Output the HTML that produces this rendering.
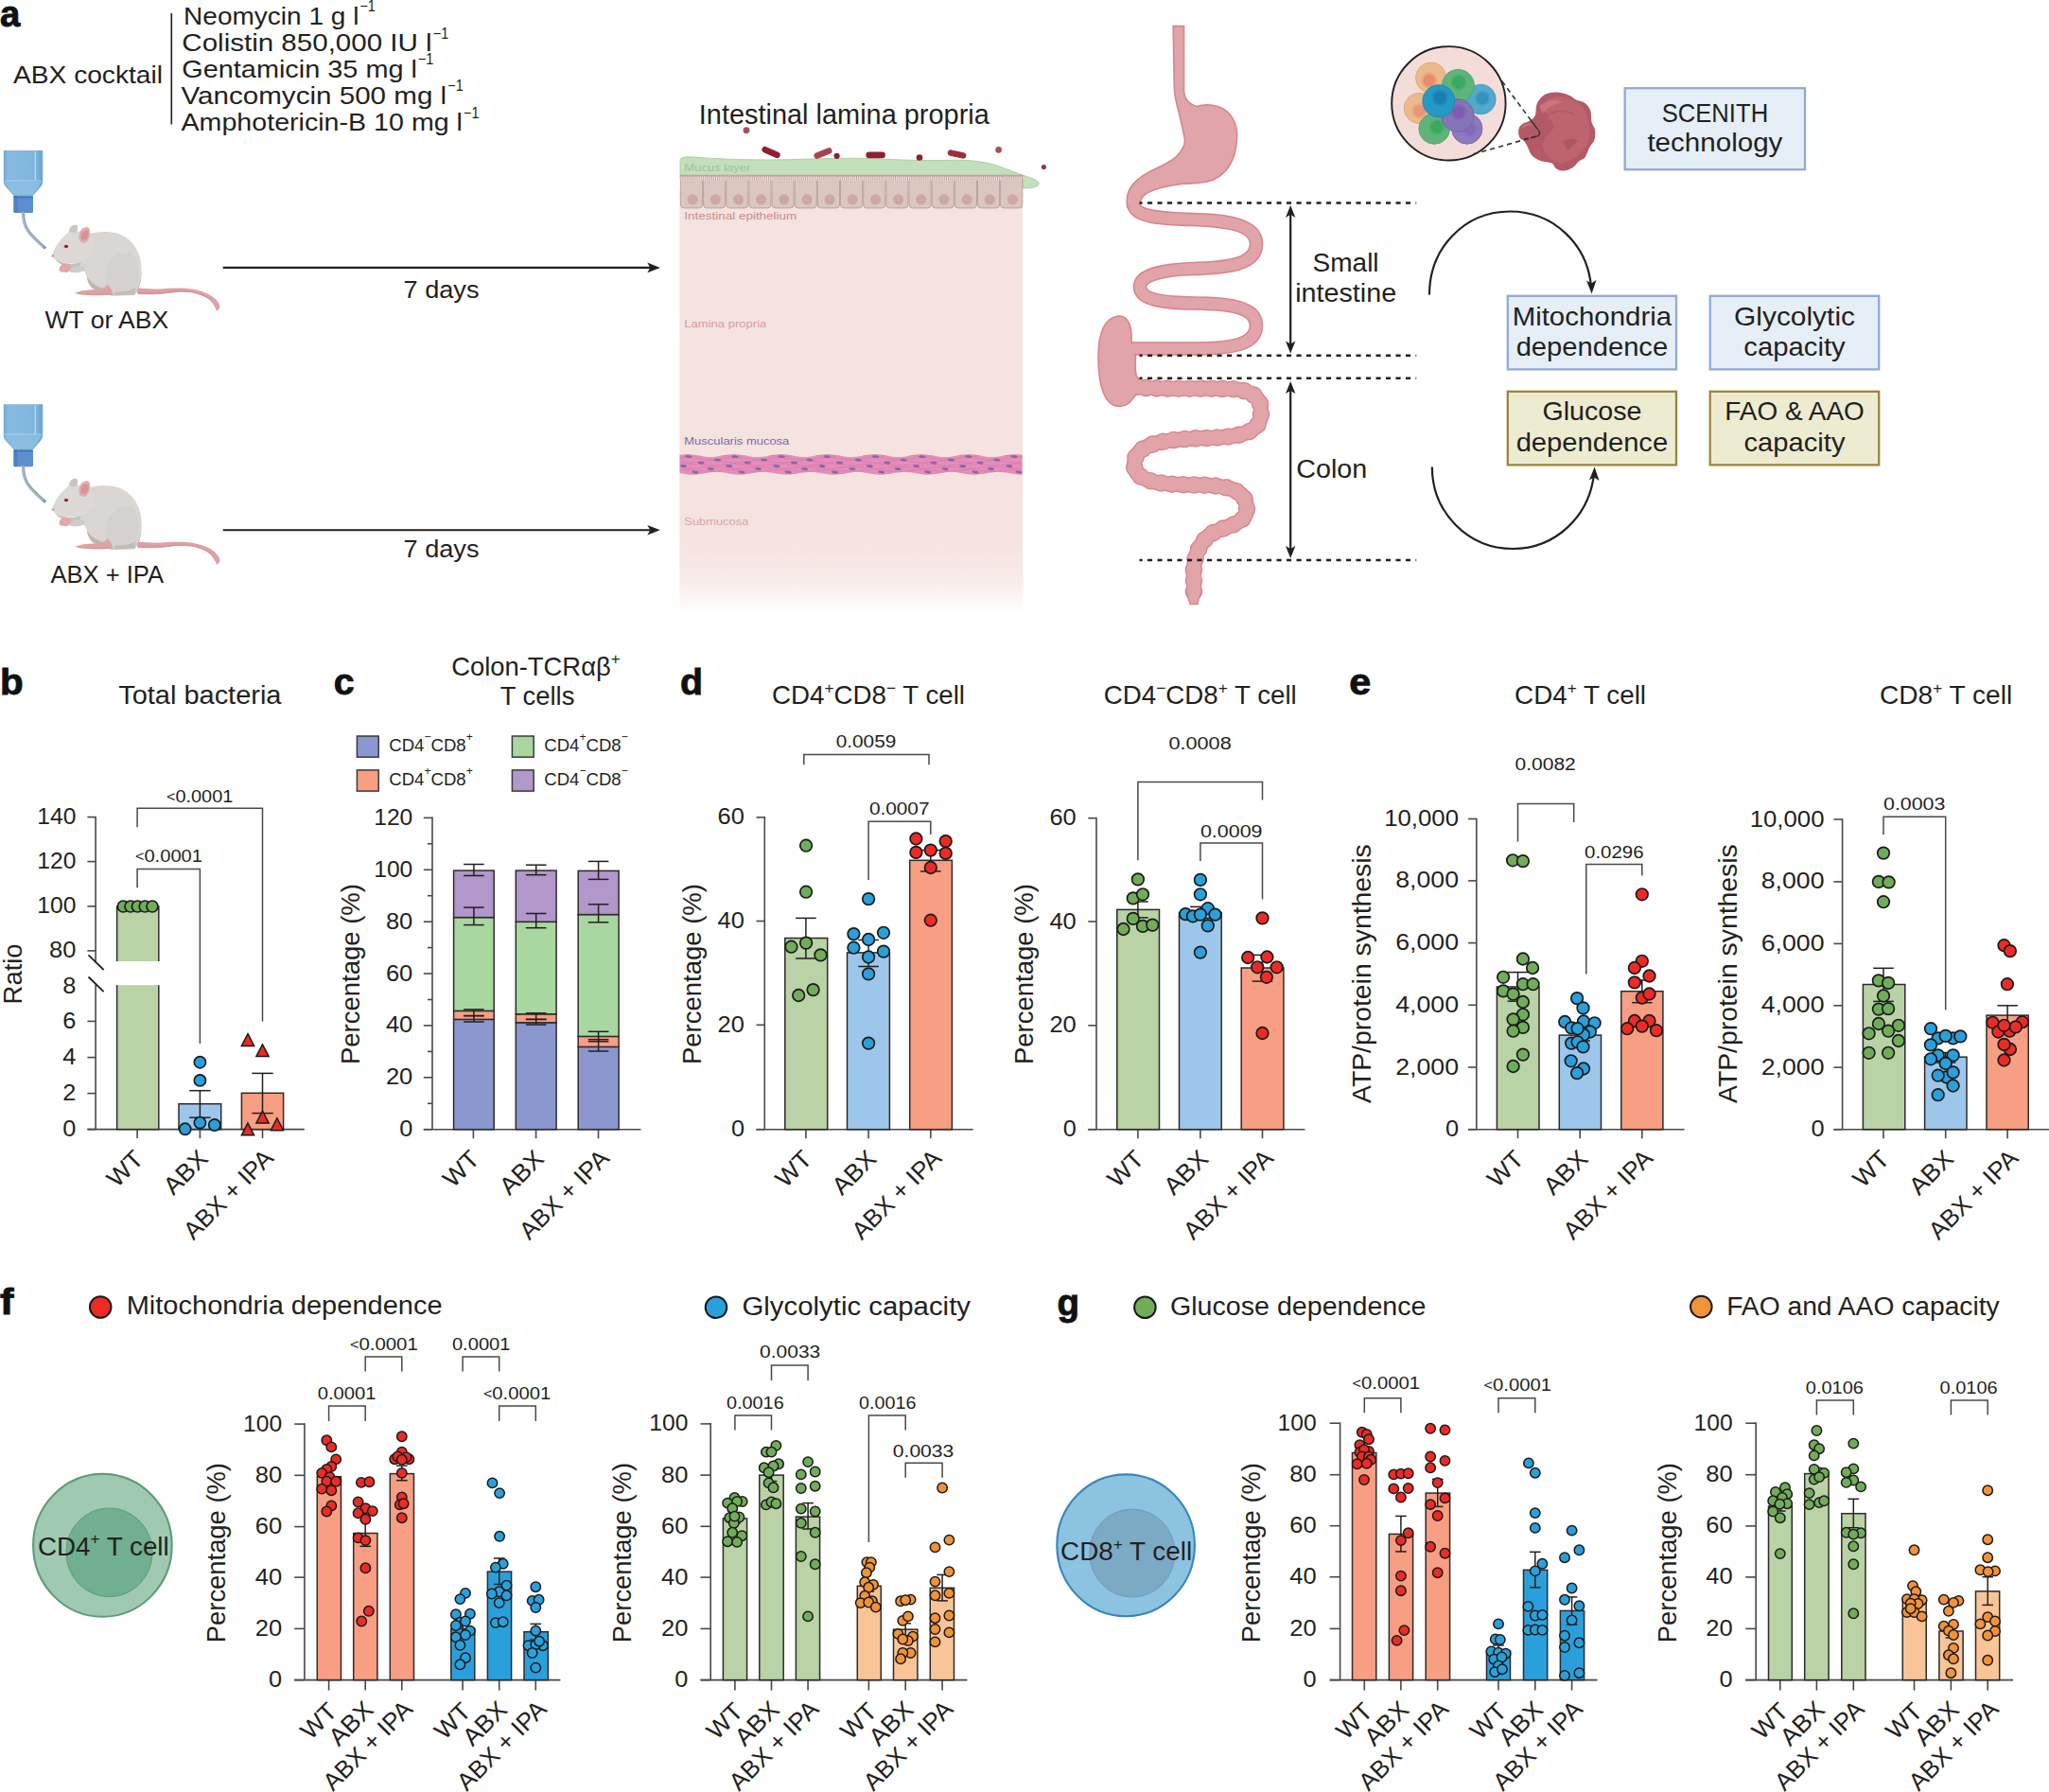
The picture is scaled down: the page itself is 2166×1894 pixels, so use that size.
<!DOCTYPE html>
<html><head><meta charset="utf-8"><title>Figure</title>
<style>html,body{margin:0;padding:0;background:#fff}svg{display:block}text{font-family:"Liberation Sans", sans-serif}</style>
</head><body>
<svg width="2166" height="1894" viewBox="0 0 2166 1894">
<rect width="2166" height="1894" fill="#fff"/>
<g fill="#231f20">
<defs><linearGradient id="bottleG" x1="0" x2="1" y1="0" y2="0"><stop offset="0" stop-color="#6fa9d6"/><stop offset="0.12" stop-color="#86badf"/><stop offset="0.7" stop-color="#82b7dd"/><stop offset="0.86" stop-color="#78b0d9"/><stop offset="1" stop-color="#6aa4d2"/></linearGradient></defs>
<text x="0.0" y="27.5" font-size="39" textLength="21.3" lengthAdjust="spacingAndGlyphs" font-weight="bold" fill="#111" stroke="#111" stroke-width="0.9">a</text>
<text x="14.0" y="87.7" font-size="26" textLength="158.0" lengthAdjust="spacingAndGlyphs">ABX cocktail</text>
<line x1="181.3" y1="14.0" x2="181.3" y2="131.5" stroke="#231f20" stroke-width="1.6" />
<text x="194.1" y="25.8" font-size="26" textLength="185.3" lengthAdjust="spacingAndGlyphs">Neomycin 1 g l</text>
<text x="380.4" y="12.3" font-size="16.5" textLength="16.5" lengthAdjust="spacingAndGlyphs">−1</text>
<text x="192.3" y="54.1" font-size="26" textLength="264.4" lengthAdjust="spacingAndGlyphs">Colistin 850,000 IU l</text>
<text x="457.7" y="40.6" font-size="16.5" textLength="16.5" lengthAdjust="spacingAndGlyphs">−1</text>
<text x="192.3" y="81.8" font-size="26" textLength="248.6" lengthAdjust="spacingAndGlyphs">Gentamicin 35 mg l</text>
<text x="441.9" y="68.3" font-size="16.5" textLength="16.5" lengthAdjust="spacingAndGlyphs">−1</text>
<text x="191.5" y="109.8" font-size="26" textLength="280.7" lengthAdjust="spacingAndGlyphs">Vancomycin 500 mg l</text>
<text x="473.2" y="96.3" font-size="16.5" textLength="16.5" lengthAdjust="spacingAndGlyphs">−1</text>
<text x="191.5" y="138.1" font-size="26" textLength="297.5" lengthAdjust="spacingAndGlyphs">Amphotericin-B 10 mg l</text>
<text x="490.0" y="124.6" font-size="16.5" textLength="16.5" lengthAdjust="spacingAndGlyphs">−1</text>
<g transform="translate(0 0)">

<path d="M3.8 159 L45.2 159 L45.2 192 Q45.2 195 43 197.5 L34.5 207.5 L15 207.5 L6 197.5 Q3.8 195 3.8 192 Z" fill="url(#bottleG)" stroke="none" stroke-width="1.5" />
<path d="M5 192.5 L44 192.5 L34 206 L15.5 206 Z" fill="#8cc0e2" stroke="none" stroke-width="1.5" opacity="0.8"/>
<path d="M5 191 L44 191" fill="none" stroke="#a8d2ee" stroke-width="1.2" />
<rect x="36.5" y="160.0" width="1.6" height="30.0" fill="#b4d8f0" stroke="none" stroke-width="1.5" />
<rect x="14.5" y="206.8" width="20.5" height="18.2" fill="#5b8fd0" stroke="none" stroke-width="1.5" rx="1.5"/>
<rect x="14.5" y="206.8" width="4.0" height="18.2" fill="#4f80c4" stroke="none" stroke-width="1.5" rx="1"/>
<path d="M14.5 208.5 L35 208.5" fill="none" stroke="#3f6fb5" stroke-width="1.2" />
<path d="M24.5 225 C24.5 240 30 247 47 261.5" fill="none" stroke="#8fa3b8" stroke-width="3.2" stroke-linecap="round"/>
<path d="M24 225 C24 240 29.5 247 46.5 261.8" fill="none" stroke="#b8c8d8" stroke-width="1" stroke-linecap="round"/>
<circle cx="47.0" cy="261.5" r="1.6" fill="#7f96ad" stroke="none" stroke-width="1.5" />
<path d="M144.9 304.1 C152 305.2 160 305.6 166.9 305.5 C174 305.2 180 304.6 186.4 304.6 C193 304.6 200 305 205.9 306 C211 307 216.5 308.8 220.6 310.9 C224 312.8 227.2 315.2 229.4 317.7 C231 319.6 232 321.6 232.3 323.6 C232.5 325.5 231.4 327.4 229.4 328.5 L228.4 327.5 C228 325 227.2 322.6 225.9 320.7 C224 318.2 221.5 316.3 218.6 314.8 C215 313 210.5 311.2 205.9 309.9 C200 308.7 193 308.6 186.4 308.9 C180 309.4 174 310.6 166.9 310.9 C160 311.2 152 311.2 145.4 310.9 Z" fill="#dca2a5" stroke="none" stroke-width="1.5" />
<path d="M146 309.6 C160 310.2 175 309.5 186.4 307.9 C196 307.4 206 308.6 215 312.2 C221 315 225.5 319 227.6 324.5" fill="none" stroke="#cc8a8e" stroke-width="1.1" stroke-linecap="round" opacity="0.7"/>
<path d="M92 292 C92 304 104 312.5 122 312.5 L142 312 C149 304 151 292 148 280 Z" fill="#bdb6b2" stroke="none" stroke-width="1.5" />
<path d="M73.5 262 C82 248 100 243.5 118 245.5 C138 248 149 265 149.5 283 C150 297 146 307 141 311.5 L120 312 C118 304 114 302 110 305 C100 302 92 296 90 288 C84 284 80 280 78 276 Z" fill="#d9d6d3" stroke="none" stroke-width="1.5" />
<path d="M112 303 C108 285 118 262 140 268 C149 280 149 298 141 311 L120 312 Z" fill="#d4d1ce" stroke="none" stroke-width="1.5" />
<path d="M121 312 L141.5 311.2 L143.5 304 C136 308 128 309 121 308.5 Z" fill="#c2bcb8" stroke="none" stroke-width="1.5" />
<path d="M78.6 309.9 C85 307 95 306 104 306.4 C108 306 111.5 303.5 113.5 300.5 C116 303 118 306 119.5 311 C108 312.8 92 313 78.6 309.9 Z" fill="#dda3a6" stroke="none" stroke-width="1.5" />
<path d="M82 310.4 C92 311.3 104 311.5 117 310.8" fill="none" stroke="#c98a8e" stroke-width="0.9" opacity="0.7"/>
<path d="M55.5 269.5 C57 262 64 252 73 245 C76 240 80 237 82 238.5 C82.5 241 82 243 81.5 244.5 C90 245 98 250 100 258 C100 268 92 276 82 277.5 C72 279.5 62 277 57.5 273.5 Z" fill="#dcd9d6" stroke="none" stroke-width="1.5" />
<path d="M73 245 C73 240 77 236.5 81 238 C82.5 240 82 243.5 80.5 246 Z" fill="#c9c4c2" stroke="none" stroke-width="1.5" />
<path d="M84 254 C82 246 86 240 92.5 240 C96.5 241.5 96 250 92 255 C89.5 257.5 85.5 257.5 84 254 Z" fill="#e2a9ac" stroke="none" stroke-width="1.5" />
<path d="M86 253 C85 247.5 88 243 92 243 C94 245 93.5 250 91 253.5 Z" fill="#d69497" stroke="none" stroke-width="1.5" />
<path d="M58 274 C66 279 78 280 86 277 C84 283 80 285 76 284 C70 283 62 279 58 274 Z" fill="#c6c1be" stroke="none" stroke-width="1.5" />
<path d="M74 284 C80 280 88 280 90 284 C88 288 80 289 74 287.5 Z" fill="#cfcbc8" stroke="none" stroke-width="1.5" />
<path d="M62.5 284.5 C63 280.5 66.5 278 70 278.5 C73.5 279 75.5 282 74.5 285 C73 288 69.5 288.5 67.5 287.5 C65 288 62.5 287 62.5 284.5 Z" fill="#e3a7ab" stroke="none" stroke-width="1.5" />
<ellipse cx="70" cy="260.4" rx="2.3" ry="1.7" fill="#b3262b"/>
<circle cx="70.0" cy="260.4" r="0.9" fill="#7c1015" stroke="none" stroke-width="1.5" />
<circle cx="56.0" cy="270.5" r="1.4" fill="#d89a9d" stroke="none" stroke-width="1.5" />
</g>
<text x="47.6" y="347.0" font-size="26" textLength="130.5" lengthAdjust="spacingAndGlyphs">WT or ABX</text>
<g transform="translate(0 268.2)">

<path d="M3.8 159 L45.2 159 L45.2 192 Q45.2 195 43 197.5 L34.5 207.5 L15 207.5 L6 197.5 Q3.8 195 3.8 192 Z" fill="url(#bottleG)" stroke="none" stroke-width="1.5" />
<path d="M5 192.5 L44 192.5 L34 206 L15.5 206 Z" fill="#8cc0e2" stroke="none" stroke-width="1.5" opacity="0.8"/>
<path d="M5 191 L44 191" fill="none" stroke="#a8d2ee" stroke-width="1.2" />
<rect x="36.5" y="160.0" width="1.6" height="30.0" fill="#b4d8f0" stroke="none" stroke-width="1.5" />
<rect x="14.5" y="206.8" width="20.5" height="18.2" fill="#5b8fd0" stroke="none" stroke-width="1.5" rx="1.5"/>
<rect x="14.5" y="206.8" width="4.0" height="18.2" fill="#4f80c4" stroke="none" stroke-width="1.5" rx="1"/>
<path d="M14.5 208.5 L35 208.5" fill="none" stroke="#3f6fb5" stroke-width="1.2" />
<path d="M24.5 225 C24.5 240 30 247 47 261.5" fill="none" stroke="#8fa3b8" stroke-width="3.2" stroke-linecap="round"/>
<path d="M24 225 C24 240 29.5 247 46.5 261.8" fill="none" stroke="#b8c8d8" stroke-width="1" stroke-linecap="round"/>
<circle cx="47.0" cy="261.5" r="1.6" fill="#7f96ad" stroke="none" stroke-width="1.5" />
<path d="M144.9 304.1 C152 305.2 160 305.6 166.9 305.5 C174 305.2 180 304.6 186.4 304.6 C193 304.6 200 305 205.9 306 C211 307 216.5 308.8 220.6 310.9 C224 312.8 227.2 315.2 229.4 317.7 C231 319.6 232 321.6 232.3 323.6 C232.5 325.5 231.4 327.4 229.4 328.5 L228.4 327.5 C228 325 227.2 322.6 225.9 320.7 C224 318.2 221.5 316.3 218.6 314.8 C215 313 210.5 311.2 205.9 309.9 C200 308.7 193 308.6 186.4 308.9 C180 309.4 174 310.6 166.9 310.9 C160 311.2 152 311.2 145.4 310.9 Z" fill="#dca2a5" stroke="none" stroke-width="1.5" />
<path d="M146 309.6 C160 310.2 175 309.5 186.4 307.9 C196 307.4 206 308.6 215 312.2 C221 315 225.5 319 227.6 324.5" fill="none" stroke="#cc8a8e" stroke-width="1.1" stroke-linecap="round" opacity="0.7"/>
<path d="M92 292 C92 304 104 312.5 122 312.5 L142 312 C149 304 151 292 148 280 Z" fill="#bdb6b2" stroke="none" stroke-width="1.5" />
<path d="M73.5 262 C82 248 100 243.5 118 245.5 C138 248 149 265 149.5 283 C150 297 146 307 141 311.5 L120 312 C118 304 114 302 110 305 C100 302 92 296 90 288 C84 284 80 280 78 276 Z" fill="#d9d6d3" stroke="none" stroke-width="1.5" />
<path d="M112 303 C108 285 118 262 140 268 C149 280 149 298 141 311 L120 312 Z" fill="#d4d1ce" stroke="none" stroke-width="1.5" />
<path d="M121 312 L141.5 311.2 L143.5 304 C136 308 128 309 121 308.5 Z" fill="#c2bcb8" stroke="none" stroke-width="1.5" />
<path d="M78.6 309.9 C85 307 95 306 104 306.4 C108 306 111.5 303.5 113.5 300.5 C116 303 118 306 119.5 311 C108 312.8 92 313 78.6 309.9 Z" fill="#dda3a6" stroke="none" stroke-width="1.5" />
<path d="M82 310.4 C92 311.3 104 311.5 117 310.8" fill="none" stroke="#c98a8e" stroke-width="0.9" opacity="0.7"/>
<path d="M55.5 269.5 C57 262 64 252 73 245 C76 240 80 237 82 238.5 C82.5 241 82 243 81.5 244.5 C90 245 98 250 100 258 C100 268 92 276 82 277.5 C72 279.5 62 277 57.5 273.5 Z" fill="#dcd9d6" stroke="none" stroke-width="1.5" />
<path d="M73 245 C73 240 77 236.5 81 238 C82.5 240 82 243.5 80.5 246 Z" fill="#c9c4c2" stroke="none" stroke-width="1.5" />
<path d="M84 254 C82 246 86 240 92.5 240 C96.5 241.5 96 250 92 255 C89.5 257.5 85.5 257.5 84 254 Z" fill="#e2a9ac" stroke="none" stroke-width="1.5" />
<path d="M86 253 C85 247.5 88 243 92 243 C94 245 93.5 250 91 253.5 Z" fill="#d69497" stroke="none" stroke-width="1.5" />
<path d="M58 274 C66 279 78 280 86 277 C84 283 80 285 76 284 C70 283 62 279 58 274 Z" fill="#c6c1be" stroke="none" stroke-width="1.5" />
<path d="M74 284 C80 280 88 280 90 284 C88 288 80 289 74 287.5 Z" fill="#cfcbc8" stroke="none" stroke-width="1.5" />
<path d="M62.5 284.5 C63 280.5 66.5 278 70 278.5 C73.5 279 75.5 282 74.5 285 C73 288 69.5 288.5 67.5 287.5 C65 288 62.5 287 62.5 284.5 Z" fill="#e3a7ab" stroke="none" stroke-width="1.5" />
<ellipse cx="70" cy="260.4" rx="2.3" ry="1.7" fill="#b3262b"/>
<circle cx="70.0" cy="260.4" r="0.9" fill="#7c1015" stroke="none" stroke-width="1.5" />
<circle cx="56.0" cy="270.5" r="1.4" fill="#d89a9d" stroke="none" stroke-width="1.5" />
</g>
<text x="53.4" y="615.8" font-size="26" textLength="119.7" lengthAdjust="spacingAndGlyphs">ABX + IPA</text>
<line x1="235.7" y1="282.9" x2="690.0" y2="282.9" stroke="#231f20" stroke-width="2.1" />
<path d="M697.8 282.9 L684.3 277.59999999999997 L687.3 282.9 L684.3 288.2 Z" fill="#231f20" stroke="none" stroke-width="1.5" />
<text x="426.5" y="314.9" font-size="26" textLength="80.0" lengthAdjust="spacingAndGlyphs">7 days</text>
<line x1="235.7" y1="560.2" x2="690.0" y2="560.2" stroke="#231f20" stroke-width="2.1" />
<path d="M697.8 560.2 L684.3 554.9000000000001 L687.3 560.2 L684.3 565.5 Z" fill="#231f20" stroke="none" stroke-width="1.5" />
<text x="426.5" y="589.3" font-size="26" textLength="80.0" lengthAdjust="spacingAndGlyphs">7 days</text>
<text x="738.8" y="130.8" font-size="29" textLength="307.0" lengthAdjust="spacingAndGlyphs">Intestinal lamina propria</text>
<defs><linearGradient id="tfade" x1="0" x2="0" y1="0" y2="1"><stop offset="0" stop-color="#f5e3e0"/><stop offset="0.82" stop-color="#f5e3e0"/><stop offset="0.92" stop-color="#f9ecea"/><stop offset="0.97" stop-color="#fdf8f7"/><stop offset="1" stop-color="#ffffff"/></linearGradient></defs>
<rect x="718.4" y="200.0" width="362.6" height="450.0" fill="url(#tfade)" stroke="none" stroke-width="1.5" />
<path d="M719 169.5 C719.5 166 724 165.3 735 166.2 C760 168.2 800 169.8 840 168.6 C875 167.4 905 166.6 935 168.2 C960 169.6 985 170 1010 169.2 C1030 169.2 1045 171.5 1058 176.5 C1072 182 1084 186 1092 189 C1098 191.5 1099.5 194 1097 196.2 C1093 198.6 1087 198.8 1081.5 199 L1081.5 188.5 L719 188.5 Z" fill="#c3dfbb" stroke="#acd1a5" stroke-width="1" />
<text x="723.3" y="181.3" font-size="11.5" textLength="70.0" lengthAdjust="spacingAndGlyphs" fill="#9dc399">Mucus layer</text>
<path d="M719.4 187.5 L742.6 187.5 L742.6 216 Q742.6 219.9 739.1 219.9 L722.9 219.9 Q719.4 219.9 719.4 216 Z" fill="#dbc6c0" stroke="#bca39d" stroke-width="1" />
<circle cx="732.2" cy="210.8" r="5.5" fill="#cba8a4" stroke="none" stroke-width="1.5" />
<path d="M743.6 187.5 L766.7 187.5 L766.7 216 Q766.7 219.9 763.2 219.9 L747.1 219.9 Q743.6 219.9 743.6 216 Z" fill="#dbc6c0" stroke="#bca39d" stroke-width="1" />
<circle cx="756.3" cy="210.8" r="5.5" fill="#cba8a4" stroke="none" stroke-width="1.5" />
<path d="M767.7 187.5 L790.9 187.5 L790.9 216 Q790.9 219.9 787.4 219.9 L771.2 219.9 Q767.7 219.9 767.7 216 Z" fill="#dbc6c0" stroke="#bca39d" stroke-width="1" />
<circle cx="780.5" cy="210.8" r="5.5" fill="#cba8a4" stroke="none" stroke-width="1.5" />
<path d="M791.9 187.5 L815.0 187.5 L815.0 216 Q815.0 219.9 811.5 219.9 L795.4 219.9 Q791.9 219.9 791.9 216 Z" fill="#dbc6c0" stroke="#bca39d" stroke-width="1" />
<circle cx="804.7" cy="210.8" r="5.5" fill="#cba8a4" stroke="none" stroke-width="1.5" />
<path d="M816.0 187.5 L839.2 187.5 L839.2 216 Q839.2 219.9 835.7 219.9 L819.5 219.9 Q816.0 219.9 816.0 216 Z" fill="#dbc6c0" stroke="#bca39d" stroke-width="1" />
<circle cx="828.8" cy="210.8" r="5.5" fill="#cba8a4" stroke="none" stroke-width="1.5" />
<path d="M840.2 187.5 L863.4 187.5 L863.4 216 Q863.4 219.9 859.9 219.9 L843.7 219.9 Q840.2 219.9 840.2 216 Z" fill="#dbc6c0" stroke="#bca39d" stroke-width="1" />
<circle cx="853.0" cy="210.8" r="5.5" fill="#cba8a4" stroke="none" stroke-width="1.5" />
<path d="M864.4 187.5 L887.5 187.5 L887.5 216 Q887.5 219.9 884.0 219.9 L867.9 219.9 Q864.4 219.9 864.4 216 Z" fill="#dbc6c0" stroke="#bca39d" stroke-width="1" />
<circle cx="877.1" cy="210.8" r="5.5" fill="#cba8a4" stroke="none" stroke-width="1.5" />
<path d="M888.5 187.5 L911.7 187.5 L911.7 216 Q911.7 219.9 908.2 219.9 L892.0 219.9 Q888.5 219.9 888.5 216 Z" fill="#dbc6c0" stroke="#bca39d" stroke-width="1" />
<circle cx="901.3" cy="210.8" r="5.5" fill="#cba8a4" stroke="none" stroke-width="1.5" />
<path d="M912.7 187.5 L935.8 187.5 L935.8 216 Q935.8 219.9 932.3 219.9 L916.2 219.9 Q912.7 219.9 912.7 216 Z" fill="#dbc6c0" stroke="#bca39d" stroke-width="1" />
<circle cx="925.5" cy="210.8" r="5.5" fill="#cba8a4" stroke="none" stroke-width="1.5" />
<path d="M936.8 187.5 L960.0 187.5 L960.0 216 Q960.0 219.9 956.5 219.9 L940.3 219.9 Q936.8 219.9 936.8 216 Z" fill="#dbc6c0" stroke="#bca39d" stroke-width="1" />
<circle cx="949.6" cy="210.8" r="5.5" fill="#cba8a4" stroke="none" stroke-width="1.5" />
<path d="M961.0 187.5 L984.2 187.5 L984.2 216 Q984.2 219.9 980.7 219.9 L964.5 219.9 Q961.0 219.9 961.0 216 Z" fill="#dbc6c0" stroke="#bca39d" stroke-width="1" />
<circle cx="973.8" cy="210.8" r="5.5" fill="#cba8a4" stroke="none" stroke-width="1.5" />
<path d="M985.2 187.5 L1008.3 187.5 L1008.3 216 Q1008.3 219.9 1004.8 219.9 L988.7 219.9 Q985.2 219.9 985.2 216 Z" fill="#dbc6c0" stroke="#bca39d" stroke-width="1" />
<circle cx="997.9" cy="210.8" r="5.5" fill="#cba8a4" stroke="none" stroke-width="1.5" />
<path d="M1009.3 187.5 L1032.5 187.5 L1032.5 216 Q1032.5 219.9 1029.0 219.9 L1012.8 219.9 Q1009.3 219.9 1009.3 216 Z" fill="#dbc6c0" stroke="#bca39d" stroke-width="1" />
<circle cx="1022.1" cy="210.8" r="5.5" fill="#cba8a4" stroke="none" stroke-width="1.5" />
<path d="M1033.5 187.5 L1056.6 187.5 L1056.6 216 Q1056.6 219.9 1053.1 219.9 L1037.0 219.9 Q1033.5 219.9 1033.5 216 Z" fill="#dbc6c0" stroke="#bca39d" stroke-width="1" />
<circle cx="1046.3" cy="210.8" r="5.5" fill="#cba8a4" stroke="none" stroke-width="1.5" />
<path d="M1057.6 187.5 L1080.8 187.5 L1080.8 216 Q1080.8 219.9 1077.3 219.9 L1061.1 219.9 Q1057.6 219.9 1057.6 216 Z" fill="#dbc6c0" stroke="#bca39d" stroke-width="1" />
<circle cx="1070.4" cy="210.8" r="5.5" fill="#cba8a4" stroke="none" stroke-width="1.5" />
<rect x="719.0" y="186.2" width="362.3" height="4.6" fill="#efe6e1" stroke="none" stroke-width="1.5" />
<rect x="719.0" y="184.7" width="362.3" height="1.9" fill="#c3a49e" stroke="none" stroke-width="1.5" />
<path d="M719.70 185 L719.70 190.9 M721.86 185 L721.86 190.9 M724.02 185 L724.02 190.9 M726.18 185 L726.18 190.9 M728.34 185 L728.34 190.9 M730.50 185 L730.50 190.9 M732.66 185 L732.66 190.9 M734.82 185 L734.82 190.9 M736.98 185 L736.98 190.9 M739.14 185 L739.14 190.9 M741.30 185 L741.30 190.9 M743.46 185 L743.46 190.9 M745.62 185 L745.62 190.9 M747.78 185 L747.78 190.9 M749.94 185 L749.94 190.9 M752.10 185 L752.10 190.9 M754.26 185 L754.26 190.9 M756.42 185 L756.42 190.9 M758.58 185 L758.58 190.9 M760.74 185 L760.74 190.9 M762.90 185 L762.90 190.9 M765.06 185 L765.06 190.9 M767.22 185 L767.22 190.9 M769.38 185 L769.38 190.9 M771.54 185 L771.54 190.9 M773.70 185 L773.70 190.9 M775.86 185 L775.86 190.9 M778.02 185 L778.02 190.9 M780.18 185 L780.18 190.9 M782.34 185 L782.34 190.9 M784.50 185 L784.50 190.9 M786.66 185 L786.66 190.9 M788.82 185 L788.82 190.9 M790.98 185 L790.98 190.9 M793.14 185 L793.14 190.9 M795.30 185 L795.30 190.9 M797.46 185 L797.46 190.9 M799.62 185 L799.62 190.9 M801.78 185 L801.78 190.9 M803.94 185 L803.94 190.9 M806.10 185 L806.10 190.9 M808.26 185 L808.26 190.9 M810.42 185 L810.42 190.9 M812.58 185 L812.58 190.9 M814.74 185 L814.74 190.9 M816.90 185 L816.90 190.9 M819.06 185 L819.06 190.9 M821.22 185 L821.22 190.9 M823.38 185 L823.38 190.9 M825.54 185 L825.54 190.9 M827.70 185 L827.70 190.9 M829.86 185 L829.86 190.9 M832.02 185 L832.02 190.9 M834.18 185 L834.18 190.9 M836.34 185 L836.34 190.9 M838.50 185 L838.50 190.9 M840.66 185 L840.66 190.9 M842.82 185 L842.82 190.9 M844.98 185 L844.98 190.9 M847.14 185 L847.14 190.9 M849.30 185 L849.30 190.9 M851.46 185 L851.46 190.9 M853.62 185 L853.62 190.9 M855.78 185 L855.78 190.9 M857.94 185 L857.94 190.9 M860.10 185 L860.10 190.9 M862.26 185 L862.26 190.9 M864.42 185 L864.42 190.9 M866.58 185 L866.58 190.9 M868.74 185 L868.74 190.9 M870.90 185 L870.90 190.9 M873.06 185 L873.06 190.9 M875.22 185 L875.22 190.9 M877.38 185 L877.38 190.9 M879.54 185 L879.54 190.9 M881.70 185 L881.70 190.9 M883.86 185 L883.86 190.9 M886.02 185 L886.02 190.9 M888.18 185 L888.18 190.9 M890.34 185 L890.34 190.9 M892.50 185 L892.50 190.9 M894.66 185 L894.66 190.9 M896.82 185 L896.82 190.9 M898.98 185 L898.98 190.9 M901.14 185 L901.14 190.9 M903.30 185 L903.30 190.9 M905.46 185 L905.46 190.9 M907.62 185 L907.62 190.9 M909.78 185 L909.78 190.9 M911.94 185 L911.94 190.9 M914.10 185 L914.10 190.9 M916.26 185 L916.26 190.9 M918.42 185 L918.42 190.9 M920.58 185 L920.58 190.9 M922.74 185 L922.74 190.9 M924.90 185 L924.90 190.9 M927.06 185 L927.06 190.9 M929.22 185 L929.22 190.9 M931.38 185 L931.38 190.9 M933.54 185 L933.54 190.9 M935.70 185 L935.70 190.9 M937.86 185 L937.86 190.9 M940.02 185 L940.02 190.9 M942.18 185 L942.18 190.9 M944.34 185 L944.34 190.9 M946.50 185 L946.50 190.9 M948.66 185 L948.66 190.9 M950.82 185 L950.82 190.9 M952.98 185 L952.98 190.9 M955.14 185 L955.14 190.9 M957.30 185 L957.30 190.9 M959.46 185 L959.46 190.9 M961.62 185 L961.62 190.9 M963.78 185 L963.78 190.9 M965.94 185 L965.94 190.9 M968.10 185 L968.10 190.9 M970.26 185 L970.26 190.9 M972.42 185 L972.42 190.9 M974.58 185 L974.58 190.9 M976.74 185 L976.74 190.9 M978.90 185 L978.90 190.9 M981.06 185 L981.06 190.9 M983.22 185 L983.22 190.9 M985.38 185 L985.38 190.9 M987.54 185 L987.54 190.9 M989.70 185 L989.70 190.9 M991.86 185 L991.86 190.9 M994.02 185 L994.02 190.9 M996.18 185 L996.18 190.9 M998.34 185 L998.34 190.9 M1000.50 185 L1000.50 190.9 M1002.66 185 L1002.66 190.9 M1004.82 185 L1004.82 190.9 M1006.98 185 L1006.98 190.9 M1009.14 185 L1009.14 190.9 M1011.30 185 L1011.30 190.9 M1013.46 185 L1013.46 190.9 M1015.62 185 L1015.62 190.9 M1017.78 185 L1017.78 190.9 M1019.94 185 L1019.94 190.9 M1022.10 185 L1022.10 190.9 M1024.26 185 L1024.26 190.9 M1026.42 185 L1026.42 190.9 M1028.58 185 L1028.58 190.9 M1030.74 185 L1030.74 190.9 M1032.90 185 L1032.90 190.9 M1035.06 185 L1035.06 190.9 M1037.22 185 L1037.22 190.9 M1039.38 185 L1039.38 190.9 M1041.54 185 L1041.54 190.9 M1043.70 185 L1043.70 190.9 M1045.86 185 L1045.86 190.9 M1048.02 185 L1048.02 190.9 M1050.18 185 L1050.18 190.9 M1052.34 185 L1052.34 190.9 M1054.50 185 L1054.50 190.9 M1056.66 185 L1056.66 190.9 M1058.82 185 L1058.82 190.9 M1060.98 185 L1060.98 190.9 M1063.14 185 L1063.14 190.9 M1065.30 185 L1065.30 190.9 M1067.46 185 L1067.46 190.9 M1069.62 185 L1069.62 190.9 M1071.78 185 L1071.78 190.9 M1073.94 185 L1073.94 190.9 M1076.10 185 L1076.10 190.9 M1078.26 185 L1078.26 190.9 M1080.42 185 L1080.42 190.9 " fill="none" stroke="#c3a49e" stroke-width="1.0" />
<text x="723.3" y="232.2" font-size="11.5" textLength="119.0" lengthAdjust="spacingAndGlyphs" fill="#c78b8c">Intestinal epithelium</text>
<text x="723.3" y="345.5" font-size="11.5" textLength="87.0" lengthAdjust="spacingAndGlyphs" fill="#d69ba5">Lamina propria</text>
<text x="723.3" y="470.2" font-size="11.5" textLength="111.0" lengthAdjust="spacingAndGlyphs" fill="#7d68a6">Muscularis mucosa</text>
<text x="723.3" y="555.3" font-size="11.5" textLength="68.0" lengthAdjust="spacingAndGlyphs" fill="#dba3a8">Submucosa</text>
<path d="M718.6 480.7 L721.6 480.4 L724.6 480.1 L727.6 480.1 L730.6 480.3 L733.6 480.7 L736.6 481.2 L739.6 481.8 L742.6 482.3 L745.6 482.8 L748.6 483.0 L751.6 483.1 L754.6 482.9 L757.6 482.6 L760.6 482.1 L763.6 481.6 L766.6 481.0 L769.6 480.5 L772.6 480.2 L775.6 480.1 L778.6 480.2 L781.6 480.5 L784.6 480.9 L787.6 481.5 L790.6 482.0 L793.6 482.5 L796.6 482.9 L799.6 483.1 L802.6 483.1 L805.6 482.8 L808.6 482.4 L811.6 481.9 L814.6 481.3 L817.6 480.8 L820.6 480.4 L823.6 480.1 L826.6 480.1 L829.6 480.3 L832.6 480.7 L835.6 481.2 L838.6 481.7 L841.6 482.3 L844.6 482.7 L847.6 483.0 L850.6 483.1 L853.6 483.0 L856.6 482.6 L859.6 482.2 L862.6 481.6 L865.6 481.0 L868.6 480.6 L871.6 480.2 L874.6 480.1 L877.6 480.2 L880.6 480.5 L883.6 480.9 L886.6 481.4 L889.6 482.0 L892.6 482.5 L895.6 482.9 L898.6 483.1 L901.6 483.1 L904.6 482.8 L907.6 482.4 L910.6 481.9 L913.6 481.3 L916.6 480.8 L919.6 480.4 L922.6 480.1 L925.6 480.1 L928.6 480.3 L931.6 480.6 L934.6 481.1 L937.6 481.7 L940.6 482.3 L943.6 482.7 L946.6 483.0 L949.6 483.1 L952.6 483.0 L955.6 482.7 L958.6 482.2 L961.6 481.6 L964.6 481.1 L967.6 480.6 L970.6 480.3 L973.6 480.1 L976.6 480.2 L979.6 480.4 L982.6 480.9 L985.6 481.4 L988.6 482.0 L991.6 482.5 L994.6 482.9 L997.6 483.1 L1000.6 483.1 L1003.6 482.9 L1006.6 482.5 L1009.6 481.9 L1012.6 481.4 L1015.6 480.8 L1018.6 480.4 L1021.6 480.2 L1024.6 480.1 L1027.6 480.3 L1030.6 480.6 L1033.6 481.1 L1036.6 481.7 L1039.6 482.2 L1042.6 482.7 L1045.6 483.0 L1048.6 483.1 L1051.6 483.0 L1054.6 482.7 L1057.6 482.2 L1060.6 481.7 L1063.6 481.1 L1066.6 480.6 L1069.6 480.3 L1072.6 480.1 L1075.6 480.2 L1078.6 480.4 L1080.6 480.7 L1080.6 501.6 L1078.6 501.6 L1075.6 501.4 L1072.6 501.1 L1069.6 500.6 L1066.6 500.1 L1063.6 499.6 L1060.6 499.2 L1057.6 498.9 L1054.6 498.8 L1051.6 498.9 L1048.6 499.2 L1045.6 499.6 L1042.6 500.2 L1039.6 500.7 L1036.6 501.1 L1033.6 501.5 L1030.6 501.6 L1027.6 501.5 L1024.6 501.3 L1021.6 500.9 L1018.6 500.4 L1015.6 499.9 L1012.6 499.4 L1009.6 499.0 L1006.6 498.8 L1003.6 498.8 L1000.6 499.0 L997.6 499.4 L994.6 499.9 L991.6 500.4 L988.6 500.9 L985.6 501.3 L982.6 501.5 L979.6 501.6 L976.6 501.4 L973.6 501.1 L970.6 500.7 L967.6 500.1 L964.6 499.6 L961.6 499.2 L958.6 498.9 L955.6 498.8 L952.6 498.9 L949.6 499.2 L946.6 499.6 L943.6 500.1 L940.6 500.7 L937.6 501.1 L934.6 501.4 L931.6 501.6 L928.6 501.5 L925.6 501.3 L922.6 500.9 L919.6 500.4 L916.6 499.9 L913.6 499.4 L910.6 499.0 L907.6 498.8 L904.6 498.8 L901.6 499.0 L898.6 499.4 L895.6 499.8 L892.6 500.4 L889.6 500.9 L886.6 501.3 L883.6 501.5 L880.6 501.6 L877.6 501.5 L874.6 501.1 L871.6 500.7 L868.6 500.2 L865.6 499.7 L862.6 499.2 L859.6 498.9 L856.6 498.8 L853.6 498.9 L850.6 499.2 L847.6 499.6 L844.6 500.1 L841.6 500.6 L838.6 501.1 L835.6 501.4 L832.6 501.6 L829.6 501.6 L826.6 501.3 L823.6 500.9 L820.6 500.4 L817.6 499.9 L814.6 499.4 L811.6 499.1 L808.6 498.8 L805.6 498.8 L802.6 499.0 L799.6 499.3 L796.6 499.8 L793.6 500.3 L790.6 500.8 L787.6 501.3 L784.6 501.5 L781.6 501.6 L778.6 501.5 L775.6 501.2 L772.6 500.7 L769.6 500.2 L766.6 499.7 L763.6 499.2 L760.6 498.9 L757.6 498.8 L754.6 498.9 L751.6 499.1 L748.6 499.5 L745.6 500.1 L742.6 500.6 L739.6 501.1 L736.6 501.4 L733.6 501.6 L730.6 501.6 L727.6 501.4 L724.6 501.0 L721.6 500.5 L718.6 500.0 Z" fill="#e78dba" stroke="none" stroke-width="1.5" />
<clipPath id="mclip"><path d="M718.6 480.7 L721.6 480.4 L724.6 480.1 L727.6 480.1 L730.6 480.3 L733.6 480.7 L736.6 481.2 L739.6 481.8 L742.6 482.3 L745.6 482.8 L748.6 483.0 L751.6 483.1 L754.6 482.9 L757.6 482.6 L760.6 482.1 L763.6 481.6 L766.6 481.0 L769.6 480.5 L772.6 480.2 L775.6 480.1 L778.6 480.2 L781.6 480.5 L784.6 480.9 L787.6 481.5 L790.6 482.0 L793.6 482.5 L796.6 482.9 L799.6 483.1 L802.6 483.1 L805.6 482.8 L808.6 482.4 L811.6 481.9 L814.6 481.3 L817.6 480.8 L820.6 480.4 L823.6 480.1 L826.6 480.1 L829.6 480.3 L832.6 480.7 L835.6 481.2 L838.6 481.7 L841.6 482.3 L844.6 482.7 L847.6 483.0 L850.6 483.1 L853.6 483.0 L856.6 482.6 L859.6 482.2 L862.6 481.6 L865.6 481.0 L868.6 480.6 L871.6 480.2 L874.6 480.1 L877.6 480.2 L880.6 480.5 L883.6 480.9 L886.6 481.4 L889.6 482.0 L892.6 482.5 L895.6 482.9 L898.6 483.1 L901.6 483.1 L904.6 482.8 L907.6 482.4 L910.6 481.9 L913.6 481.3 L916.6 480.8 L919.6 480.4 L922.6 480.1 L925.6 480.1 L928.6 480.3 L931.6 480.6 L934.6 481.1 L937.6 481.7 L940.6 482.3 L943.6 482.7 L946.6 483.0 L949.6 483.1 L952.6 483.0 L955.6 482.7 L958.6 482.2 L961.6 481.6 L964.6 481.1 L967.6 480.6 L970.6 480.3 L973.6 480.1 L976.6 480.2 L979.6 480.4 L982.6 480.9 L985.6 481.4 L988.6 482.0 L991.6 482.5 L994.6 482.9 L997.6 483.1 L1000.6 483.1 L1003.6 482.9 L1006.6 482.5 L1009.6 481.9 L1012.6 481.4 L1015.6 480.8 L1018.6 480.4 L1021.6 480.2 L1024.6 480.1 L1027.6 480.3 L1030.6 480.6 L1033.6 481.1 L1036.6 481.7 L1039.6 482.2 L1042.6 482.7 L1045.6 483.0 L1048.6 483.1 L1051.6 483.0 L1054.6 482.7 L1057.6 482.2 L1060.6 481.7 L1063.6 481.1 L1066.6 480.6 L1069.6 480.3 L1072.6 480.1 L1075.6 480.2 L1078.6 480.4 L1080.6 480.7 L1080.6 501.6 L1078.6 501.6 L1075.6 501.4 L1072.6 501.1 L1069.6 500.6 L1066.6 500.1 L1063.6 499.6 L1060.6 499.2 L1057.6 498.9 L1054.6 498.8 L1051.6 498.9 L1048.6 499.2 L1045.6 499.6 L1042.6 500.2 L1039.6 500.7 L1036.6 501.1 L1033.6 501.5 L1030.6 501.6 L1027.6 501.5 L1024.6 501.3 L1021.6 500.9 L1018.6 500.4 L1015.6 499.9 L1012.6 499.4 L1009.6 499.0 L1006.6 498.8 L1003.6 498.8 L1000.6 499.0 L997.6 499.4 L994.6 499.9 L991.6 500.4 L988.6 500.9 L985.6 501.3 L982.6 501.5 L979.6 501.6 L976.6 501.4 L973.6 501.1 L970.6 500.7 L967.6 500.1 L964.6 499.6 L961.6 499.2 L958.6 498.9 L955.6 498.8 L952.6 498.9 L949.6 499.2 L946.6 499.6 L943.6 500.1 L940.6 500.7 L937.6 501.1 L934.6 501.4 L931.6 501.6 L928.6 501.5 L925.6 501.3 L922.6 500.9 L919.6 500.4 L916.6 499.9 L913.6 499.4 L910.6 499.0 L907.6 498.8 L904.6 498.8 L901.6 499.0 L898.6 499.4 L895.6 499.8 L892.6 500.4 L889.6 500.9 L886.6 501.3 L883.6 501.5 L880.6 501.6 L877.6 501.5 L874.6 501.1 L871.6 500.7 L868.6 500.2 L865.6 499.7 L862.6 499.2 L859.6 498.9 L856.6 498.8 L853.6 498.9 L850.6 499.2 L847.6 499.6 L844.6 500.1 L841.6 500.6 L838.6 501.1 L835.6 501.4 L832.6 501.6 L829.6 501.6 L826.6 501.3 L823.6 500.9 L820.6 500.4 L817.6 499.9 L814.6 499.4 L811.6 499.1 L808.6 498.8 L805.6 498.8 L802.6 499.0 L799.6 499.3 L796.6 499.8 L793.6 500.3 L790.6 500.8 L787.6 501.3 L784.6 501.5 L781.6 501.6 L778.6 501.5 L775.6 501.2 L772.6 500.7 L769.6 500.2 L766.6 499.7 L763.6 499.2 L760.6 498.9 L757.6 498.8 L754.6 498.9 L751.6 499.1 L748.6 499.5 L745.6 500.1 L742.6 500.6 L739.6 501.1 L736.6 501.4 L733.6 501.6 L730.6 501.6 L727.6 501.4 L724.6 501.0 L721.6 500.5 L718.6 500.0 Z"/></clipPath><g clip-path="url(#mclip)">
<path d="M715 481.5 Q702.6 479.1 715.0 481.5 T739.8 481.5 Q752.2 479.1 764.6 481.5 T789.4 481.5 Q801.8 479.1 814.2 481.5 T839.0 481.5 Q851.4 479.1 863.8 481.5 T888.6 481.5 Q901.0 479.1 913.4 481.5 T938.2 481.5 Q950.6 479.1 963.0 481.5 T987.8 481.5 Q1000.2 479.1 1012.6 481.5 T1037.4 481.5 Q1049.8 479.1 1062.2 481.5 T1087.0 481.5" fill="none" stroke="#d978ab" stroke-width="0.8" opacity="0.85"/>
<path d="M715 484.7 Q727.4 482.3 739.8 484.7 T764.6 484.7 Q777.0 482.3 789.4 484.7 T814.2 484.7 Q826.6 482.3 839.0 484.7 T863.8 484.7 Q876.2 482.3 888.6 484.7 T913.4 484.7 Q925.8 482.3 938.2 484.7 T963.0 484.7 Q975.4 482.3 987.8 484.7 T1012.6 484.7 Q1025.0 482.3 1037.4 484.7 T1062.2 484.7 Q1074.6 482.3 1087.0 484.7 T1111.8 484.7" fill="none" stroke="#d978ab" stroke-width="0.8" opacity="0.85"/>
<path d="M715 487.9 Q702.6 485.5 715.0 487.9 T739.8 487.9 Q752.2 485.5 764.6 487.9 T789.4 487.9 Q801.8 485.5 814.2 487.9 T839.0 487.9 Q851.4 485.5 863.8 487.9 T888.6 487.9 Q901.0 485.5 913.4 487.9 T938.2 487.9 Q950.6 485.5 963.0 487.9 T987.8 487.9 Q1000.2 485.5 1012.6 487.9 T1037.4 487.9 Q1049.8 485.5 1062.2 487.9 T1087.0 487.9" fill="none" stroke="#d978ab" stroke-width="0.8" opacity="0.85"/>
<path d="M715 491.1 Q727.4 488.7 739.8 491.1 T764.6 491.1 Q777.0 488.7 789.4 491.1 T814.2 491.1 Q826.6 488.7 839.0 491.1 T863.8 491.1 Q876.2 488.7 888.6 491.1 T913.4 491.1 Q925.8 488.7 938.2 491.1 T963.0 491.1 Q975.4 488.7 987.8 491.1 T1012.6 491.1 Q1025.0 488.7 1037.4 491.1 T1062.2 491.1 Q1074.6 488.7 1087.0 491.1 T1111.8 491.1" fill="none" stroke="#d978ab" stroke-width="0.8" opacity="0.85"/>
<path d="M715 494.3 Q702.6 491.9 715.0 494.3 T739.8 494.3 Q752.2 491.9 764.6 494.3 T789.4 494.3 Q801.8 491.9 814.2 494.3 T839.0 494.3 Q851.4 491.9 863.8 494.3 T888.6 494.3 Q901.0 491.9 913.4 494.3 T938.2 494.3 Q950.6 491.9 963.0 494.3 T987.8 494.3 Q1000.2 491.9 1012.6 494.3 T1037.4 494.3 Q1049.8 491.9 1062.2 494.3 T1087.0 494.3" fill="none" stroke="#d978ab" stroke-width="0.8" opacity="0.85"/>
<path d="M715 497.5 Q727.4 495.1 739.8 497.5 T764.6 497.5 Q777.0 495.1 789.4 497.5 T814.2 497.5 Q826.6 495.1 839.0 497.5 T863.8 497.5 Q876.2 495.1 888.6 497.5 T913.4 497.5 Q925.8 495.1 938.2 497.5 T963.0 497.5 Q975.4 495.1 987.8 497.5 T1012.6 497.5 Q1025.0 495.1 1037.4 497.5 T1062.2 497.5 Q1074.6 495.1 1087.0 497.5 T1111.8 497.5" fill="none" stroke="#d978ab" stroke-width="0.8" opacity="0.85"/>
<path d="M715 500.7 Q702.6 498.3 715.0 500.7 T739.8 500.7 Q752.2 498.3 764.6 500.7 T789.4 500.7 Q801.8 498.3 814.2 500.7 T839.0 500.7 Q851.4 498.3 863.8 500.7 T888.6 500.7 Q901.0 498.3 913.4 500.7 T938.2 500.7 Q950.6 498.3 963.0 500.7 T987.8 500.7 Q1000.2 498.3 1012.6 500.7 T1037.4 500.7 Q1049.8 498.3 1062.2 500.7 T1087.0 500.7" fill="none" stroke="#d978ab" stroke-width="0.8" opacity="0.85"/>
<ellipse cx="727.7" cy="482.6" rx="3.6" ry="1.35" fill="#7b6cab" transform="rotate(6 727.7 482.6)"/>
<ellipse cx="776.9" cy="482.6" rx="3.6" ry="1.35" fill="#7b6cab" transform="rotate(6 776.9 482.6)"/>
<ellipse cx="826.1" cy="482.6" rx="3.6" ry="1.35" fill="#7b6cab" transform="rotate(6 826.1 482.6)"/>
<ellipse cx="874.2" cy="482.6" rx="3.6" ry="1.35" fill="#7b6cab" transform="rotate(6 874.2 482.6)"/>
<ellipse cx="925.5" cy="482.6" rx="3.6" ry="1.35" fill="#7b6cab" transform="rotate(6 925.5 482.6)"/>
<ellipse cx="974.6" cy="482.6" rx="3.6" ry="1.35" fill="#7b6cab" transform="rotate(6 974.6 482.6)"/>
<ellipse cx="1023.8" cy="482.6" rx="3.6" ry="1.35" fill="#7b6cab" transform="rotate(6 1023.8 482.6)"/>
<ellipse cx="1072.0" cy="482.6" rx="3.6" ry="1.35" fill="#7b6cab" transform="rotate(6 1072.0 482.6)"/>
<ellipse cx="758.4" cy="486.1" rx="3.6" ry="1.35" fill="#7b6cab" transform="rotate(6 758.4 486.1)"/>
<ellipse cx="807.6" cy="486.1" rx="3.6" ry="1.35" fill="#7b6cab" transform="rotate(6 807.6 486.1)"/>
<ellipse cx="855.8" cy="486.1" rx="3.6" ry="1.35" fill="#7b6cab" transform="rotate(6 855.8 486.1)"/>
<ellipse cx="907.0" cy="486.1" rx="3.6" ry="1.35" fill="#7b6cab" transform="rotate(6 907.0 486.1)"/>
<ellipse cx="955.2" cy="486.1" rx="3.6" ry="1.35" fill="#7b6cab" transform="rotate(6 955.2 486.1)"/>
<ellipse cx="1005.4" cy="486.1" rx="3.6" ry="1.35" fill="#7b6cab" transform="rotate(6 1005.4 486.1)"/>
<ellipse cx="1053.6" cy="486.1" rx="3.6" ry="1.35" fill="#7b6cab" transform="rotate(6 1053.6 486.1)"/>
<ellipse cx="741.0" cy="489.2" rx="3.6" ry="1.35" fill="#7b6cab" transform="rotate(6 741.0 489.2)"/>
<ellipse cx="790.2" cy="489.2" rx="3.6" ry="1.35" fill="#7b6cab" transform="rotate(6 790.2 489.2)"/>
<ellipse cx="839.4" cy="489.2" rx="3.6" ry="1.35" fill="#7b6cab" transform="rotate(6 839.4 489.2)"/>
<ellipse cx="887.5" cy="489.2" rx="3.6" ry="1.35" fill="#7b6cab" transform="rotate(6 887.5 489.2)"/>
<ellipse cx="937.8" cy="489.2" rx="3.6" ry="1.35" fill="#7b6cab" transform="rotate(6 937.8 489.2)"/>
<ellipse cx="986.9" cy="489.2" rx="3.6" ry="1.35" fill="#7b6cab" transform="rotate(6 986.9 489.2)"/>
<ellipse cx="1036.1" cy="489.2" rx="3.6" ry="1.35" fill="#7b6cab" transform="rotate(6 1036.1 489.2)"/>
<ellipse cx="722.5" cy="492.7" rx="3.6" ry="1.35" fill="#7b6cab" transform="rotate(6 722.5 492.7)"/>
<ellipse cx="770.7" cy="492.7" rx="3.6" ry="1.35" fill="#7b6cab" transform="rotate(6 770.7 492.7)"/>
<ellipse cx="820.9" cy="492.7" rx="3.6" ry="1.35" fill="#7b6cab" transform="rotate(6 820.9 492.7)"/>
<ellipse cx="869.1" cy="492.7" rx="3.6" ry="1.35" fill="#7b6cab" transform="rotate(6 869.1 492.7)"/>
<ellipse cx="919.3" cy="492.7" rx="3.6" ry="1.35" fill="#7b6cab" transform="rotate(6 919.3 492.7)"/>
<ellipse cx="968.5" cy="492.7" rx="3.6" ry="1.35" fill="#7b6cab" transform="rotate(6 968.5 492.7)"/>
<ellipse cx="1017.7" cy="492.7" rx="3.6" ry="1.35" fill="#7b6cab" transform="rotate(6 1017.7 492.7)"/>
<ellipse cx="1066.9" cy="492.7" rx="3.6" ry="1.35" fill="#7b6cab" transform="rotate(6 1066.9 492.7)"/>
<ellipse cx="751.2" cy="495.7" rx="3.6" ry="1.35" fill="#7b6cab" transform="rotate(6 751.2 495.7)"/>
<ellipse cx="801.5" cy="495.7" rx="3.6" ry="1.35" fill="#7b6cab" transform="rotate(6 801.5 495.7)"/>
<ellipse cx="850.6" cy="495.7" rx="3.6" ry="1.35" fill="#7b6cab" transform="rotate(6 850.6 495.7)"/>
<ellipse cx="900.9" cy="495.7" rx="3.6" ry="1.35" fill="#7b6cab" transform="rotate(6 900.9 495.7)"/>
<ellipse cx="949.0" cy="495.7" rx="3.6" ry="1.35" fill="#7b6cab" transform="rotate(6 949.0 495.7)"/>
<ellipse cx="999.2" cy="495.7" rx="3.6" ry="1.35" fill="#7b6cab" transform="rotate(6 999.2 495.7)"/>
<ellipse cx="1047.4" cy="495.7" rx="3.6" ry="1.35" fill="#7b6cab" transform="rotate(6 1047.4 495.7)"/>
<ellipse cx="734.8" cy="499.0" rx="3.6" ry="1.35" fill="#7b6cab" transform="rotate(6 734.8 499.0)"/>
<ellipse cx="784.0" cy="499.0" rx="3.6" ry="1.35" fill="#7b6cab" transform="rotate(6 784.0 499.0)"/>
<ellipse cx="833.2" cy="499.0" rx="3.6" ry="1.35" fill="#7b6cab" transform="rotate(6 833.2 499.0)"/>
<ellipse cx="882.4" cy="499.0" rx="3.6" ry="1.35" fill="#7b6cab" transform="rotate(6 882.4 499.0)"/>
<ellipse cx="931.6" cy="499.0" rx="3.6" ry="1.35" fill="#7b6cab" transform="rotate(6 931.6 499.0)"/>
<ellipse cx="980.8" cy="499.0" rx="3.6" ry="1.35" fill="#7b6cab" transform="rotate(6 980.8 499.0)"/>
<ellipse cx="1031.0" cy="499.0" rx="3.6" ry="1.35" fill="#7b6cab" transform="rotate(6 1031.0 499.0)"/>
<ellipse cx="1077.1" cy="499.0" rx="3.6" ry="1.35" fill="#7b6cab" transform="rotate(6 1077.1 499.0)"/>
</g>
<rect x="804.8" y="157.7" width="20.5" height="6.6" rx="3.3" fill="#8e1f2d" transform="rotate(24 815.0 161.0)"/>
<rect x="860.0" y="158.7" width="20" height="6.6" rx="3.3" fill="#a8424f" transform="rotate(-22 870.0 162.0)"/>
<rect x="915.4" y="160.6" width="20.5" height="6.6" rx="3.3" fill="#8e1f2d" transform="rotate(0 925.6 163.9)"/>
<rect x="1001.6" y="159.7" width="20" height="6.6" rx="3.3" fill="#9a2f3c" transform="rotate(12 1011.6 163.0)"/>
<circle cx="789.0" cy="137.7" r="3.4" fill="#a8505a" stroke="none" stroke-width="1.5" />
<circle cx="884.6" cy="164.8" r="3.1" fill="#8e1f2d" stroke="none" stroke-width="1.5" />
<circle cx="972.0" cy="166.5" r="3.3" fill="#8e1f2d" stroke="none" stroke-width="1.5" />
<circle cx="1055.6" cy="158.4" r="3.3" fill="#a8505a" stroke="none" stroke-width="1.5" />
<circle cx="1103.4" cy="176.6" r="2.6" fill="#9a3541" stroke="none" stroke-width="1.5" />
<path d="M1240.2 27.6 L1251.6 27.6 L1251.6 95 C1251.6 103 1256 110 1265.3 112.5 C1272 110.5 1280 110.5 1287.4 112.4 C1301 117 1308.5 130 1307.6 146 C1307 160 1303 170 1299 176 C1293 185 1285 190 1276 192 C1266 194.5 1258 193.5 1250.5 194.2 C1236 196 1222 199 1213.7 203.4 C1207 207 1204.5 212 1204.5 219 L1191.6 219 C1190.5 208 1192 203 1196 197 C1201 190 1207 186 1213.7 182.4 C1224 177 1236 172 1243.2 165.8 C1250 159 1253 153 1252.4 147.4 C1251 137 1248 128 1246.9 121.6 C1243 108 1241.5 100 1241.3 92.1 Z" fill="#e0a4a9" stroke="#d8848c" stroke-width="1.6" />
<path d="M1198.2 216 C1200 229 1225 231 1260 232 C1300 233 1328 238 1328 258 C1328 279 1300 283 1262 284 C1230 285 1205 290 1205 303 C1205 317 1230 320 1262 320.5 C1300 321 1328 324 1328 344 C1328 365 1300 368.5 1262 368.5 L1196 368.5" fill="none" stroke="#d8848c" stroke-width="14.6" stroke-linecap="butt" stroke-linejoin="round"/>
<path d="M1198.2 216 C1200 229 1225 231 1260 232 C1300 233 1328 238 1328 258 C1328 279 1300 283 1262 284 C1230 285 1205 290 1205 303 C1205 317 1230 320 1262 320.5 C1300 321 1328 324 1328 344 C1328 365 1300 368.5 1262 368.5 L1196 368.5" fill="none" stroke="#e0a4a9" stroke-width="11.6" stroke-linecap="butt" stroke-linejoin="round"/>
<path d="M1200 409 C1230 412 1270 410 1300 411 C1330 412 1334 425 1333 438 C1332 458 1310 462 1275 463 C1240 464 1200 466 1199 490 C1198 512 1235 512 1265 512.5 C1295 513 1318 516 1318 538 C1318 556 1290 556 1278 566 C1264 578 1261 596 1262 612 L1262 628" fill="none" stroke="#d8848c" stroke-width="16.2" stroke-linejoin="round"/>
<path d="M1200 409 C1230 412 1270 410 1300 411 C1330 412 1334 425 1333 438 C1332 458 1310 462 1275 463 C1240 464 1200 466 1199 490 C1198 512 1235 512 1265 512.5 C1295 513 1318 516 1318 538 C1318 556 1290 556 1278 566 C1264 578 1261 596 1262 612 L1262 628" fill="none" stroke="#d8848c" stroke-width="18.6" stroke-linecap="round" stroke-linejoin="round" stroke-dasharray="0 11.5"/>
<path d="M1200 409 C1230 412 1270 410 1300 411 C1330 412 1334 425 1333 438 C1332 458 1310 462 1275 463 C1240 464 1200 466 1199 490 C1198 512 1235 512 1265 512.5 C1295 513 1318 516 1318 538 C1318 556 1290 556 1278 566 C1264 578 1261 596 1262 612 L1262 628" fill="none" stroke="#e0a4a9" stroke-width="13.4" stroke-linejoin="round"/>
<path d="M1200 409 C1230 412 1270 410 1300 411 C1330 412 1334 425 1333 438 C1332 458 1310 462 1275 463 C1240 464 1200 466 1199 490 C1198 512 1235 512 1265 512.5 C1295 513 1318 516 1318 538 C1318 556 1290 556 1278 566 C1264 578 1261 596 1262 612 L1262 628" fill="none" stroke="#e0a4a9" stroke-width="15.8" stroke-linecap="round" stroke-linejoin="round" stroke-dasharray="0 11.5"/>
<path d="M1254 626 C1255.5 632 1257.5 635 1258 638.5 L1266 638.5 C1266 634 1268.5 631 1270 626 Z" fill="#e0a4a9" stroke="#d8848c" stroke-width="1.4" />
<rect x="1255.2" y="622.0" width="13.6" height="6.0" fill="#e0a4a9" stroke="none" stroke-width="1.5" />
<path d="M1196 361 C1197 344 1192 333 1182 334 C1168 336 1161 352 1161 378 C1161 408 1168 430 1184 429.5 C1195 429 1197 420 1200.5 417.5 L1204 400.5 C1200 398 1200 392 1200.5 376 Z" fill="#e0a4a9" stroke="#d8848c" stroke-width="1.6" />
<rect x="1194.0" y="363.2" width="12.0" height="10.6" fill="#e0a4a9" stroke="none" stroke-width="1.5" />
<rect x="1196.0" y="402.0" width="10.0" height="14.0" fill="#e0a4a9" stroke="none" stroke-width="1.5" />
<line x1="1204.5" y1="214.4" x2="1497.2" y2="214.4" stroke="#231f20" stroke-width="2.5" stroke-dasharray="5.1 5.4" stroke-dashoffset="2"/>
<line x1="1204.5" y1="375.8" x2="1497.2" y2="375.8" stroke="#231f20" stroke-width="2.5" stroke-dasharray="5.1 5.4" stroke-dashoffset="2"/>
<line x1="1204.5" y1="399.8" x2="1497.2" y2="399.8" stroke="#231f20" stroke-width="2.5" stroke-dasharray="5.1 5.4" stroke-dashoffset="2"/>
<line x1="1204.5" y1="592.1" x2="1497.2" y2="592.1" stroke="#231f20" stroke-width="2.5" stroke-dasharray="5.1 5.4" stroke-dashoffset="2"/>
<line x1="1364.2" y1="225.4" x2="1364.2" y2="365.0" stroke="#231f20" stroke-width="2.2" />
<path d="M1364.2 216.9 L1359.0 230.0 L1364.2 226.8 L1369.4 230.0 Z" fill="#231f20" stroke="none" stroke-width="1.5" />
<path d="M1364.2 373.5 L1359.0 360.4 L1364.2 363.6 L1369.4 360.4 Z" fill="#231f20" stroke="none" stroke-width="1.5" />
<line x1="1364.2" y1="411.5" x2="1364.2" y2="581.5" stroke="#231f20" stroke-width="2.2" />
<path d="M1364.2 403.0 L1359.0 416.1 L1364.2 412.9 L1369.4 416.1 Z" fill="#231f20" stroke="none" stroke-width="1.5" />
<path d="M1364.2 590.0 L1359.0 576.9 L1364.2 580.1 L1369.4 576.9 Z" fill="#231f20" stroke="none" stroke-width="1.5" />
<text x="1387.6" y="286.7" font-size="26.8" textLength="70.0" lengthAdjust="spacingAndGlyphs">Small</text>
<text x="1369.2" y="318.7" font-size="26.8" textLength="107.0" lengthAdjust="spacingAndGlyphs">intestine</text>
<text x="1370.3" y="504.8" font-size="26.8" textLength="75.0" lengthAdjust="spacingAndGlyphs">Colon</text>
<circle cx="1531.4" cy="109.3" r="60.2" fill="#f4ddd9" stroke="#231f20" stroke-width="1.9" />
<circle cx="1512.7" cy="82.2" r="16.2" fill="#ecb98c" stroke="#dca878" stroke-width="0.9" />
<circle cx="1511.0" cy="85.1" r="8.8" fill="#e68f6d" stroke="none" stroke-width="1.5" opacity="0.35"/>
<circle cx="1511.0" cy="85.1" r="6.6" fill="#e68f6d" stroke="none" stroke-width="1.5" />
<circle cx="1500.4" cy="114.4" r="16.2" fill="#ecb98c" stroke="#dca878" stroke-width="0.9" />
<circle cx="1500.6" cy="117.3" r="8.5" fill="#e8957a" stroke="none" stroke-width="1.5" opacity="0.35"/>
<circle cx="1500.6" cy="117.3" r="6.3" fill="#e8957a" stroke="none" stroke-width="1.5" />
<circle cx="1565.4" cy="105.0" r="15.8" fill="#53aacd" stroke="#409cc2" stroke-width="0.9" />
<circle cx="1567.2" cy="103.8" r="8.5" fill="#3492be" stroke="none" stroke-width="1.5" opacity="0.35"/>
<circle cx="1567.2" cy="103.8" r="6.3" fill="#3492be" stroke="none" stroke-width="1.5" />
<circle cx="1541.4" cy="90.4" r="17.0" fill="#60b47b" stroke="#4fa56b" stroke-width="0.9" />
<circle cx="1542.0" cy="86.9" r="9.2" fill="#3ba961" stroke="none" stroke-width="1.5" opacity="0.35"/>
<circle cx="1542.0" cy="86.9" r="7.0" fill="#3ba961" stroke="none" stroke-width="1.5" />
<circle cx="1550.8" cy="136.0" r="16.2" fill="#8c7abc" stroke="#7a67ad" stroke-width="0.9" />
<circle cx="1553.7" cy="136.6" r="8.0" fill="#8467b8" stroke="none" stroke-width="1.5" opacity="0.35"/>
<circle cx="1553.7" cy="136.6" r="5.8" fill="#8467b8" stroke="none" stroke-width="1.5" />
<circle cx="1516.2" cy="136.0" r="16.3" fill="#60b47b" stroke="#4fa56b" stroke-width="0.9" />
<circle cx="1519.1" cy="134.3" r="9.0" fill="#3ba961" stroke="none" stroke-width="1.5" opacity="0.35"/>
<circle cx="1519.1" cy="134.3" r="6.8" fill="#3ba961" stroke="none" stroke-width="1.5" />
<circle cx="1540.8" cy="122.0" r="17.3" fill="#8574b6" stroke="#7462a8" stroke-width="0.9" />
<circle cx="1542.0" cy="118.5" r="8.8" fill="#7c5fb4" stroke="none" stroke-width="1.5" opacity="0.35"/>
<circle cx="1542.0" cy="118.5" r="6.6" fill="#7c5fb4" stroke="none" stroke-width="1.5" />
<circle cx="1520.9" cy="106.8" r="17.0" fill="#2499c6" stroke="#1d86b3" stroke-width="0.9" />
<circle cx="1522.1" cy="103.3" r="9.0" fill="#1b7eb0" stroke="none" stroke-width="1.5" opacity="0.35"/>
<circle cx="1522.1" cy="103.3" r="6.8" fill="#1b7eb0" stroke="none" stroke-width="1.5" />
<path d="M1626.3 106.8 C1627.9 104.6 1630.0 101.3 1633.4 99.7 C1636.7 98.2 1641.9 97.4 1646.2 97.6 C1650.5 97.8 1655.8 99.6 1659.1 100.9 C1662.4 102.2 1663.4 104.2 1666.1 105.6 C1668.9 107.0 1673.0 107.2 1675.5 109.1 C1678.1 111.1 1680.2 114.0 1681.4 117.3 C1682.5 120.6 1681.8 125.7 1682.5 129.0 C1683.3 132.3 1685.6 134.1 1686.1 137.2 C1686.5 140.3 1686.5 144.6 1685.5 147.8 C1684.5 150.9 1681.9 152.8 1680.2 156.0 C1678.5 159.1 1677.3 164.2 1675.5 166.5 C1673.8 168.8 1671.8 168.3 1669.7 170.0 C1667.5 171.8 1665.4 175.3 1662.6 177.0 C1659.9 178.8 1656.2 180.4 1653.3 180.6 C1650.3 180.8 1647.2 179.6 1645.1 178.2 C1642.9 176.8 1643.1 173.7 1640.4 172.4 C1637.6 171.0 1632.2 171.4 1628.7 170.0 C1625.2 168.6 1621.6 166.7 1619.3 164.2 C1617.0 161.6 1616.0 157.3 1614.6 154.8 C1613.2 152.2 1612.5 150.5 1611.1 148.9 C1609.7 147.4 1607.4 147.4 1606.4 145.4 C1605.4 143.5 1604.9 139.6 1605.2 137.2 C1605.6 134.9 1606.8 132.9 1608.8 131.4 C1610.7 129.8 1614.6 129.4 1617.0 127.8 C1619.3 126.3 1621.6 124.5 1622.8 122.0 C1624.0 119.5 1623.4 115.2 1624.0 112.6 C1624.6 110.1 1624.8 108.9 1626.3 106.8 Z" fill="#b45a67" stroke="none" stroke-width="1.5" />
<path d="M1635.7 105.6 C1638.2 103.8 1643.1 102.1 1647.4 102.1 C1651.7 102.1 1657.0 103.4 1661.5 105.6 C1666.0 107.7 1671.4 111.1 1674.3 115.0 C1677.3 118.9 1678.1 123.9 1679.0 129.0 C1680.0 134.1 1681.2 140.3 1680.2 145.4 C1679.2 150.5 1676.3 155.6 1673.2 159.5 C1670.1 163.4 1665.4 166.7 1661.5 168.8 C1657.6 171.0 1653.7 172.7 1649.8 172.4 C1645.8 172.0 1641.2 169.4 1638.0 166.5 C1634.9 163.6 1631.4 158.7 1631.0 154.8 C1630.6 150.9 1633.7 146.6 1635.7 143.1 C1637.6 139.6 1642.7 137.2 1642.7 133.7 C1642.7 130.2 1637.5 125.5 1635.7 122.0 C1633.9 118.5 1632.2 115.4 1632.2 112.6 C1632.2 109.9 1633.2 107.3 1635.7 105.6 Z" fill="#c06875" stroke="none" stroke-width="1.5" opacity="0.7"/>
<path d="M1627 112 C1634 106 1646 104 1652 108 C1645 109 1636 113 1631 120 Z" fill="#c97c86" stroke="none" stroke-width="1.5" opacity="0.8"/>
<path d="M1636 122 C1644 116 1656 116 1664 121" fill="none" stroke="#a94f5c" stroke-width="1.6" opacity="0.55" stroke-linecap="round"/>
<path d="M1652 150 C1658 146 1664 146 1668 149 C1664 152 1660 156 1658 160 Z" fill="#a54c59" stroke="none" stroke-width="1.5" opacity="0.6"/>
<path d="M1610 134 C1616 130 1622 131 1626 136" fill="none" stroke="#c97c86" stroke-width="2" opacity="0.7" stroke-linecap="round"/>
<line x1="1587.7" y1="85.7" x2="1627.5" y2="139.6" stroke="#333" stroke-width="1.6" stroke-dasharray="5.3 4"/>
<line x1="1557.2" y1="163.0" x2="1627.5" y2="143.1" stroke="#333" stroke-width="1.6" stroke-dasharray="5.3 4"/>
<path d="M1618.1 127.3 L1628.1 139.6 L1626.3 143.7 L1611.1 147.2" fill="none" stroke="#333" stroke-width="1.5" stroke-dasharray="5 3"/>
<rect x="1717.7" y="93.2" width="190.3" height="86.0" fill="#e6eef7" stroke="#8fabd9" stroke-width="2.3" />
<text x="1812.9" y="129.3" font-size="27.5" text-anchor="middle" textLength="112.5" lengthAdjust="spacingAndGlyphs">SCENITH</text>
<text x="1812.9" y="160.2" font-size="27.5" text-anchor="middle" textLength="143.0" lengthAdjust="spacingAndGlyphs">technology</text>
<rect x="1593.8" y="312.8" width="178.2" height="77.6" fill="#e6eef7" stroke="#8fabd9" stroke-width="2.3" />
<text x="1682.9" y="343.8" font-size="27.5" text-anchor="middle" textLength="168.5" lengthAdjust="spacingAndGlyphs">Mitochondria</text>
<text x="1682.9" y="375.7" font-size="27.5" text-anchor="middle" textLength="160.5" lengthAdjust="spacingAndGlyphs">dependence</text>
<rect x="1807.7" y="312.8" width="178.5" height="77.6" fill="#e6eef7" stroke="#8fabd9" stroke-width="2.3" />
<text x="1897.0" y="343.8" font-size="27.5" text-anchor="middle" textLength="128.0" lengthAdjust="spacingAndGlyphs">Glycolytic</text>
<text x="1897.0" y="375.7" font-size="27.5" text-anchor="middle" textLength="107.5" lengthAdjust="spacingAndGlyphs">capacity</text>
<rect x="1593.8" y="413.8" width="178.2" height="77.6" fill="#eeecd0" stroke="#9c843f" stroke-width="2.3" />
<text x="1682.9" y="444.3" font-size="27.5" text-anchor="middle" textLength="105.0" lengthAdjust="spacingAndGlyphs">Glucose</text>
<text x="1682.9" y="476.8" font-size="27.5" text-anchor="middle" textLength="160.5" lengthAdjust="spacingAndGlyphs">dependence</text>
<rect x="1807.7" y="413.8" width="178.5" height="77.6" fill="#eeecd0" stroke="#9c843f" stroke-width="2.3" />
<text x="1897.0" y="444.3" font-size="27.5" text-anchor="middle" textLength="147.5" lengthAdjust="spacingAndGlyphs">FAO &amp; AAO</text>
<text x="1897.0" y="476.8" font-size="27.5" text-anchor="middle" textLength="107.0" lengthAdjust="spacingAndGlyphs">capacity</text>
<path d="M1511 311.6 C1511 262 1548 223.5 1596.5 223.5 C1642 223.5 1678 258 1682 303" fill="none" stroke="#231f20" stroke-width="2.2" />
<path d="M1682.6 310.5 L1677 296.5 L1682 299.5 L1687.5 296 Z" fill="#231f20" stroke="none" stroke-width="1.5" />
<path d="M1513.8 493.5 C1514 542 1552 580 1599.5 580 C1644 580 1680 546 1685 501" fill="none" stroke="#231f20" stroke-width="2.2" />
<path d="M1685.6 493.5 L1680 507.5 L1685 504.5 L1690.5 508 Z" fill="#231f20" stroke="none" stroke-width="1.5" />
<text x="0.0" y="733.5" font-size="39" textLength="24.7" lengthAdjust="spacingAndGlyphs" font-weight="bold" fill="#111" stroke="#111" stroke-width="0.9">b</text>
<text x="125.2" y="744.4" font-size="27.5" textLength="172.3" lengthAdjust="spacingAndGlyphs">Total bacteria</text>
<line x1="101.1" y1="863.0" x2="101.1" y2="1017.5" stroke="#4b4947" stroke-width="1.6" />
<line x1="101.1" y1="1040.5" x2="101.1" y2="1193.6" stroke="#4b4947" stroke-width="1.6" />
<line x1="92.4" y1="1193.6" x2="321.8" y2="1193.6" stroke="#4b4947" stroke-width="1.6" />
<line x1="92.4" y1="863.6" x2="101.1" y2="863.6" stroke="#4b4947" stroke-width="1.6" />
<text x="80.4" y="871.1" font-size="24" text-anchor="end" textLength="41.1" lengthAdjust="spacingAndGlyphs">140</text>
<line x1="92.4" y1="910.6" x2="101.1" y2="910.6" stroke="#4b4947" stroke-width="1.6" />
<text x="80.4" y="918.1" font-size="24" text-anchor="end" textLength="41.1" lengthAdjust="spacingAndGlyphs">120</text>
<line x1="92.4" y1="957.9" x2="101.1" y2="957.9" stroke="#4b4947" stroke-width="1.6" />
<text x="80.4" y="965.4" font-size="24" text-anchor="end" textLength="41.1" lengthAdjust="spacingAndGlyphs">100</text>
<line x1="92.4" y1="1004.9" x2="101.1" y2="1004.9" stroke="#4b4947" stroke-width="1.6" />
<text x="80.4" y="1012.4" font-size="24" text-anchor="end" textLength="28.4" lengthAdjust="spacingAndGlyphs">80</text>
<text x="80.4" y="1050.0" font-size="24" text-anchor="end" textLength="14.1" lengthAdjust="spacingAndGlyphs">8</text>
<line x1="92.4" y1="1079.4" x2="101.1" y2="1079.4" stroke="#4b4947" stroke-width="1.6" />
<text x="80.4" y="1086.9" font-size="24" text-anchor="end" textLength="14.1" lengthAdjust="spacingAndGlyphs">6</text>
<line x1="92.4" y1="1117.6" x2="101.1" y2="1117.6" stroke="#4b4947" stroke-width="1.6" />
<text x="80.4" y="1125.1" font-size="24" text-anchor="end" textLength="14.1" lengthAdjust="spacingAndGlyphs">4</text>
<line x1="92.4" y1="1155.6" x2="101.1" y2="1155.6" stroke="#4b4947" stroke-width="1.6" />
<text x="80.4" y="1163.1" font-size="24" text-anchor="end" textLength="14.1" lengthAdjust="spacingAndGlyphs">2</text>
<line x1="92.4" y1="1193.6" x2="101.1" y2="1193.6" stroke="#4b4947" stroke-width="1.6" />
<text x="80.4" y="1201.1" font-size="24" text-anchor="end" textLength="14.1" lengthAdjust="spacingAndGlyphs">0</text>
<line x1="93.5" y1="1009.3" x2="109.6" y2="1025.0" stroke="#231f20" stroke-width="1.8" />
<line x1="93.5" y1="1032.5" x2="109.6" y2="1048.2" stroke="#231f20" stroke-width="1.8" />
<line x1="145.1" y1="1193.6" x2="145.1" y2="1203.1" stroke="#4b4947" stroke-width="1.6" />
<line x1="211.4" y1="1193.6" x2="211.4" y2="1203.1" stroke="#4b4947" stroke-width="1.6" />
<line x1="277.5" y1="1193.6" x2="277.5" y2="1203.1" stroke="#4b4947" stroke-width="1.6" />
<rect x="123.6" y="958.0" width="44.2" height="235.6" fill="#b9d2a6" stroke="#2e2a2b" stroke-width="1.5" />
<rect x="115.0" y="1016.0" width="60.0" height="25.2" fill="#fff" stroke="none" stroke-width="1.5" />
<rect x="189.0" y="1166.7" width="44.7" height="26.9" fill="#9dc7ea" stroke="#2e2a2b" stroke-width="1.5" />
<rect x="255.4" y="1155.3" width="44.2" height="38.3" fill="#f89e82" stroke="#2e2a2b" stroke-width="1.5" />
<line x1="211.4" y1="1152.7" x2="211.4" y2="1181.2" stroke="#231f20" stroke-width="1.5" />
<line x1="200.2" y1="1152.7" x2="222.6" y2="1152.7" stroke="#231f20" stroke-width="1.5" />
<line x1="200.2" y1="1181.2" x2="222.6" y2="1181.2" stroke="#231f20" stroke-width="1.5" />
<line x1="277.5" y1="1134.4" x2="277.5" y2="1176.6" stroke="#231f20" stroke-width="1.5" />
<line x1="266.3" y1="1134.4" x2="288.7" y2="1134.4" stroke="#231f20" stroke-width="1.5" />
<line x1="266.3" y1="1176.6" x2="288.7" y2="1176.6" stroke="#231f20" stroke-width="1.5" />
<circle cx="130.3" cy="958.0" r="6.0" fill="#70ad58" stroke="#1a1a1a" stroke-width="1.7" />
<circle cx="138.0" cy="958.0" r="6.0" fill="#70ad58" stroke="#1a1a1a" stroke-width="1.7" />
<circle cx="145.4" cy="958.0" r="6.0" fill="#70ad58" stroke="#1a1a1a" stroke-width="1.7" />
<circle cx="153.2" cy="958.0" r="6.0" fill="#70ad58" stroke="#1a1a1a" stroke-width="1.7" />
<circle cx="161.0" cy="958.0" r="6.0" fill="#70ad58" stroke="#1a1a1a" stroke-width="1.7" />
<circle cx="211.4" cy="1122.7" r="6.1" fill="#29a0dc" stroke="#1a1a1a" stroke-width="1.7" />
<circle cx="211.4" cy="1141.9" r="6.1" fill="#29a0dc" stroke="#1a1a1a" stroke-width="1.7" />
<circle cx="195.7" cy="1193.3" r="6.1" fill="#29a0dc" stroke="#1a1a1a" stroke-width="1.7" />
<circle cx="211.4" cy="1186.6" r="6.1" fill="#29a0dc" stroke="#1a1a1a" stroke-width="1.7" />
<circle cx="226.8" cy="1189.0" r="6.1" fill="#29a0dc" stroke="#1a1a1a" stroke-width="1.7" />
<path d="M262.0 1092.6 L268.6 1105.4 L255.4 1105.4 Z" fill="#ee2a25" stroke="#1a1a1a" stroke-width="1.5" stroke-linejoin="miter"/>
<path d="M277.5 1103.8 L284.1 1116.6 L270.9 1116.6 Z" fill="#ee2a25" stroke="#1a1a1a" stroke-width="1.5" stroke-linejoin="miter"/>
<path d="M277.5 1174.1 L284.1 1186.9 L270.9 1186.9 Z" fill="#ee2a25" stroke="#1a1a1a" stroke-width="1.5" stroke-linejoin="miter"/>
<path d="M262.0 1187.0 L268.6 1199.8 L255.4 1199.8 Z" fill="#ee2a25" stroke="#1a1a1a" stroke-width="1.5" stroke-linejoin="miter"/>
<path d="M292.9 1181.9 L299.5 1194.7 L286.3 1194.7 Z" fill="#ee2a25" stroke="#1a1a1a" stroke-width="1.5" stroke-linejoin="miter"/>
<path d="M145.1 874.3 L145.1 854.2 L277.5 854.2 L277.5 1079.4" fill="none" stroke="#4b4947" stroke-width="1.5" />
<path d="M145.1 938.3 L145.1 918.5 L211.4 918.5 L211.4 1103.1" fill="none" stroke="#4b4947" stroke-width="1.5" />
<text x="176.1" y="847.9" font-size="18" textLength="70.3" lengthAdjust="spacingAndGlyphs"><tspan font-size="14.4" dy="-1">&lt;</tspan><tspan dy="1">0.0001</tspan></text>
<text x="143.0" y="911.0" font-size="18" textLength="71.0" lengthAdjust="spacingAndGlyphs"><tspan font-size="14.4" dy="-1">&lt;</tspan><tspan dy="1">0.0001</tspan></text>
<text x="153.1" y="1226.6" font-size="26" text-anchor="end" textLength="42.0" lengthAdjust="spacingAndGlyphs" transform="rotate(-45 153.1 1226.6)">WT</text>
<text x="221.4" y="1226.1" font-size="26" text-anchor="end" textLength="54.0" lengthAdjust="spacingAndGlyphs" transform="rotate(-45 221.4 1226.1)">ABX</text>
<text x="290.5" y="1225.6" font-size="26" text-anchor="end" textLength="121.5" lengthAdjust="spacingAndGlyphs" transform="rotate(-45 290.5 1225.6)">ABX + IPA</text>
<text x="22.8" y="1029.4" font-size="27" text-anchor="middle" textLength="64.0" lengthAdjust="spacingAndGlyphs" transform="rotate(-90 22.8 1029.4)">Ratio</text>
<text x="352.7" y="733.5" font-size="39" textLength="21.8" lengthAdjust="spacingAndGlyphs" font-weight="bold" fill="#111" stroke="#111" stroke-width="0.9">c</text>
<text x="477.2" y="713.6" font-size="27.5" textLength="178.5" lengthAdjust="spacingAndGlyphs">Colon-TCRαβ<tspan font-size="17.1" dy="-11.5">+</tspan></text>
<text x="528.7" y="745.2" font-size="27.5" textLength="78.7" lengthAdjust="spacingAndGlyphs">T cells</text>
<rect x="377.4" y="778.0" width="22.8" height="22.2" fill="#8b98cf" stroke="#3a3a3a" stroke-width="1.5" />
<text x="411.3" y="794.1" font-size="19" textLength="88.5" lengthAdjust="spacingAndGlyphs">CD4<tspan font-size="12.5" dy="-11.5">−</tspan><tspan dy="11.5">CD8</tspan><tspan font-size="12.5" dy="-11.5">+</tspan></text>
<rect x="377.4" y="813.9" width="22.8" height="22.2" fill="#f89e82" stroke="#3a3a3a" stroke-width="1.5" />
<text x="411.3" y="830.0" font-size="19" textLength="88.5" lengthAdjust="spacingAndGlyphs">CD4<tspan font-size="12.5" dy="-11.5">+</tspan><tspan dy="11.5">CD8</tspan><tspan font-size="12.5" dy="-11.5">+</tspan></text>
<rect x="541.4" y="778.0" width="22.8" height="22.2" fill="#a8d79f" stroke="#3a3a3a" stroke-width="1.5" />
<text x="575.3" y="794.1" font-size="19" textLength="88.5" lengthAdjust="spacingAndGlyphs">CD4<tspan font-size="12.5" dy="-11.5">+</tspan><tspan dy="11.5">CD8</tspan><tspan font-size="12.5" dy="-11.5">−</tspan></text>
<rect x="541.4" y="813.9" width="22.8" height="22.2" fill="#b297cb" stroke="#3a3a3a" stroke-width="1.5" />
<text x="575.3" y="830.0" font-size="19" textLength="88.5" lengthAdjust="spacingAndGlyphs">CD4<tspan font-size="12.5" dy="-11.5">−</tspan><tspan dy="11.5">CD8</tspan><tspan font-size="12.5" dy="-11.5">−</tspan></text>
<line x1="457.0" y1="863.6" x2="457.0" y2="1193.7" stroke="#4b4947" stroke-width="1.6" />
<line x1="447.8" y1="1193.7" x2="677.4" y2="1193.7" stroke="#4b4947" stroke-width="1.6" />
<line x1="447.8" y1="1193.7" x2="457.0" y2="1193.7" stroke="#4b4947" stroke-width="1.6" />
<text x="436.3" y="1201.2" font-size="24" text-anchor="end" textLength="14.1" lengthAdjust="spacingAndGlyphs">0</text>
<line x1="447.8" y1="1138.8" x2="457.0" y2="1138.8" stroke="#4b4947" stroke-width="1.6" />
<text x="436.3" y="1146.3" font-size="24" text-anchor="end" textLength="28.4" lengthAdjust="spacingAndGlyphs">20</text>
<line x1="447.8" y1="1083.9" x2="457.0" y2="1083.9" stroke="#4b4947" stroke-width="1.6" />
<text x="436.3" y="1091.4" font-size="24" text-anchor="end" textLength="28.4" lengthAdjust="spacingAndGlyphs">40</text>
<line x1="447.8" y1="1029.0" x2="457.0" y2="1029.0" stroke="#4b4947" stroke-width="1.6" />
<text x="436.3" y="1036.5" font-size="24" text-anchor="end" textLength="28.4" lengthAdjust="spacingAndGlyphs">60</text>
<line x1="447.8" y1="974.2" x2="457.0" y2="974.2" stroke="#4b4947" stroke-width="1.6" />
<text x="436.3" y="981.7" font-size="24" text-anchor="end" textLength="28.4" lengthAdjust="spacingAndGlyphs">80</text>
<line x1="447.8" y1="919.3" x2="457.0" y2="919.3" stroke="#4b4947" stroke-width="1.6" />
<text x="436.3" y="926.8" font-size="24" text-anchor="end" textLength="41.1" lengthAdjust="spacingAndGlyphs">100</text>
<line x1="447.8" y1="864.4" x2="457.0" y2="864.4" stroke="#4b4947" stroke-width="1.6" />
<text x="436.3" y="871.9" font-size="24" text-anchor="end" textLength="41.1" lengthAdjust="spacingAndGlyphs">120</text>
<line x1="452.0" y1="1166.3" x2="457.0" y2="1166.3" stroke="#4b4947" stroke-width="1.6" />
<line x1="452.0" y1="1111.4" x2="457.0" y2="1111.4" stroke="#4b4947" stroke-width="1.6" />
<line x1="452.0" y1="1056.5" x2="457.0" y2="1056.5" stroke="#4b4947" stroke-width="1.6" />
<line x1="452.0" y1="1001.6" x2="457.0" y2="1001.6" stroke="#4b4947" stroke-width="1.6" />
<line x1="452.0" y1="946.7" x2="457.0" y2="946.7" stroke="#4b4947" stroke-width="1.6" />
<line x1="452.0" y1="891.8" x2="457.0" y2="891.8" stroke="#4b4947" stroke-width="1.6" />
<line x1="500.4" y1="1193.7" x2="500.4" y2="1203.2" stroke="#4b4947" stroke-width="1.6" />
<line x1="566.6" y1="1193.7" x2="566.6" y2="1203.2" stroke="#4b4947" stroke-width="1.6" />
<line x1="632.5" y1="1193.7" x2="632.5" y2="1203.2" stroke="#4b4947" stroke-width="1.6" />
<rect x="479.6" y="1077.4" width="42.6" height="116.3" fill="#8b98cf" stroke="#2e2a2b" stroke-width="1.5" />
<rect x="479.6" y="1068.4" width="42.6" height="9.0" fill="#f89e82" stroke="#2e2a2b" stroke-width="1.5" />
<rect x="479.6" y="969.6" width="42.6" height="98.8" fill="#a8d79f" stroke="#2e2a2b" stroke-width="1.5" />
<rect x="479.6" y="920.1" width="42.6" height="49.5" fill="#b297cb" stroke="#2e2a2b" stroke-width="1.5" />
<rect x="545.3" y="1080.8" width="42.8" height="112.9" fill="#8b98cf" stroke="#2e2a2b" stroke-width="1.5" />
<rect x="545.3" y="1071.8" width="42.8" height="9.0" fill="#f89e82" stroke="#2e2a2b" stroke-width="1.5" />
<rect x="545.3" y="974.3" width="42.8" height="97.5" fill="#a8d79f" stroke="#2e2a2b" stroke-width="1.5" />
<rect x="545.3" y="920.1" width="42.8" height="54.2" fill="#b297cb" stroke="#2e2a2b" stroke-width="1.5" />
<rect x="611.2" y="1106.4" width="42.9" height="87.3" fill="#8b98cf" stroke="#2e2a2b" stroke-width="1.5" />
<rect x="611.2" y="1095.4" width="42.9" height="11.0" fill="#f89e82" stroke="#2e2a2b" stroke-width="1.5" />
<rect x="611.2" y="966.6" width="42.9" height="128.8" fill="#a8d79f" stroke="#2e2a2b" stroke-width="1.5" />
<rect x="611.2" y="920.4" width="42.9" height="46.2" fill="#b297cb" stroke="#2e2a2b" stroke-width="1.5" />
<line x1="500.9" y1="913.5" x2="500.9" y2="925.5" stroke="#231f20" stroke-width="1.5" />
<line x1="490.1" y1="913.5" x2="511.7" y2="913.5" stroke="#231f20" stroke-width="1.5" />
<line x1="490.1" y1="925.5" x2="511.7" y2="925.5" stroke="#231f20" stroke-width="1.5" />
<line x1="500.9" y1="959.1" x2="500.9" y2="977.6" stroke="#231f20" stroke-width="1.5" />
<line x1="490.1" y1="959.1" x2="511.7" y2="959.1" stroke="#231f20" stroke-width="1.5" />
<line x1="490.1" y1="977.6" x2="511.7" y2="977.6" stroke="#231f20" stroke-width="1.5" />
<line x1="500.9" y1="1066.9" x2="500.9" y2="1073.6" stroke="#231f20" stroke-width="1.5" />
<line x1="490.1" y1="1066.9" x2="511.7" y2="1066.9" stroke="#231f20" stroke-width="1.5" />
<line x1="490.1" y1="1073.6" x2="511.7" y2="1073.6" stroke="#231f20" stroke-width="1.5" />
<line x1="500.9" y1="1073.6" x2="500.9" y2="1080.0" stroke="#231f20" stroke-width="1.5" />
<line x1="490.1" y1="1073.6" x2="511.7" y2="1073.6" stroke="#231f20" stroke-width="1.5" />
<line x1="490.1" y1="1080.0" x2="511.7" y2="1080.0" stroke="#231f20" stroke-width="1.5" />
<line x1="566.7" y1="914.2" x2="566.7" y2="924.7" stroke="#231f20" stroke-width="1.5" />
<line x1="555.9" y1="914.2" x2="577.5" y2="914.2" stroke="#231f20" stroke-width="1.5" />
<line x1="555.9" y1="924.7" x2="577.5" y2="924.7" stroke="#231f20" stroke-width="1.5" />
<line x1="566.7" y1="965.5" x2="566.7" y2="980.7" stroke="#231f20" stroke-width="1.5" />
<line x1="555.9" y1="965.5" x2="577.5" y2="965.5" stroke="#231f20" stroke-width="1.5" />
<line x1="555.9" y1="980.7" x2="577.5" y2="980.7" stroke="#231f20" stroke-width="1.5" />
<line x1="566.7" y1="1070.8" x2="566.7" y2="1077.4" stroke="#231f20" stroke-width="1.5" />
<line x1="555.9" y1="1070.8" x2="577.5" y2="1070.8" stroke="#231f20" stroke-width="1.5" />
<line x1="555.9" y1="1077.4" x2="577.5" y2="1077.4" stroke="#231f20" stroke-width="1.5" />
<line x1="566.7" y1="1077.4" x2="566.7" y2="1083.0" stroke="#231f20" stroke-width="1.5" />
<line x1="555.9" y1="1077.4" x2="577.5" y2="1077.4" stroke="#231f20" stroke-width="1.5" />
<line x1="555.9" y1="1083.0" x2="577.5" y2="1083.0" stroke="#231f20" stroke-width="1.5" />
<line x1="632.6" y1="910.4" x2="632.6" y2="929.4" stroke="#231f20" stroke-width="1.5" />
<line x1="621.8" y1="910.4" x2="643.4" y2="910.4" stroke="#231f20" stroke-width="1.5" />
<line x1="621.8" y1="929.4" x2="643.4" y2="929.4" stroke="#231f20" stroke-width="1.5" />
<line x1="632.6" y1="955.8" x2="632.6" y2="974.8" stroke="#231f20" stroke-width="1.5" />
<line x1="621.8" y1="955.8" x2="643.4" y2="955.8" stroke="#231f20" stroke-width="1.5" />
<line x1="621.8" y1="974.8" x2="643.4" y2="974.8" stroke="#231f20" stroke-width="1.5" />
<line x1="632.6" y1="1090.3" x2="632.6" y2="1100.8" stroke="#231f20" stroke-width="1.5" />
<line x1="621.8" y1="1090.3" x2="643.4" y2="1090.3" stroke="#231f20" stroke-width="1.5" />
<line x1="621.8" y1="1100.8" x2="643.4" y2="1100.8" stroke="#231f20" stroke-width="1.5" />
<line x1="632.6" y1="1098.7" x2="632.6" y2="1111.0" stroke="#231f20" stroke-width="1.5" />
<line x1="621.8" y1="1098.7" x2="643.4" y2="1098.7" stroke="#231f20" stroke-width="1.5" />
<line x1="621.8" y1="1111.0" x2="643.4" y2="1111.0" stroke="#231f20" stroke-width="1.5" />
<text x="508.4" y="1226.7" font-size="26" text-anchor="end" textLength="42.0" lengthAdjust="spacingAndGlyphs" transform="rotate(-45 508.4 1226.7)">WT</text>
<text x="576.6" y="1226.2" font-size="26" text-anchor="end" textLength="54.0" lengthAdjust="spacingAndGlyphs" transform="rotate(-45 576.6 1226.2)">ABX</text>
<text x="645.5" y="1225.7" font-size="26" text-anchor="end" textLength="121.5" lengthAdjust="spacingAndGlyphs" transform="rotate(-45 645.5 1225.7)">ABX + IPA</text>
<text x="379.6" y="1029.6" font-size="27" text-anchor="middle" textLength="191.0" lengthAdjust="spacingAndGlyphs" transform="rotate(-90 379.6 1029.6)">Percentage (%)</text>
<text x="718.9" y="733.5" font-size="39" textLength="24.0" lengthAdjust="spacingAndGlyphs" font-weight="bold" fill="#111" stroke="#111" stroke-width="0.9">d</text>
<text x="816.1" y="744.4" font-size="27.5" textLength="203.9" lengthAdjust="spacingAndGlyphs">CD4<tspan font-size="17.1" dy="-11.5">+</tspan><tspan dy="11.5">CD8</tspan><tspan font-size="17.1" dy="-11.5">−</tspan><tspan dy="11.5"> T cell</tspan></text>
<text x="1166.8" y="744.4" font-size="27.5" textLength="204.0" lengthAdjust="spacingAndGlyphs">CD4<tspan font-size="17.1" dy="-11.5">−</tspan><tspan dy="11.5">CD8</tspan><tspan font-size="17.1" dy="-11.5">+</tspan><tspan dy="11.5"> T cell</tspan></text>
<line x1="808.3" y1="863.1" x2="808.3" y2="1193.7" stroke="#4b4947" stroke-width="1.6" />
<line x1="799.5" y1="1193.7" x2="1028.7" y2="1193.7" stroke="#4b4947" stroke-width="1.6" />
<line x1="799.5" y1="863.9" x2="808.3" y2="863.9" stroke="#4b4947" stroke-width="1.6" />
<text x="787.0" y="871.4" font-size="24" text-anchor="end" textLength="28.4" lengthAdjust="spacingAndGlyphs">60</text>
<line x1="799.5" y1="973.5" x2="808.3" y2="973.5" stroke="#4b4947" stroke-width="1.6" />
<text x="787.0" y="981.0" font-size="24" text-anchor="end" textLength="28.4" lengthAdjust="spacingAndGlyphs">40</text>
<line x1="799.5" y1="1083.3" x2="808.3" y2="1083.3" stroke="#4b4947" stroke-width="1.6" />
<text x="787.0" y="1090.8" font-size="24" text-anchor="end" textLength="28.4" lengthAdjust="spacingAndGlyphs">20</text>
<line x1="799.5" y1="1193.7" x2="808.3" y2="1193.7" stroke="#4b4947" stroke-width="1.6" />
<text x="787.0" y="1201.2" font-size="24" text-anchor="end" textLength="14.1" lengthAdjust="spacingAndGlyphs">0</text>
<line x1="851.9" y1="1193.7" x2="851.9" y2="1203.2" stroke="#4b4947" stroke-width="1.6" />
<line x1="918.1" y1="1193.7" x2="918.1" y2="1203.2" stroke="#4b4947" stroke-width="1.6" />
<line x1="983.8" y1="1193.7" x2="983.8" y2="1203.2" stroke="#4b4947" stroke-width="1.6" />
<rect x="829.8" y="991.5" width="44.9" height="202.2" fill="#b9d2a6" stroke="#2e2a2b" stroke-width="1.5" />
<rect x="895.5" y="1006.9" width="44.9" height="186.8" fill="#9dc7ea" stroke="#2e2a2b" stroke-width="1.5" />
<rect x="961.7" y="909.3" width="44.7" height="284.4" fill="#f89e82" stroke="#2e2a2b" stroke-width="1.5" />
<line x1="851.9" y1="970.4" x2="851.9" y2="1013.0" stroke="#231f20" stroke-width="1.5" />
<line x1="841.1" y1="970.4" x2="862.7" y2="970.4" stroke="#231f20" stroke-width="1.5" />
<line x1="841.1" y1="1013.0" x2="862.7" y2="1013.0" stroke="#231f20" stroke-width="1.5" />
<line x1="918.1" y1="993.5" x2="918.1" y2="1021.5" stroke="#231f20" stroke-width="1.5" />
<line x1="907.3" y1="993.5" x2="928.9" y2="993.5" stroke="#231f20" stroke-width="1.5" />
<line x1="907.3" y1="1021.5" x2="928.9" y2="1021.5" stroke="#231f20" stroke-width="1.5" />
<line x1="983.8" y1="898.6" x2="983.8" y2="920.9" stroke="#231f20" stroke-width="1.5" />
<line x1="973.0" y1="898.6" x2="994.6" y2="898.6" stroke="#231f20" stroke-width="1.5" />
<line x1="973.0" y1="920.9" x2="994.6" y2="920.9" stroke="#231f20" stroke-width="1.5" />
<circle cx="852.1" cy="893.7" r="6.3" fill="#70ad58" stroke="#1a1a1a" stroke-width="1.7" />
<circle cx="852.1" cy="942.7" r="6.3" fill="#70ad58" stroke="#1a1a1a" stroke-width="1.7" />
<circle cx="836.5" cy="1000.7" r="6.3" fill="#70ad58" stroke="#1a1a1a" stroke-width="1.7" />
<circle cx="852.1" cy="996.6" r="6.3" fill="#70ad58" stroke="#1a1a1a" stroke-width="1.7" />
<circle cx="867.5" cy="1009.4" r="6.3" fill="#70ad58" stroke="#1a1a1a" stroke-width="1.7" />
<circle cx="859.6" cy="1046.1" r="6.3" fill="#70ad58" stroke="#1a1a1a" stroke-width="1.7" />
<circle cx="844.2" cy="1052.0" r="6.3" fill="#70ad58" stroke="#1a1a1a" stroke-width="1.7" />
<circle cx="918.1" cy="950.1" r="6.3" fill="#29a0dc" stroke="#1a1a1a" stroke-width="1.7" />
<circle cx="902.4" cy="987.1" r="6.3" fill="#29a0dc" stroke="#1a1a1a" stroke-width="1.7" />
<circle cx="934.0" cy="985.8" r="6.3" fill="#29a0dc" stroke="#1a1a1a" stroke-width="1.7" />
<circle cx="918.1" cy="993.0" r="6.3" fill="#29a0dc" stroke="#1a1a1a" stroke-width="1.7" />
<circle cx="902.4" cy="1001.7" r="6.3" fill="#29a0dc" stroke="#1a1a1a" stroke-width="1.7" />
<circle cx="934.0" cy="1005.6" r="6.3" fill="#29a0dc" stroke="#1a1a1a" stroke-width="1.7" />
<circle cx="918.1" cy="1011.5" r="6.3" fill="#29a0dc" stroke="#1a1a1a" stroke-width="1.7" />
<circle cx="918.1" cy="1029.4" r="6.3" fill="#29a0dc" stroke="#1a1a1a" stroke-width="1.7" />
<circle cx="918.1" cy="1102.6" r="6.3" fill="#29a0dc" stroke="#1a1a1a" stroke-width="1.7" />
<circle cx="968.4" cy="886.5" r="6.3" fill="#ee2a25" stroke="#1a1a1a" stroke-width="1.7" />
<circle cx="999.7" cy="889.1" r="6.3" fill="#ee2a25" stroke="#1a1a1a" stroke-width="1.7" />
<circle cx="968.4" cy="900.9" r="6.3" fill="#ee2a25" stroke="#1a1a1a" stroke-width="1.7" />
<circle cx="983.8" cy="898.6" r="6.3" fill="#ee2a25" stroke="#1a1a1a" stroke-width="1.7" />
<circle cx="999.7" cy="901.9" r="6.3" fill="#ee2a25" stroke="#1a1a1a" stroke-width="1.7" />
<circle cx="983.8" cy="917.0" r="6.3" fill="#ee2a25" stroke="#1a1a1a" stroke-width="1.7" />
<circle cx="983.8" cy="972.7" r="6.3" fill="#ee2a25" stroke="#1a1a1a" stroke-width="1.7" />
<path d="M849.8 808.2 L849.8 797.5 L982.0 797.5 L982.0 808.2" fill="none" stroke="#4b4947" stroke-width="1.5" />
<text x="883.7" y="789.5" font-size="18" textLength="63.6" lengthAdjust="spacingAndGlyphs">0.0059</text>
<path d="M918.1 929.9 L918.1 868.3 L983.8 868.3 L983.8 881.9" fill="none" stroke="#4b4947" stroke-width="1.5" />
<text x="918.9" y="860.6" font-size="18" textLength="63.6" lengthAdjust="spacingAndGlyphs">0.0007</text>
<text x="859.9" y="1226.7" font-size="26" text-anchor="end" textLength="42.0" lengthAdjust="spacingAndGlyphs" transform="rotate(-45 859.9 1226.7)">WT</text>
<text x="928.1" y="1226.2" font-size="26" text-anchor="end" textLength="54.0" lengthAdjust="spacingAndGlyphs" transform="rotate(-45 928.1 1226.2)">ABX</text>
<text x="996.8" y="1225.7" font-size="26" text-anchor="end" textLength="121.5" lengthAdjust="spacingAndGlyphs" transform="rotate(-45 996.8 1225.7)">ABX + IPA</text>
<text x="740.7" y="1029.6" font-size="27" text-anchor="middle" textLength="191.0" lengthAdjust="spacingAndGlyphs" transform="rotate(-90 740.7 1029.6)">Percentage (%)</text>
<line x1="1159.0" y1="863.9" x2="1159.0" y2="1193.7" stroke="#4b4947" stroke-width="1.6" />
<line x1="1150.3" y1="1193.7" x2="1379.5" y2="1193.7" stroke="#4b4947" stroke-width="1.6" />
<line x1="1150.3" y1="864.7" x2="1159.0" y2="864.7" stroke="#4b4947" stroke-width="1.6" />
<text x="1137.8" y="872.2" font-size="24" text-anchor="end" textLength="28.4" lengthAdjust="spacingAndGlyphs">60</text>
<line x1="1150.3" y1="974.0" x2="1159.0" y2="974.0" stroke="#4b4947" stroke-width="1.6" />
<text x="1137.8" y="981.5" font-size="24" text-anchor="end" textLength="28.4" lengthAdjust="spacingAndGlyphs">40</text>
<line x1="1150.3" y1="1083.8" x2="1159.0" y2="1083.8" stroke="#4b4947" stroke-width="1.6" />
<text x="1137.8" y="1091.3" font-size="24" text-anchor="end" textLength="28.4" lengthAdjust="spacingAndGlyphs">20</text>
<line x1="1150.3" y1="1193.7" x2="1159.0" y2="1193.7" stroke="#4b4947" stroke-width="1.6" />
<text x="1137.8" y="1201.2" font-size="24" text-anchor="end" textLength="14.1" lengthAdjust="spacingAndGlyphs">0</text>
<line x1="1202.9" y1="1193.7" x2="1202.9" y2="1203.2" stroke="#4b4947" stroke-width="1.6" />
<line x1="1268.9" y1="1193.7" x2="1268.9" y2="1203.2" stroke="#4b4947" stroke-width="1.6" />
<line x1="1334.5" y1="1193.7" x2="1334.5" y2="1203.2" stroke="#4b4947" stroke-width="1.6" />
<rect x="1180.8" y="961.4" width="44.7" height="232.3" fill="#b9d2a6" stroke="#2e2a2b" stroke-width="1.5" />
<rect x="1246.5" y="964.5" width="44.7" height="229.2" fill="#9dc7ea" stroke="#2e2a2b" stroke-width="1.5" />
<rect x="1312.2" y="1023.0" width="44.7" height="170.7" fill="#f89e82" stroke="#2e2a2b" stroke-width="1.5" />
<line x1="1202.9" y1="953.0" x2="1202.9" y2="969.9" stroke="#231f20" stroke-width="1.5" />
<line x1="1192.1" y1="953.0" x2="1213.7" y2="953.0" stroke="#231f20" stroke-width="1.5" />
<line x1="1192.1" y1="969.9" x2="1213.7" y2="969.9" stroke="#231f20" stroke-width="1.5" />
<line x1="1268.9" y1="958.4" x2="1268.9" y2="970.5" stroke="#231f20" stroke-width="1.5" />
<line x1="1258.1" y1="958.4" x2="1279.7" y2="958.4" stroke="#231f20" stroke-width="1.5" />
<line x1="1258.1" y1="970.5" x2="1279.7" y2="970.5" stroke="#231f20" stroke-width="1.5" />
<line x1="1334.5" y1="1009.4" x2="1334.5" y2="1037.1" stroke="#231f20" stroke-width="1.5" />
<line x1="1323.7" y1="1009.4" x2="1345.3" y2="1009.4" stroke="#231f20" stroke-width="1.5" />
<line x1="1323.7" y1="1037.1" x2="1345.3" y2="1037.1" stroke="#231f20" stroke-width="1.5" />
<circle cx="1202.9" cy="929.4" r="6.3" fill="#70ad58" stroke="#1a1a1a" stroke-width="1.7" />
<circle cx="1197.8" cy="949.4" r="6.3" fill="#70ad58" stroke="#1a1a1a" stroke-width="1.7" />
<circle cx="1208.0" cy="945.3" r="6.3" fill="#70ad58" stroke="#1a1a1a" stroke-width="1.7" />
<circle cx="1197.8" cy="970.9" r="6.3" fill="#70ad58" stroke="#1a1a1a" stroke-width="1.7" />
<circle cx="1187.5" cy="982.0" r="6.3" fill="#70ad58" stroke="#1a1a1a" stroke-width="1.7" />
<circle cx="1208.0" cy="978.9" r="6.3" fill="#70ad58" stroke="#1a1a1a" stroke-width="1.7" />
<circle cx="1218.3" cy="977.6" r="6.3" fill="#70ad58" stroke="#1a1a1a" stroke-width="1.7" />
<circle cx="1268.9" cy="929.9" r="6.3" fill="#29a0dc" stroke="#1a1a1a" stroke-width="1.7" />
<circle cx="1268.9" cy="945.3" r="6.3" fill="#29a0dc" stroke="#1a1a1a" stroke-width="1.7" />
<circle cx="1276.8" cy="960.2" r="6.3" fill="#29a0dc" stroke="#1a1a1a" stroke-width="1.7" />
<circle cx="1253.2" cy="966.1" r="6.3" fill="#29a0dc" stroke="#1a1a1a" stroke-width="1.7" />
<circle cx="1284.5" cy="966.6" r="6.3" fill="#29a0dc" stroke="#1a1a1a" stroke-width="1.7" />
<circle cx="1260.9" cy="968.4" r="6.3" fill="#29a0dc" stroke="#1a1a1a" stroke-width="1.7" />
<circle cx="1268.9" cy="966.6" r="6.3" fill="#29a0dc" stroke="#1a1a1a" stroke-width="1.7" />
<circle cx="1276.8" cy="978.4" r="6.3" fill="#29a0dc" stroke="#1a1a1a" stroke-width="1.7" />
<circle cx="1268.9" cy="1006.6" r="6.3" fill="#29a0dc" stroke="#1a1a1a" stroke-width="1.7" />
<circle cx="1334.5" cy="970.4" r="6.3" fill="#ee2a25" stroke="#1a1a1a" stroke-width="1.7" />
<circle cx="1319.2" cy="1012.0" r="6.3" fill="#ee2a25" stroke="#1a1a1a" stroke-width="1.7" />
<circle cx="1339.4" cy="1011.5" r="6.3" fill="#ee2a25" stroke="#1a1a1a" stroke-width="1.7" />
<circle cx="1329.2" cy="1022.3" r="6.3" fill="#ee2a25" stroke="#1a1a1a" stroke-width="1.7" />
<circle cx="1349.7" cy="1022.3" r="6.3" fill="#ee2a25" stroke="#1a1a1a" stroke-width="1.7" />
<circle cx="1338.9" cy="1032.8" r="6.3" fill="#ee2a25" stroke="#1a1a1a" stroke-width="1.7" />
<circle cx="1334.5" cy="1092.0" r="6.3" fill="#ee2a25" stroke="#1a1a1a" stroke-width="1.7" />
<path d="M1202.9 909.3 L1202.9 826.5 L1334.5 826.5 L1334.5 845.5" fill="none" stroke="#4b4947" stroke-width="1.5" />
<text x="1235.5" y="791.8" font-size="18" textLength="66.2" lengthAdjust="spacingAndGlyphs">0.0008</text>
<path d="M1268.9 910.1 L1268.9 890.9 L1334.5 890.9 L1334.5 950.4" fill="none" stroke="#4b4947" stroke-width="1.5" />
<text x="1268.9" y="885.2" font-size="18" textLength="65.6" lengthAdjust="spacingAndGlyphs">0.0009</text>
<text x="1210.9" y="1226.7" font-size="26" text-anchor="end" textLength="42.0" lengthAdjust="spacingAndGlyphs" transform="rotate(-45 1210.9 1226.7)">WT</text>
<text x="1278.9" y="1226.2" font-size="26" text-anchor="end" textLength="54.0" lengthAdjust="spacingAndGlyphs" transform="rotate(-45 1278.9 1226.2)">ABX</text>
<text x="1347.5" y="1225.7" font-size="26" text-anchor="end" textLength="121.5" lengthAdjust="spacingAndGlyphs" transform="rotate(-45 1347.5 1225.7)">ABX + IPA</text>
<text x="1091.8" y="1029.6" font-size="27" text-anchor="middle" textLength="191.0" lengthAdjust="spacingAndGlyphs" transform="rotate(-90 1091.8 1029.6)">Percentage (%)</text>
<text x="1426.3" y="733.5" font-size="39" textLength="23.0" lengthAdjust="spacingAndGlyphs" font-weight="bold" fill="#111" stroke="#111" stroke-width="0.9">e</text>
<text x="1601.1" y="744.4" font-size="27.5" textLength="138.9" lengthAdjust="spacingAndGlyphs">CD4<tspan font-size="17.1" dy="-11.5">+</tspan><tspan dy="11.5"> T cell</tspan></text>
<text x="1986.9" y="744.4" font-size="27.5" textLength="140.3" lengthAdjust="spacingAndGlyphs">CD8<tspan font-size="17.1" dy="-11.5">+</tspan><tspan dy="11.5"> T cell</tspan></text>
<line x1="1560.8" y1="864.7" x2="1560.8" y2="1193.7" stroke="#4b4947" stroke-width="1.6" />
<line x1="1552.1" y1="1193.7" x2="1780.5" y2="1193.7" stroke="#4b4947" stroke-width="1.6" />
<line x1="1552.1" y1="865.5" x2="1560.8" y2="865.5" stroke="#4b4947" stroke-width="1.6" />
<text x="1542.0" y="873.0" font-size="24" text-anchor="end" textLength="78.8" lengthAdjust="spacingAndGlyphs">10,000</text>
<line x1="1552.1" y1="930.9" x2="1560.8" y2="930.9" stroke="#4b4947" stroke-width="1.6" />
<text x="1542.0" y="938.4" font-size="24" text-anchor="end" textLength="66.8" lengthAdjust="spacingAndGlyphs">8,000</text>
<line x1="1552.1" y1="996.6" x2="1560.8" y2="996.6" stroke="#4b4947" stroke-width="1.6" />
<text x="1542.0" y="1004.1" font-size="24" text-anchor="end" textLength="66.8" lengthAdjust="spacingAndGlyphs">6,000</text>
<line x1="1552.1" y1="1062.3" x2="1560.8" y2="1062.3" stroke="#4b4947" stroke-width="1.6" />
<text x="1542.0" y="1069.8" font-size="24" text-anchor="end" textLength="66.8" lengthAdjust="spacingAndGlyphs">4,000</text>
<line x1="1552.1" y1="1128.0" x2="1560.8" y2="1128.0" stroke="#4b4947" stroke-width="1.6" />
<text x="1542.0" y="1135.5" font-size="24" text-anchor="end" textLength="66.8" lengthAdjust="spacingAndGlyphs">2,000</text>
<line x1="1552.1" y1="1193.7" x2="1560.8" y2="1193.7" stroke="#4b4947" stroke-width="1.6" />
<text x="1542.0" y="1201.2" font-size="24" text-anchor="end" textLength="14.1" lengthAdjust="spacingAndGlyphs">0</text>
<line x1="1604.5" y1="1193.7" x2="1604.5" y2="1203.2" stroke="#4b4947" stroke-width="1.6" />
<line x1="1670.2" y1="1193.7" x2="1670.2" y2="1203.2" stroke="#4b4947" stroke-width="1.6" />
<line x1="1735.8" y1="1193.7" x2="1735.8" y2="1203.2" stroke="#4b4947" stroke-width="1.6" />
<rect x="1582.4" y="1043.0" width="44.6" height="150.7" fill="#b9d2a6" stroke="#2e2a2b" stroke-width="1.5" />
<rect x="1648.3" y="1094.1" width="44.2" height="99.6" fill="#9dc7ea" stroke="#2e2a2b" stroke-width="1.5" />
<rect x="1713.8" y="1047.7" width="44.1" height="146.0" fill="#f89e82" stroke="#2e2a2b" stroke-width="1.5" />
<line x1="1604.5" y1="1027.6" x2="1604.5" y2="1058.2" stroke="#231f20" stroke-width="1.5" />
<line x1="1593.7" y1="1027.6" x2="1615.3" y2="1027.6" stroke="#231f20" stroke-width="1.5" />
<line x1="1593.7" y1="1058.2" x2="1615.3" y2="1058.2" stroke="#231f20" stroke-width="1.5" />
<line x1="1670.2" y1="1089.7" x2="1670.2" y2="1100.0" stroke="#231f20" stroke-width="1.5" />
<line x1="1659.4" y1="1089.7" x2="1681.0" y2="1089.7" stroke="#231f20" stroke-width="1.5" />
<line x1="1659.4" y1="1100.0" x2="1681.0" y2="1100.0" stroke="#231f20" stroke-width="1.5" />
<line x1="1735.8" y1="1036.0" x2="1735.8" y2="1059.7" stroke="#231f20" stroke-width="1.5" />
<line x1="1725.0" y1="1036.0" x2="1746.6" y2="1036.0" stroke="#231f20" stroke-width="1.5" />
<line x1="1725.0" y1="1059.7" x2="1746.6" y2="1059.7" stroke="#231f20" stroke-width="1.5" />
<circle cx="1599.1" cy="909.3" r="6.3" fill="#70ad58" stroke="#1a1a1a" stroke-width="1.7" />
<circle cx="1609.9" cy="910.1" r="6.3" fill="#70ad58" stroke="#1a1a1a" stroke-width="1.7" />
<circle cx="1609.9" cy="1013.5" r="6.3" fill="#70ad58" stroke="#1a1a1a" stroke-width="1.7" />
<circle cx="1620.1" cy="1023.0" r="6.3" fill="#70ad58" stroke="#1a1a1a" stroke-width="1.7" />
<circle cx="1589.1" cy="1032.8" r="6.3" fill="#70ad58" stroke="#1a1a1a" stroke-width="1.7" />
<circle cx="1609.9" cy="1040.2" r="6.3" fill="#70ad58" stroke="#1a1a1a" stroke-width="1.7" />
<circle cx="1620.6" cy="1040.2" r="6.3" fill="#70ad58" stroke="#1a1a1a" stroke-width="1.7" />
<circle cx="1589.1" cy="1047.4" r="6.3" fill="#70ad58" stroke="#1a1a1a" stroke-width="1.7" />
<circle cx="1599.6" cy="1050.7" r="6.3" fill="#70ad58" stroke="#1a1a1a" stroke-width="1.7" />
<circle cx="1609.9" cy="1059.0" r="6.3" fill="#70ad58" stroke="#1a1a1a" stroke-width="1.7" />
<circle cx="1609.9" cy="1072.3" r="6.3" fill="#70ad58" stroke="#1a1a1a" stroke-width="1.7" />
<circle cx="1599.6" cy="1077.4" r="6.3" fill="#70ad58" stroke="#1a1a1a" stroke-width="1.7" />
<circle cx="1609.9" cy="1085.9" r="6.3" fill="#70ad58" stroke="#1a1a1a" stroke-width="1.7" />
<circle cx="1599.6" cy="1089.7" r="6.3" fill="#70ad58" stroke="#1a1a1a" stroke-width="1.7" />
<circle cx="1609.9" cy="1114.6" r="6.3" fill="#70ad58" stroke="#1a1a1a" stroke-width="1.7" />
<circle cx="1599.6" cy="1127.0" r="6.3" fill="#70ad58" stroke="#1a1a1a" stroke-width="1.7" />
<circle cx="1667.1" cy="1055.1" r="6.3" fill="#29a0dc" stroke="#1a1a1a" stroke-width="1.7" />
<circle cx="1673.5" cy="1065.4" r="6.3" fill="#29a0dc" stroke="#1a1a1a" stroke-width="1.7" />
<circle cx="1654.2" cy="1080.0" r="6.3" fill="#29a0dc" stroke="#1a1a1a" stroke-width="1.7" />
<circle cx="1674.0" cy="1079.5" r="6.3" fill="#29a0dc" stroke="#1a1a1a" stroke-width="1.7" />
<circle cx="1685.6" cy="1081.3" r="6.3" fill="#29a0dc" stroke="#1a1a1a" stroke-width="1.7" />
<circle cx="1680.9" cy="1090.5" r="6.3" fill="#29a0dc" stroke="#1a1a1a" stroke-width="1.7" />
<circle cx="1674.0" cy="1093.6" r="6.3" fill="#29a0dc" stroke="#1a1a1a" stroke-width="1.7" />
<circle cx="1661.2" cy="1086.4" r="6.3" fill="#29a0dc" stroke="#1a1a1a" stroke-width="1.7" />
<circle cx="1667.6" cy="1087.2" r="6.3" fill="#29a0dc" stroke="#1a1a1a" stroke-width="1.7" />
<circle cx="1661.2" cy="1102.6" r="6.3" fill="#29a0dc" stroke="#1a1a1a" stroke-width="1.7" />
<circle cx="1667.6" cy="1101.3" r="6.3" fill="#29a0dc" stroke="#1a1a1a" stroke-width="1.7" />
<circle cx="1673.5" cy="1106.4" r="6.3" fill="#29a0dc" stroke="#1a1a1a" stroke-width="1.7" />
<circle cx="1660.7" cy="1121.3" r="6.3" fill="#29a0dc" stroke="#1a1a1a" stroke-width="1.7" />
<circle cx="1674.0" cy="1129.5" r="6.3" fill="#29a0dc" stroke="#1a1a1a" stroke-width="1.7" />
<circle cx="1667.1" cy="1134.1" r="6.3" fill="#29a0dc" stroke="#1a1a1a" stroke-width="1.7" />
<circle cx="1735.8" cy="945.3" r="6.3" fill="#ee2a25" stroke="#1a1a1a" stroke-width="1.7" />
<circle cx="1735.8" cy="1015.8" r="6.3" fill="#ee2a25" stroke="#1a1a1a" stroke-width="1.7" />
<circle cx="1727.9" cy="1023.0" r="6.3" fill="#ee2a25" stroke="#1a1a1a" stroke-width="1.7" />
<circle cx="1743.5" cy="1031.5" r="6.3" fill="#ee2a25" stroke="#1a1a1a" stroke-width="1.7" />
<circle cx="1727.9" cy="1038.4" r="6.3" fill="#ee2a25" stroke="#1a1a1a" stroke-width="1.7" />
<circle cx="1735.8" cy="1054.6" r="6.3" fill="#ee2a25" stroke="#1a1a1a" stroke-width="1.7" />
<circle cx="1743.5" cy="1050.5" r="6.3" fill="#ee2a25" stroke="#1a1a1a" stroke-width="1.7" />
<circle cx="1727.9" cy="1079.0" r="6.3" fill="#ee2a25" stroke="#1a1a1a" stroke-width="1.7" />
<circle cx="1743.5" cy="1079.0" r="6.3" fill="#ee2a25" stroke="#1a1a1a" stroke-width="1.7" />
<circle cx="1720.2" cy="1087.2" r="6.3" fill="#ee2a25" stroke="#1a1a1a" stroke-width="1.7" />
<circle cx="1735.8" cy="1084.6" r="6.3" fill="#ee2a25" stroke="#1a1a1a" stroke-width="1.7" />
<circle cx="1751.0" cy="1089.2" r="6.3" fill="#ee2a25" stroke="#1a1a1a" stroke-width="1.7" />
<path d="M1604.5 889.6 L1604.5 849.6 L1663.7 849.6 L1663.7 869.0" fill="none" stroke="#4b4947" stroke-width="1.5" />
<text x="1601.6" y="813.9" font-size="18" textLength="64.2" lengthAdjust="spacingAndGlyphs">0.0082</text>
<path d="M1676.8 1029.4 L1676.8 913.5 L1735.8 913.5 L1735.8 925.5" fill="none" stroke="#4b4947" stroke-width="1.5" />
<text x="1675.0" y="907.0" font-size="18" textLength="62.6" lengthAdjust="spacingAndGlyphs">0.0296</text>
<text x="1612.5" y="1226.7" font-size="26" text-anchor="end" textLength="42.0" lengthAdjust="spacingAndGlyphs" transform="rotate(-45 1612.5 1226.7)">WT</text>
<text x="1680.2" y="1226.2" font-size="26" text-anchor="end" textLength="54.0" lengthAdjust="spacingAndGlyphs" transform="rotate(-45 1680.2 1226.2)">ABX</text>
<text x="1748.8" y="1225.7" font-size="26" text-anchor="end" textLength="121.5" lengthAdjust="spacingAndGlyphs" transform="rotate(-45 1748.8 1225.7)">ABX + IPA</text>
<text x="1448.8" y="1029.1" font-size="27" text-anchor="middle" textLength="273.6" lengthAdjust="spacingAndGlyphs" transform="rotate(-90 1448.8 1029.1)">ATP/protein synthesis</text>
<line x1="1947.6" y1="865.2" x2="1947.6" y2="1193.7" stroke="#4b4947" stroke-width="1.6" />
<line x1="1938.4" y1="1193.7" x2="2166.0" y2="1193.7" stroke="#4b4947" stroke-width="1.6" />
<line x1="1938.4" y1="866.0" x2="1947.6" y2="866.0" stroke="#4b4947" stroke-width="1.6" />
<text x="1928.5" y="873.5" font-size="24" text-anchor="end" textLength="78.8" lengthAdjust="spacingAndGlyphs">10,000</text>
<line x1="1938.4" y1="931.9" x2="1947.6" y2="931.9" stroke="#4b4947" stroke-width="1.6" />
<text x="1928.5" y="939.4" font-size="24" text-anchor="end" textLength="66.8" lengthAdjust="spacingAndGlyphs">8,000</text>
<line x1="1938.4" y1="997.4" x2="1947.6" y2="997.4" stroke="#4b4947" stroke-width="1.6" />
<text x="1928.5" y="1004.9" font-size="24" text-anchor="end" textLength="66.8" lengthAdjust="spacingAndGlyphs">6,000</text>
<line x1="1938.4" y1="1062.8" x2="1947.6" y2="1062.8" stroke="#4b4947" stroke-width="1.6" />
<text x="1928.5" y="1070.3" font-size="24" text-anchor="end" textLength="66.8" lengthAdjust="spacingAndGlyphs">4,000</text>
<line x1="1938.4" y1="1128.2" x2="1947.6" y2="1128.2" stroke="#4b4947" stroke-width="1.6" />
<text x="1928.5" y="1135.7" font-size="24" text-anchor="end" textLength="66.8" lengthAdjust="spacingAndGlyphs">2,000</text>
<line x1="1938.4" y1="1193.7" x2="1947.6" y2="1193.7" stroke="#4b4947" stroke-width="1.6" />
<text x="1928.5" y="1201.2" font-size="24" text-anchor="end" textLength="14.1" lengthAdjust="spacingAndGlyphs">0</text>
<line x1="1991.0" y1="1193.7" x2="1991.0" y2="1203.2" stroke="#4b4947" stroke-width="1.6" />
<line x1="2056.7" y1="1193.7" x2="2056.7" y2="1203.2" stroke="#4b4947" stroke-width="1.6" />
<line x1="2122.1" y1="1193.7" x2="2122.1" y2="1203.2" stroke="#4b4947" stroke-width="1.6" />
<rect x="1969.4" y="1040.5" width="44.4" height="153.2" fill="#b9d2a6" stroke="#2e2a2b" stroke-width="1.5" />
<rect x="2034.6" y="1117.2" width="44.4" height="76.5" fill="#9dc7ea" stroke="#2e2a2b" stroke-width="1.5" />
<rect x="2100.0" y="1073.1" width="44.2" height="120.6" fill="#f89e82" stroke="#2e2a2b" stroke-width="1.5" />
<line x1="1991.0" y1="1023.3" x2="1991.0" y2="1058.4" stroke="#231f20" stroke-width="1.5" />
<line x1="1980.2" y1="1023.3" x2="2001.8" y2="1023.3" stroke="#231f20" stroke-width="1.5" />
<line x1="1980.2" y1="1058.4" x2="2001.8" y2="1058.4" stroke="#231f20" stroke-width="1.5" />
<line x1="2056.7" y1="1112.5" x2="2056.7" y2="1123.0" stroke="#231f20" stroke-width="1.5" />
<line x1="2045.9" y1="1112.5" x2="2067.5" y2="1112.5" stroke="#231f20" stroke-width="1.5" />
<line x1="2045.9" y1="1123.0" x2="2067.5" y2="1123.0" stroke="#231f20" stroke-width="1.5" />
<line x1="2122.1" y1="1062.8" x2="2122.1" y2="1084.0" stroke="#231f20" stroke-width="1.5" />
<line x1="2111.3" y1="1062.8" x2="2132.9" y2="1062.8" stroke="#231f20" stroke-width="1.5" />
<line x1="2111.3" y1="1084.0" x2="2132.9" y2="1084.0" stroke="#231f20" stroke-width="1.5" />
<circle cx="1991.0" cy="901.6" r="6.3" fill="#70ad58" stroke="#1a1a1a" stroke-width="1.7" />
<circle cx="1985.9" cy="931.9" r="6.3" fill="#70ad58" stroke="#1a1a1a" stroke-width="1.7" />
<circle cx="1996.6" cy="932.4" r="6.3" fill="#70ad58" stroke="#1a1a1a" stroke-width="1.7" />
<circle cx="1991.0" cy="953.2" r="6.3" fill="#70ad58" stroke="#1a1a1a" stroke-width="1.7" />
<circle cx="1985.9" cy="1036.4" r="6.3" fill="#70ad58" stroke="#1a1a1a" stroke-width="1.7" />
<circle cx="1996.1" cy="1038.9" r="6.3" fill="#70ad58" stroke="#1a1a1a" stroke-width="1.7" />
<circle cx="1991.0" cy="1052.5" r="6.3" fill="#70ad58" stroke="#1a1a1a" stroke-width="1.7" />
<circle cx="1985.9" cy="1066.6" r="6.3" fill="#70ad58" stroke="#1a1a1a" stroke-width="1.7" />
<circle cx="1996.1" cy="1066.1" r="6.3" fill="#70ad58" stroke="#1a1a1a" stroke-width="1.7" />
<circle cx="1985.9" cy="1082.0" r="6.3" fill="#70ad58" stroke="#1a1a1a" stroke-width="1.7" />
<circle cx="2006.9" cy="1083.8" r="6.3" fill="#70ad58" stroke="#1a1a1a" stroke-width="1.7" />
<circle cx="1975.6" cy="1092.3" r="6.3" fill="#70ad58" stroke="#1a1a1a" stroke-width="1.7" />
<circle cx="1996.1" cy="1089.7" r="6.3" fill="#70ad58" stroke="#1a1a1a" stroke-width="1.7" />
<circle cx="2006.9" cy="1100.0" r="6.3" fill="#70ad58" stroke="#1a1a1a" stroke-width="1.7" />
<circle cx="1975.6" cy="1112.8" r="6.3" fill="#70ad58" stroke="#1a1a1a" stroke-width="1.7" />
<circle cx="1996.1" cy="1112.8" r="6.3" fill="#70ad58" stroke="#1a1a1a" stroke-width="1.7" />
<circle cx="2041.0" cy="1087.2" r="6.3" fill="#29a0dc" stroke="#1a1a1a" stroke-width="1.7" />
<circle cx="2048.7" cy="1097.4" r="6.3" fill="#29a0dc" stroke="#1a1a1a" stroke-width="1.7" />
<circle cx="2064.6" cy="1097.4" r="6.3" fill="#29a0dc" stroke="#1a1a1a" stroke-width="1.7" />
<circle cx="2056.7" cy="1094.9" r="6.3" fill="#29a0dc" stroke="#1a1a1a" stroke-width="1.7" />
<circle cx="2072.3" cy="1095.4" r="6.3" fill="#29a0dc" stroke="#1a1a1a" stroke-width="1.7" />
<circle cx="2041.0" cy="1104.4" r="6.3" fill="#29a0dc" stroke="#1a1a1a" stroke-width="1.7" />
<circle cx="2048.7" cy="1115.4" r="6.3" fill="#29a0dc" stroke="#1a1a1a" stroke-width="1.7" />
<circle cx="2064.6" cy="1115.4" r="6.3" fill="#29a0dc" stroke="#1a1a1a" stroke-width="1.7" />
<circle cx="2041.0" cy="1119.3" r="6.3" fill="#29a0dc" stroke="#1a1a1a" stroke-width="1.7" />
<circle cx="2056.7" cy="1123.9" r="6.3" fill="#29a0dc" stroke="#1a1a1a" stroke-width="1.7" />
<circle cx="2057.7" cy="1138.5" r="6.3" fill="#29a0dc" stroke="#1a1a1a" stroke-width="1.7" />
<circle cx="2064.6" cy="1133.4" r="6.3" fill="#29a0dc" stroke="#1a1a1a" stroke-width="1.7" />
<circle cx="2048.7" cy="1136.7" r="6.3" fill="#29a0dc" stroke="#1a1a1a" stroke-width="1.7" />
<circle cx="2064.6" cy="1147.5" r="6.3" fill="#29a0dc" stroke="#1a1a1a" stroke-width="1.7" />
<circle cx="2048.7" cy="1157.2" r="6.3" fill="#29a0dc" stroke="#1a1a1a" stroke-width="1.7" />
<circle cx="2118.5" cy="999.2" r="6.3" fill="#ee2a25" stroke="#1a1a1a" stroke-width="1.7" />
<circle cx="2124.9" cy="1005.1" r="6.3" fill="#ee2a25" stroke="#1a1a1a" stroke-width="1.7" />
<circle cx="2121.9" cy="1040.2" r="6.3" fill="#ee2a25" stroke="#1a1a1a" stroke-width="1.7" />
<circle cx="2137.8" cy="1080.2" r="6.3" fill="#ee2a25" stroke="#1a1a1a" stroke-width="1.7" />
<circle cx="2106.5" cy="1080.8" r="6.3" fill="#ee2a25" stroke="#1a1a1a" stroke-width="1.7" />
<circle cx="2112.4" cy="1090.5" r="6.3" fill="#ee2a25" stroke="#1a1a1a" stroke-width="1.7" />
<circle cx="2124.4" cy="1089.7" r="6.3" fill="#ee2a25" stroke="#1a1a1a" stroke-width="1.7" />
<circle cx="2130.8" cy="1085.4" r="6.3" fill="#ee2a25" stroke="#1a1a1a" stroke-width="1.7" />
<circle cx="2118.5" cy="1083.8" r="6.3" fill="#ee2a25" stroke="#1a1a1a" stroke-width="1.7" />
<circle cx="2124.9" cy="1109.0" r="6.3" fill="#ee2a25" stroke="#1a1a1a" stroke-width="1.7" />
<circle cx="2118.5" cy="1103.9" r="6.3" fill="#ee2a25" stroke="#1a1a1a" stroke-width="1.7" />
<circle cx="2118.5" cy="1120.5" r="6.3" fill="#ee2a25" stroke="#1a1a1a" stroke-width="1.7" />
<path d="M1991.0 881.9 L1991.0 863.2 L2056.7 863.2 L2056.7 1067.4" fill="none" stroke="#4b4947" stroke-width="1.5" />
<text x="1991.0" y="855.7" font-size="18" textLength="65.4" lengthAdjust="spacingAndGlyphs">0.0003</text>
<text x="1999.0" y="1226.7" font-size="26" text-anchor="end" textLength="42.0" lengthAdjust="spacingAndGlyphs" transform="rotate(-45 1999.0 1226.7)">WT</text>
<text x="2066.7" y="1226.2" font-size="26" text-anchor="end" textLength="54.0" lengthAdjust="spacingAndGlyphs" transform="rotate(-45 2066.7 1226.2)">ABX</text>
<text x="2135.1" y="1225.7" font-size="26" text-anchor="end" textLength="121.5" lengthAdjust="spacingAndGlyphs" transform="rotate(-45 2135.1 1225.7)">ABX + IPA</text>
<text x="1835.8" y="1029.1" font-size="27" text-anchor="middle" textLength="273.6" lengthAdjust="spacingAndGlyphs" transform="rotate(-90 1835.8 1029.1)">ATP/protein synthesis</text>
<text x="0.0" y="1389.3" font-size="39" textLength="14.5" lengthAdjust="spacingAndGlyphs" font-weight="bold" fill="#111" stroke="#111" stroke-width="0.9">f</text>
<circle cx="106.2" cy="1381.5" r="11.3" fill="#ee2a25" stroke="#1a1a1a" stroke-width="2" />
<text x="133.7" y="1389.3" font-size="27" textLength="333.9" lengthAdjust="spacingAndGlyphs">Mitochondria dependence</text>
<circle cx="757.0" cy="1381.7" r="11.3" fill="#29a0dc" stroke="#1a1a1a" stroke-width="2" />
<text x="784.5" y="1389.5" font-size="27" textLength="241.5" lengthAdjust="spacingAndGlyphs">Glycolytic capacity</text>
<ellipse cx="108.4" cy="1633.3" rx="73.3" ry="75.4" fill="#9fcab1" stroke="#5f9c77" stroke-width="2.1"/>
<ellipse cx="115.5" cy="1640.8" rx="45.6" ry="46.9" fill="#70af8f" stroke="#5f9c77" stroke-width="1"/>
<text x="40.0" y="1643.6" font-size="27" textLength="138.7" lengthAdjust="spacingAndGlyphs">CD4<tspan font-size="16.7" dy="-11.5">+</tspan><tspan dy="11.5"> T cell</tspan></text>
<line x1="321.9" y1="1504.3" x2="321.9" y2="1775.6" stroke="#4b4947" stroke-width="1.6" />
<line x1="311.2" y1="1775.6" x2="592.4" y2="1775.6" stroke="#4b4947" stroke-width="1.6" />
<line x1="311.2" y1="1505.1" x2="321.9" y2="1505.1" stroke="#4b4947" stroke-width="1.6" />
<text x="298.1" y="1512.6" font-size="24" text-anchor="end" textLength="41.1" lengthAdjust="spacingAndGlyphs">100</text>
<line x1="311.2" y1="1559.3" x2="321.9" y2="1559.3" stroke="#4b4947" stroke-width="1.6" />
<text x="298.1" y="1566.8" font-size="24" text-anchor="end" textLength="28.4" lengthAdjust="spacingAndGlyphs">80</text>
<line x1="311.2" y1="1613.6" x2="321.9" y2="1613.6" stroke="#4b4947" stroke-width="1.6" />
<text x="298.1" y="1621.1" font-size="24" text-anchor="end" textLength="28.4" lengthAdjust="spacingAndGlyphs">60</text>
<line x1="311.2" y1="1667.1" x2="321.9" y2="1667.1" stroke="#4b4947" stroke-width="1.6" />
<text x="298.1" y="1674.6" font-size="24" text-anchor="end" textLength="28.4" lengthAdjust="spacingAndGlyphs">40</text>
<line x1="311.2" y1="1721.4" x2="321.9" y2="1721.4" stroke="#4b4947" stroke-width="1.6" />
<text x="298.1" y="1728.9" font-size="24" text-anchor="end" textLength="28.4" lengthAdjust="spacingAndGlyphs">20</text>
<line x1="311.2" y1="1775.6" x2="321.9" y2="1775.6" stroke="#4b4947" stroke-width="1.6" />
<text x="298.1" y="1783.1" font-size="24" text-anchor="end" textLength="14.1" lengthAdjust="spacingAndGlyphs">0</text>
<line x1="347.6" y1="1775.6" x2="347.6" y2="1786.6" stroke="#4b4947" stroke-width="1.6" />
<line x1="386.2" y1="1775.6" x2="386.2" y2="1786.6" stroke="#4b4947" stroke-width="1.6" />
<line x1="424.8" y1="1775.6" x2="424.8" y2="1786.6" stroke="#4b4947" stroke-width="1.6" />
<line x1="489.1" y1="1775.6" x2="489.1" y2="1786.6" stroke="#4b4947" stroke-width="1.6" />
<line x1="527.7" y1="1775.6" x2="527.7" y2="1786.6" stroke="#4b4947" stroke-width="1.6" />
<line x1="566.3" y1="1775.6" x2="566.3" y2="1786.6" stroke="#4b4947" stroke-width="1.6" />
<rect x="335.3" y="1560.7" width="25.2" height="214.9" fill="#f89e82" stroke="#2e2a2b" stroke-width="1.5" />
<rect x="373.7" y="1620.5" width="25.2" height="155.1" fill="#f89e82" stroke="#2e2a2b" stroke-width="1.5" />
<rect x="412.3" y="1557.6" width="25.2" height="218.0" fill="#f89e82" stroke="#2e2a2b" stroke-width="1.5" />
<rect x="476.8" y="1721.4" width="25.0" height="54.2" fill="#29a0dc" stroke="#2e2a2b" stroke-width="1.5" />
<rect x="515.4" y="1661.1" width="25.2" height="114.5" fill="#29a0dc" stroke="#2e2a2b" stroke-width="1.5" />
<rect x="554.0" y="1724.7" width="25.4" height="50.9" fill="#29a0dc" stroke="#2e2a2b" stroke-width="1.5" />
<line x1="386.2" y1="1606.6" x2="386.2" y2="1634.3" stroke="#231f20" stroke-width="1.5" />
<line x1="380.4" y1="1606.6" x2="392.0" y2="1606.6" stroke="#231f20" stroke-width="1.5" />
<line x1="380.4" y1="1634.3" x2="392.0" y2="1634.3" stroke="#231f20" stroke-width="1.5" />
<line x1="424.8" y1="1549.1" x2="424.8" y2="1564.7" stroke="#231f20" stroke-width="1.5" />
<line x1="419.0" y1="1549.1" x2="430.6" y2="1549.1" stroke="#231f20" stroke-width="1.5" />
<line x1="419.0" y1="1564.7" x2="430.6" y2="1564.7" stroke="#231f20" stroke-width="1.5" />
<line x1="527.7" y1="1647.0" x2="527.7" y2="1674.5" stroke="#231f20" stroke-width="1.5" />
<line x1="521.9" y1="1647.0" x2="533.5" y2="1647.0" stroke="#231f20" stroke-width="1.5" />
<line x1="521.9" y1="1674.5" x2="533.5" y2="1674.5" stroke="#231f20" stroke-width="1.5" />
<line x1="566.3" y1="1716.4" x2="566.3" y2="1733.0" stroke="#231f20" stroke-width="1.5" />
<line x1="560.5" y1="1716.4" x2="572.1" y2="1716.4" stroke="#231f20" stroke-width="1.5" />
<line x1="560.5" y1="1733.0" x2="572.1" y2="1733.0" stroke="#231f20" stroke-width="1.5" />
<line x1="347.6" y1="1554.0" x2="347.6" y2="1567.0" stroke="#231f20" stroke-width="1.5" />
<line x1="341.8" y1="1554.0" x2="353.4" y2="1554.0" stroke="#231f20" stroke-width="1.5" />
<line x1="341.8" y1="1567.0" x2="353.4" y2="1567.0" stroke="#231f20" stroke-width="1.5" />
<line x1="489.1" y1="1713.0" x2="489.1" y2="1729.0" stroke="#231f20" stroke-width="1.5" />
<line x1="483.3" y1="1713.0" x2="494.9" y2="1713.0" stroke="#231f20" stroke-width="1.5" />
<line x1="483.3" y1="1729.0" x2="494.9" y2="1729.0" stroke="#231f20" stroke-width="1.5" />
<circle cx="345.3" cy="1522.3" r="5.2" fill="#ee2a25" stroke="#1a1a1a" stroke-width="1.5" />
<circle cx="350.3" cy="1529.4" r="5.2" fill="#ee2a25" stroke="#1a1a1a" stroke-width="1.5" />
<circle cx="355.2" cy="1542.4" r="5.2" fill="#ee2a25" stroke="#1a1a1a" stroke-width="1.5" />
<circle cx="350.3" cy="1550.0" r="5.2" fill="#ee2a25" stroke="#1a1a1a" stroke-width="1.5" />
<circle cx="345.3" cy="1552.9" r="5.2" fill="#ee2a25" stroke="#1a1a1a" stroke-width="1.5" />
<circle cx="340.2" cy="1556.9" r="5.2" fill="#ee2a25" stroke="#1a1a1a" stroke-width="1.5" />
<circle cx="348.5" cy="1561.1" r="5.2" fill="#ee2a25" stroke="#1a1a1a" stroke-width="1.5" />
<circle cx="345.3" cy="1565.6" r="5.2" fill="#ee2a25" stroke="#1a1a1a" stroke-width="1.5" />
<circle cx="355.2" cy="1565.8" r="5.2" fill="#ee2a25" stroke="#1a1a1a" stroke-width="1.5" />
<circle cx="340.2" cy="1573.6" r="5.2" fill="#ee2a25" stroke="#1a1a1a" stroke-width="1.5" />
<circle cx="350.3" cy="1575.2" r="5.2" fill="#ee2a25" stroke="#1a1a1a" stroke-width="1.5" />
<circle cx="350.3" cy="1591.5" r="5.2" fill="#ee2a25" stroke="#1a1a1a" stroke-width="1.5" />
<circle cx="345.3" cy="1597.5" r="5.2" fill="#ee2a25" stroke="#1a1a1a" stroke-width="1.5" />
<circle cx="381.9" cy="1566.9" r="5.2" fill="#ee2a25" stroke="#1a1a1a" stroke-width="1.5" />
<circle cx="390.4" cy="1566.3" r="5.2" fill="#ee2a25" stroke="#1a1a1a" stroke-width="1.5" />
<circle cx="378.6" cy="1587.5" r="5.2" fill="#ee2a25" stroke="#1a1a1a" stroke-width="1.5" />
<circle cx="386.4" cy="1594.2" r="5.2" fill="#ee2a25" stroke="#1a1a1a" stroke-width="1.5" />
<circle cx="393.8" cy="1597.1" r="5.2" fill="#ee2a25" stroke="#1a1a1a" stroke-width="1.5" />
<circle cx="378.6" cy="1599.3" r="5.2" fill="#ee2a25" stroke="#1a1a1a" stroke-width="1.5" />
<circle cx="386.4" cy="1605.8" r="5.2" fill="#ee2a25" stroke="#1a1a1a" stroke-width="1.5" />
<circle cx="378.6" cy="1625.4" r="5.2" fill="#ee2a25" stroke="#1a1a1a" stroke-width="1.5" />
<circle cx="386.4" cy="1628.1" r="5.2" fill="#ee2a25" stroke="#1a1a1a" stroke-width="1.5" />
<circle cx="386.4" cy="1657.3" r="5.2" fill="#ee2a25" stroke="#1a1a1a" stroke-width="1.5" />
<circle cx="389.8" cy="1702.8" r="5.2" fill="#ee2a25" stroke="#1a1a1a" stroke-width="1.5" />
<circle cx="382.2" cy="1713.5" r="5.2" fill="#ee2a25" stroke="#1a1a1a" stroke-width="1.5" />
<circle cx="424.8" cy="1518.3" r="5.2" fill="#ee2a25" stroke="#1a1a1a" stroke-width="1.5" />
<circle cx="424.8" cy="1534.6" r="5.2" fill="#ee2a25" stroke="#1a1a1a" stroke-width="1.5" />
<circle cx="417.2" cy="1542.2" r="5.2" fill="#ee2a25" stroke="#1a1a1a" stroke-width="1.5" />
<circle cx="432.4" cy="1542.2" r="5.2" fill="#ee2a25" stroke="#1a1a1a" stroke-width="1.5" />
<circle cx="420.5" cy="1539.5" r="5.2" fill="#ee2a25" stroke="#1a1a1a" stroke-width="1.5" />
<circle cx="429.5" cy="1540.1" r="5.2" fill="#ee2a25" stroke="#1a1a1a" stroke-width="1.5" />
<circle cx="424.8" cy="1542.8" r="5.2" fill="#ee2a25" stroke="#1a1a1a" stroke-width="1.5" />
<circle cx="424.8" cy="1556.9" r="5.2" fill="#ee2a25" stroke="#1a1a1a" stroke-width="1.5" />
<circle cx="424.8" cy="1582.5" r="5.2" fill="#ee2a25" stroke="#1a1a1a" stroke-width="1.5" />
<circle cx="422.8" cy="1590.4" r="5.2" fill="#ee2a25" stroke="#1a1a1a" stroke-width="1.5" />
<circle cx="426.6" cy="1589.2" r="5.2" fill="#ee2a25" stroke="#1a1a1a" stroke-width="1.5" />
<circle cx="424.8" cy="1604.2" r="5.2" fill="#ee2a25" stroke="#1a1a1a" stroke-width="1.5" />
<circle cx="492.0" cy="1683.9" r="5.2" fill="#29a0dc" stroke="#1a1a1a" stroke-width="1.5" />
<circle cx="486.4" cy="1690.1" r="5.2" fill="#29a0dc" stroke="#1a1a1a" stroke-width="1.5" />
<circle cx="481.9" cy="1706.2" r="5.2" fill="#29a0dc" stroke="#1a1a1a" stroke-width="1.5" />
<circle cx="496.9" cy="1705.7" r="5.2" fill="#29a0dc" stroke="#1a1a1a" stroke-width="1.5" />
<circle cx="486.4" cy="1714.7" r="5.2" fill="#29a0dc" stroke="#1a1a1a" stroke-width="1.5" />
<circle cx="492.0" cy="1713.5" r="5.2" fill="#29a0dc" stroke="#1a1a1a" stroke-width="1.5" />
<circle cx="481.9" cy="1718.0" r="5.2" fill="#29a0dc" stroke="#1a1a1a" stroke-width="1.5" />
<circle cx="496.9" cy="1723.6" r="5.2" fill="#29a0dc" stroke="#1a1a1a" stroke-width="1.5" />
<circle cx="492.0" cy="1728.0" r="5.2" fill="#29a0dc" stroke="#1a1a1a" stroke-width="1.5" />
<circle cx="481.9" cy="1730.3" r="5.2" fill="#29a0dc" stroke="#1a1a1a" stroke-width="1.5" />
<circle cx="486.4" cy="1738.8" r="5.2" fill="#29a0dc" stroke="#1a1a1a" stroke-width="1.5" />
<circle cx="492.0" cy="1752.2" r="5.2" fill="#29a0dc" stroke="#1a1a1a" stroke-width="1.5" />
<circle cx="486.4" cy="1759.3" r="5.2" fill="#29a0dc" stroke="#1a1a1a" stroke-width="1.5" />
<circle cx="520.5" cy="1567.4" r="5.2" fill="#29a0dc" stroke="#1a1a1a" stroke-width="1.5" />
<circle cx="528.1" cy="1578.1" r="5.2" fill="#29a0dc" stroke="#1a1a1a" stroke-width="1.5" />
<circle cx="528.1" cy="1623.8" r="5.2" fill="#29a0dc" stroke="#1a1a1a" stroke-width="1.5" />
<circle cx="531.7" cy="1652.8" r="5.2" fill="#29a0dc" stroke="#1a1a1a" stroke-width="1.5" />
<circle cx="523.9" cy="1656.6" r="5.2" fill="#29a0dc" stroke="#1a1a1a" stroke-width="1.5" />
<circle cx="535.5" cy="1675.6" r="5.2" fill="#29a0dc" stroke="#1a1a1a" stroke-width="1.5" />
<circle cx="527.7" cy="1682.3" r="5.2" fill="#29a0dc" stroke="#1a1a1a" stroke-width="1.5" />
<circle cx="519.9" cy="1684.5" r="5.2" fill="#29a0dc" stroke="#1a1a1a" stroke-width="1.5" />
<circle cx="535.5" cy="1686.3" r="5.2" fill="#29a0dc" stroke="#1a1a1a" stroke-width="1.5" />
<circle cx="527.7" cy="1694.1" r="5.2" fill="#29a0dc" stroke="#1a1a1a" stroke-width="1.5" />
<circle cx="523.9" cy="1715.1" r="5.2" fill="#29a0dc" stroke="#1a1a1a" stroke-width="1.5" />
<circle cx="531.7" cy="1714.2" r="5.2" fill="#29a0dc" stroke="#1a1a1a" stroke-width="1.5" />
<circle cx="566.3" cy="1677.2" r="5.2" fill="#29a0dc" stroke="#1a1a1a" stroke-width="1.5" />
<circle cx="562.7" cy="1691.9" r="5.2" fill="#29a0dc" stroke="#1a1a1a" stroke-width="1.5" />
<circle cx="569.6" cy="1690.8" r="5.2" fill="#29a0dc" stroke="#1a1a1a" stroke-width="1.5" />
<circle cx="566.3" cy="1699.0" r="5.2" fill="#29a0dc" stroke="#1a1a1a" stroke-width="1.5" />
<circle cx="566.3" cy="1723.6" r="5.2" fill="#29a0dc" stroke="#1a1a1a" stroke-width="1.5" />
<circle cx="558.5" cy="1739.2" r="5.2" fill="#29a0dc" stroke="#1a1a1a" stroke-width="1.5" />
<circle cx="573.9" cy="1739.2" r="5.2" fill="#29a0dc" stroke="#1a1a1a" stroke-width="1.5" />
<circle cx="566.3" cy="1738.1" r="5.2" fill="#29a0dc" stroke="#1a1a1a" stroke-width="1.5" />
<circle cx="570.1" cy="1734.7" r="5.2" fill="#29a0dc" stroke="#1a1a1a" stroke-width="1.5" />
<circle cx="562.7" cy="1747.0" r="5.2" fill="#29a0dc" stroke="#1a1a1a" stroke-width="1.5" />
<circle cx="566.3" cy="1762.6" r="5.2" fill="#29a0dc" stroke="#1a1a1a" stroke-width="1.5" />
<text x="357.9" y="1810.3" font-size="26" text-anchor="end" textLength="42.0" lengthAdjust="spacingAndGlyphs" transform="rotate(-45 357.9 1810.3)">WT</text>
<text x="396.2" y="1808.6" font-size="26" text-anchor="end" textLength="54.0" lengthAdjust="spacingAndGlyphs" transform="rotate(-45 396.2 1808.6)">ABX</text>
<text x="437.8" y="1808.1" font-size="26" text-anchor="end" textLength="121.5" lengthAdjust="spacingAndGlyphs" transform="rotate(-45 437.8 1808.1)">ABX + IPA</text>
<text x="499.4" y="1810.3" font-size="26" text-anchor="end" textLength="42.0" lengthAdjust="spacingAndGlyphs" transform="rotate(-45 499.4 1810.3)">WT</text>
<text x="537.7" y="1808.6" font-size="26" text-anchor="end" textLength="54.0" lengthAdjust="spacingAndGlyphs" transform="rotate(-45 537.7 1808.6)">ABX</text>
<text x="579.3" y="1808.1" font-size="26" text-anchor="end" textLength="121.5" lengthAdjust="spacingAndGlyphs" transform="rotate(-45 579.3 1808.1)">ABX + IPA</text>
<text x="238.5" y="1641.1" font-size="27" text-anchor="middle" textLength="190.2" lengthAdjust="spacingAndGlyphs" transform="rotate(-90 238.5 1641.1)">Percentage (%)</text>
<path d="M347.6 1502.0 L347.6 1486.1 L386.2 1486.1 L386.2 1502.0" fill="none" stroke="#4b4947" stroke-width="1.5" />
<text x="335.7" y="1479.2" font-size="18" textLength="61.9" lengthAdjust="spacingAndGlyphs">0.0001</text>
<path d="M386.2 1449.5 L386.2 1433.9 L424.8 1433.9 L424.8 1449.5" fill="none" stroke="#4b4947" stroke-width="1.5" />
<text x="369.9" y="1427.2" font-size="18" textLength="71.9" lengthAdjust="spacingAndGlyphs"><tspan font-size="14.4" dy="-1">&lt;</tspan><tspan dy="1">0.0001</tspan></text>
<path d="M489.1 1449.5 L489.1 1433.9 L527.7 1433.9 L527.7 1449.5" fill="none" stroke="#4b4947" stroke-width="1.5" />
<text x="477.9" y="1427.2" font-size="18" textLength="61.6" lengthAdjust="spacingAndGlyphs">0.0001</text>
<path d="M527.7 1502.0 L527.7 1486.1 L566.3 1486.1 L566.3 1502.0" fill="none" stroke="#4b4947" stroke-width="1.5" />
<text x="510.9" y="1479.2" font-size="18" textLength="71.4" lengthAdjust="spacingAndGlyphs"><tspan font-size="14.4" dy="-1">&lt;</tspan><tspan dy="1">0.0001</tspan></text>
<line x1="751.2" y1="1504.1" x2="751.2" y2="1775.6" stroke="#4b4947" stroke-width="1.6" />
<line x1="740.5" y1="1775.6" x2="1022.4" y2="1775.6" stroke="#4b4947" stroke-width="1.6" />
<line x1="740.5" y1="1504.9" x2="751.2" y2="1504.9" stroke="#4b4947" stroke-width="1.6" />
<text x="727.4" y="1512.4" font-size="24" text-anchor="end" textLength="41.1" lengthAdjust="spacingAndGlyphs">100</text>
<line x1="740.5" y1="1559.1" x2="751.2" y2="1559.1" stroke="#4b4947" stroke-width="1.6" />
<text x="727.4" y="1566.6" font-size="24" text-anchor="end" textLength="28.4" lengthAdjust="spacingAndGlyphs">80</text>
<line x1="740.5" y1="1613.3" x2="751.2" y2="1613.3" stroke="#4b4947" stroke-width="1.6" />
<text x="727.4" y="1620.8" font-size="24" text-anchor="end" textLength="28.4" lengthAdjust="spacingAndGlyphs">60</text>
<line x1="740.5" y1="1667.1" x2="751.2" y2="1667.1" stroke="#4b4947" stroke-width="1.6" />
<text x="727.4" y="1674.6" font-size="24" text-anchor="end" textLength="28.4" lengthAdjust="spacingAndGlyphs">40</text>
<line x1="740.5" y1="1721.4" x2="751.2" y2="1721.4" stroke="#4b4947" stroke-width="1.6" />
<text x="727.4" y="1728.9" font-size="24" text-anchor="end" textLength="28.4" lengthAdjust="spacingAndGlyphs">20</text>
<line x1="740.5" y1="1775.6" x2="751.2" y2="1775.6" stroke="#4b4947" stroke-width="1.6" />
<text x="727.4" y="1783.1" font-size="24" text-anchor="end" textLength="14.1" lengthAdjust="spacingAndGlyphs">0</text>
<line x1="776.9" y1="1775.6" x2="776.9" y2="1786.6" stroke="#4b4947" stroke-width="1.6" />
<line x1="815.5" y1="1775.6" x2="815.5" y2="1786.6" stroke="#4b4947" stroke-width="1.6" />
<line x1="854.1" y1="1775.6" x2="854.1" y2="1786.6" stroke="#4b4947" stroke-width="1.6" />
<line x1="918.4" y1="1775.6" x2="918.4" y2="1786.6" stroke="#4b4947" stroke-width="1.6" />
<line x1="957.2" y1="1775.6" x2="957.2" y2="1786.6" stroke="#4b4947" stroke-width="1.6" />
<line x1="996.1" y1="1775.6" x2="996.1" y2="1786.6" stroke="#4b4947" stroke-width="1.6" />
<rect x="764.4" y="1604.9" width="25.2" height="170.7" fill="#b9d2a6" stroke="#2e2a2b" stroke-width="1.5" />
<rect x="802.8" y="1559.1" width="25.4" height="216.5" fill="#b9d2a6" stroke="#2e2a2b" stroke-width="1.5" />
<rect x="841.4" y="1603.1" width="25.2" height="172.5" fill="#b9d2a6" stroke="#2e2a2b" stroke-width="1.5" />
<rect x="906.3" y="1676.3" width="25.0" height="99.3" fill="#fac596" stroke="#2e2a2b" stroke-width="1.5" />
<rect x="944.5" y="1722.2" width="25.4" height="53.4" fill="#fac596" stroke="#2e2a2b" stroke-width="1.5" />
<rect x="983.3" y="1678.3" width="25.2" height="97.3" fill="#fac596" stroke="#2e2a2b" stroke-width="1.5" />
<line x1="815.5" y1="1554.0" x2="815.5" y2="1565.6" stroke="#231f20" stroke-width="1.5" />
<line x1="809.7" y1="1554.0" x2="821.3" y2="1554.0" stroke="#231f20" stroke-width="1.5" />
<line x1="809.7" y1="1565.6" x2="821.3" y2="1565.6" stroke="#231f20" stroke-width="1.5" />
<line x1="854.1" y1="1588.6" x2="854.1" y2="1616.0" stroke="#231f20" stroke-width="1.5" />
<line x1="848.3" y1="1588.6" x2="859.9" y2="1588.6" stroke="#231f20" stroke-width="1.5" />
<line x1="848.3" y1="1616.0" x2="859.9" y2="1616.0" stroke="#231f20" stroke-width="1.5" />
<line x1="957.2" y1="1715.8" x2="957.2" y2="1729.0" stroke="#231f20" stroke-width="1.5" />
<line x1="951.4" y1="1715.8" x2="963.0" y2="1715.8" stroke="#231f20" stroke-width="1.5" />
<line x1="951.4" y1="1729.0" x2="963.0" y2="1729.0" stroke="#231f20" stroke-width="1.5" />
<line x1="996.1" y1="1664.4" x2="996.1" y2="1691.9" stroke="#231f20" stroke-width="1.5" />
<line x1="990.3" y1="1664.4" x2="1001.9" y2="1664.4" stroke="#231f20" stroke-width="1.5" />
<line x1="990.3" y1="1691.9" x2="1001.9" y2="1691.9" stroke="#231f20" stroke-width="1.5" />
<line x1="776.9" y1="1600.0" x2="776.9" y2="1610.0" stroke="#231f20" stroke-width="1.5" />
<line x1="771.1" y1="1600.0" x2="782.7" y2="1600.0" stroke="#231f20" stroke-width="1.5" />
<line x1="771.1" y1="1610.0" x2="782.7" y2="1610.0" stroke="#231f20" stroke-width="1.5" />
<line x1="918.4" y1="1671.0" x2="918.4" y2="1682.0" stroke="#231f20" stroke-width="1.5" />
<line x1="912.6" y1="1671.0" x2="924.2" y2="1671.0" stroke="#231f20" stroke-width="1.5" />
<line x1="912.6" y1="1682.0" x2="924.2" y2="1682.0" stroke="#231f20" stroke-width="1.5" />
<circle cx="776.5" cy="1583.0" r="5.2" fill="#70ad58" stroke="#1a1a1a" stroke-width="1.5" />
<circle cx="769.1" cy="1588.6" r="5.2" fill="#70ad58" stroke="#1a1a1a" stroke-width="1.5" />
<circle cx="784.7" cy="1587.0" r="5.2" fill="#70ad58" stroke="#1a1a1a" stroke-width="1.5" />
<circle cx="779.1" cy="1587.0" r="5.2" fill="#70ad58" stroke="#1a1a1a" stroke-width="1.5" />
<circle cx="774.2" cy="1594.2" r="5.2" fill="#70ad58" stroke="#1a1a1a" stroke-width="1.5" />
<circle cx="771.3" cy="1604.2" r="5.2" fill="#70ad58" stroke="#1a1a1a" stroke-width="1.5" />
<circle cx="781.4" cy="1603.5" r="5.2" fill="#70ad58" stroke="#1a1a1a" stroke-width="1.5" />
<circle cx="775.8" cy="1609.8" r="5.2" fill="#70ad58" stroke="#1a1a1a" stroke-width="1.5" />
<circle cx="776.5" cy="1602.6" r="5.2" fill="#70ad58" stroke="#1a1a1a" stroke-width="1.5" />
<circle cx="774.2" cy="1619.8" r="5.2" fill="#70ad58" stroke="#1a1a1a" stroke-width="1.5" />
<circle cx="784.3" cy="1623.2" r="5.2" fill="#70ad58" stroke="#1a1a1a" stroke-width="1.5" />
<circle cx="769.1" cy="1629.2" r="5.2" fill="#70ad58" stroke="#1a1a1a" stroke-width="1.5" />
<circle cx="779.1" cy="1629.9" r="5.2" fill="#70ad58" stroke="#1a1a1a" stroke-width="1.5" />
<circle cx="820.4" cy="1527.9" r="5.2" fill="#70ad58" stroke="#1a1a1a" stroke-width="1.5" />
<circle cx="809.9" cy="1534.6" r="5.2" fill="#70ad58" stroke="#1a1a1a" stroke-width="1.5" />
<circle cx="815.5" cy="1534.6" r="5.2" fill="#70ad58" stroke="#1a1a1a" stroke-width="1.5" />
<circle cx="823.1" cy="1547.3" r="5.2" fill="#70ad58" stroke="#1a1a1a" stroke-width="1.5" />
<circle cx="807.7" cy="1551.3" r="5.2" fill="#70ad58" stroke="#1a1a1a" stroke-width="1.5" />
<circle cx="817.5" cy="1549.5" r="5.2" fill="#70ad58" stroke="#1a1a1a" stroke-width="1.5" />
<circle cx="812.6" cy="1556.2" r="5.2" fill="#70ad58" stroke="#1a1a1a" stroke-width="1.5" />
<circle cx="812.6" cy="1567.4" r="5.2" fill="#70ad58" stroke="#1a1a1a" stroke-width="1.5" />
<circle cx="817.5" cy="1572.3" r="5.2" fill="#70ad58" stroke="#1a1a1a" stroke-width="1.5" />
<circle cx="809.9" cy="1590.4" r="5.2" fill="#70ad58" stroke="#1a1a1a" stroke-width="1.5" />
<circle cx="815.5" cy="1587.5" r="5.2" fill="#70ad58" stroke="#1a1a1a" stroke-width="1.5" />
<circle cx="820.4" cy="1589.2" r="5.2" fill="#70ad58" stroke="#1a1a1a" stroke-width="1.5" />
<circle cx="854.1" cy="1545.1" r="5.2" fill="#70ad58" stroke="#1a1a1a" stroke-width="1.5" />
<circle cx="846.8" cy="1558.4" r="5.2" fill="#70ad58" stroke="#1a1a1a" stroke-width="1.5" />
<circle cx="861.7" cy="1555.5" r="5.2" fill="#70ad58" stroke="#1a1a1a" stroke-width="1.5" />
<circle cx="846.8" cy="1573.0" r="5.2" fill="#70ad58" stroke="#1a1a1a" stroke-width="1.5" />
<circle cx="861.7" cy="1570.7" r="5.2" fill="#70ad58" stroke="#1a1a1a" stroke-width="1.5" />
<circle cx="846.8" cy="1594.6" r="5.2" fill="#70ad58" stroke="#1a1a1a" stroke-width="1.5" />
<circle cx="861.7" cy="1597.5" r="5.2" fill="#70ad58" stroke="#1a1a1a" stroke-width="1.5" />
<circle cx="846.8" cy="1609.8" r="5.2" fill="#70ad58" stroke="#1a1a1a" stroke-width="1.5" />
<circle cx="861.7" cy="1619.8" r="5.2" fill="#70ad58" stroke="#1a1a1a" stroke-width="1.5" />
<circle cx="846.8" cy="1645.0" r="5.2" fill="#70ad58" stroke="#1a1a1a" stroke-width="1.5" />
<circle cx="861.7" cy="1653.3" r="5.2" fill="#70ad58" stroke="#1a1a1a" stroke-width="1.5" />
<circle cx="854.1" cy="1708.4" r="5.2" fill="#70ad58" stroke="#1a1a1a" stroke-width="1.5" />
<circle cx="916.4" cy="1651.1" r="5.2" fill="#f39237" stroke="#1a1a1a" stroke-width="1.5" />
<circle cx="920.9" cy="1651.1" r="5.2" fill="#f39237" stroke="#1a1a1a" stroke-width="1.5" />
<circle cx="919.3" cy="1656.6" r="5.2" fill="#f39237" stroke="#1a1a1a" stroke-width="1.5" />
<circle cx="915.9" cy="1662.2" r="5.2" fill="#f39237" stroke="#1a1a1a" stroke-width="1.5" />
<circle cx="914.2" cy="1672.3" r="5.2" fill="#f39237" stroke="#1a1a1a" stroke-width="1.5" />
<circle cx="923.1" cy="1674.9" r="5.2" fill="#f39237" stroke="#1a1a1a" stroke-width="1.5" />
<circle cx="918.2" cy="1677.8" r="5.2" fill="#f39237" stroke="#1a1a1a" stroke-width="1.5" />
<circle cx="914.2" cy="1686.8" r="5.2" fill="#f39237" stroke="#1a1a1a" stroke-width="1.5" />
<circle cx="909.7" cy="1694.1" r="5.2" fill="#f39237" stroke="#1a1a1a" stroke-width="1.5" />
<circle cx="922.0" cy="1692.3" r="5.2" fill="#f39237" stroke="#1a1a1a" stroke-width="1.5" />
<circle cx="918.2" cy="1693.5" r="5.2" fill="#f39237" stroke="#1a1a1a" stroke-width="1.5" />
<circle cx="925.8" cy="1698.6" r="5.2" fill="#f39237" stroke="#1a1a1a" stroke-width="1.5" />
<circle cx="952.1" cy="1692.3" r="5.2" fill="#f39237" stroke="#1a1a1a" stroke-width="1.5" />
<circle cx="962.6" cy="1690.6" r="5.2" fill="#f39237" stroke="#1a1a1a" stroke-width="1.5" />
<circle cx="957.2" cy="1691.2" r="5.2" fill="#f39237" stroke="#1a1a1a" stroke-width="1.5" />
<circle cx="954.3" cy="1712.9" r="5.2" fill="#f39237" stroke="#1a1a1a" stroke-width="1.5" />
<circle cx="959.9" cy="1708.4" r="5.2" fill="#f39237" stroke="#1a1a1a" stroke-width="1.5" />
<circle cx="949.4" cy="1726.9" r="5.2" fill="#f39237" stroke="#1a1a1a" stroke-width="1.5" />
<circle cx="965.0" cy="1729.6" r="5.2" fill="#f39237" stroke="#1a1a1a" stroke-width="1.5" />
<circle cx="959.9" cy="1734.1" r="5.2" fill="#f39237" stroke="#1a1a1a" stroke-width="1.5" />
<circle cx="954.3" cy="1732.5" r="5.2" fill="#f39237" stroke="#1a1a1a" stroke-width="1.5" />
<circle cx="962.6" cy="1747.0" r="5.2" fill="#f39237" stroke="#1a1a1a" stroke-width="1.5" />
<circle cx="954.3" cy="1747.0" r="5.2" fill="#f39237" stroke="#1a1a1a" stroke-width="1.5" />
<circle cx="952.1" cy="1753.3" r="5.2" fill="#f39237" stroke="#1a1a1a" stroke-width="1.5" />
<circle cx="996.1" cy="1572.5" r="5.2" fill="#f39237" stroke="#1a1a1a" stroke-width="1.5" />
<circle cx="1003.4" cy="1627.6" r="5.2" fill="#f39237" stroke="#1a1a1a" stroke-width="1.5" />
<circle cx="988.5" cy="1635.4" r="5.2" fill="#f39237" stroke="#1a1a1a" stroke-width="1.5" />
<circle cx="1003.4" cy="1661.1" r="5.2" fill="#f39237" stroke="#1a1a1a" stroke-width="1.5" />
<circle cx="988.5" cy="1671.6" r="5.2" fill="#f39237" stroke="#1a1a1a" stroke-width="1.5" />
<circle cx="1003.4" cy="1683.9" r="5.2" fill="#f39237" stroke="#1a1a1a" stroke-width="1.5" />
<circle cx="988.5" cy="1686.3" r="5.2" fill="#f39237" stroke="#1a1a1a" stroke-width="1.5" />
<circle cx="1003.4" cy="1707.5" r="5.2" fill="#f39237" stroke="#1a1a1a" stroke-width="1.5" />
<circle cx="988.5" cy="1710.2" r="5.2" fill="#f39237" stroke="#1a1a1a" stroke-width="1.5" />
<circle cx="988.5" cy="1722.0" r="5.2" fill="#f39237" stroke="#1a1a1a" stroke-width="1.5" />
<circle cx="1003.4" cy="1725.4" r="5.2" fill="#f39237" stroke="#1a1a1a" stroke-width="1.5" />
<circle cx="988.5" cy="1735.4" r="5.2" fill="#f39237" stroke="#1a1a1a" stroke-width="1.5" />
<text x="787.2" y="1810.3" font-size="26" text-anchor="end" textLength="42.0" lengthAdjust="spacingAndGlyphs" transform="rotate(-45 787.2 1810.3)">WT</text>
<text x="825.5" y="1808.6" font-size="26" text-anchor="end" textLength="54.0" lengthAdjust="spacingAndGlyphs" transform="rotate(-45 825.5 1808.6)">ABX</text>
<text x="867.1" y="1808.1" font-size="26" text-anchor="end" textLength="121.5" lengthAdjust="spacingAndGlyphs" transform="rotate(-45 867.1 1808.1)">ABX + IPA</text>
<text x="928.7" y="1810.3" font-size="26" text-anchor="end" textLength="42.0" lengthAdjust="spacingAndGlyphs" transform="rotate(-45 928.7 1810.3)">WT</text>
<text x="967.2" y="1808.6" font-size="26" text-anchor="end" textLength="54.0" lengthAdjust="spacingAndGlyphs" transform="rotate(-45 967.2 1808.6)">ABX</text>
<text x="1009.1" y="1808.1" font-size="26" text-anchor="end" textLength="121.5" lengthAdjust="spacingAndGlyphs" transform="rotate(-45 1009.1 1808.1)">ABX + IPA</text>
<text x="666.9" y="1641.1" font-size="27" text-anchor="middle" textLength="190.2" lengthAdjust="spacingAndGlyphs" transform="rotate(-90 666.9 1641.1)">Percentage (%)</text>
<path d="M776.9 1511.6 L776.9 1496.0 L815.5 1496.0 L815.5 1511.6" fill="none" stroke="#4b4947" stroke-width="1.5" />
<text x="768.0" y="1489.3" font-size="18" textLength="60.7" lengthAdjust="spacingAndGlyphs">0.0016</text>
<path d="M815.5 1459.1 L815.5 1443.1 L854.1 1443.1 L854.1 1459.1" fill="none" stroke="#4b4947" stroke-width="1.5" />
<text x="803.0" y="1435.3" font-size="18" textLength="64.3" lengthAdjust="spacingAndGlyphs">0.0033</text>
<path d="M918.4 1629.9 L918.4 1496.0 L957.2 1496.0 L957.2 1511.6" fill="none" stroke="#4b4947" stroke-width="1.5" />
<text x="908.1" y="1489.3" font-size="18" textLength="60.3" lengthAdjust="spacingAndGlyphs">0.0016</text>
<path d="M957.2 1561.8 L957.2 1546.2 L996.1 1546.2 L996.1 1561.8" fill="none" stroke="#4b4947" stroke-width="1.5" />
<text x="943.8" y="1539.5" font-size="18" textLength="64.5" lengthAdjust="spacingAndGlyphs">0.0033</text>
<text x="1117.6" y="1389.5" font-size="39" textLength="23.5" lengthAdjust="spacingAndGlyphs" font-weight="bold" fill="#111" stroke="#111" stroke-width="0.9">g</text>
<circle cx="1210.4" cy="1381.7" r="11.3" fill="#70ad58" stroke="#1a1a1a" stroke-width="2" />
<text x="1237.0" y="1389.5" font-size="27" textLength="270.5" lengthAdjust="spacingAndGlyphs">Glucose dependence</text>
<circle cx="1798.3" cy="1381.1" r="11.3" fill="#f39237" stroke="#1a1a1a" stroke-width="2" />
<text x="1825.2" y="1389.5" font-size="27" textLength="288.5" lengthAdjust="spacingAndGlyphs">FAO and AAO capacity</text>
<ellipse cx="1190.1" cy="1633.3" rx="72.8" ry="74.9" fill="#8cc3e0" stroke="#3787bb" stroke-width="2.1"/>
<ellipse cx="1196.9" cy="1641.5" rx="45.2" ry="46.5" fill="#7caac5" stroke="#6b9cba" stroke-width="1"/>
<text x="1121.0" y="1649.2" font-size="27" textLength="139.2" lengthAdjust="spacingAndGlyphs">CD8<tspan font-size="16.7" dy="-11.5">+</tspan><tspan dy="11.5"> T cell</tspan></text>
<line x1="1416.6" y1="1503.4" x2="1416.6" y2="1775.6" stroke="#4b4947" stroke-width="1.6" />
<line x1="1405.7" y1="1775.6" x2="1688.6" y2="1775.6" stroke="#4b4947" stroke-width="1.6" />
<line x1="1405.7" y1="1504.2" x2="1416.6" y2="1504.2" stroke="#4b4947" stroke-width="1.6" />
<text x="1391.7" y="1511.7" font-size="24" text-anchor="end" textLength="41.1" lengthAdjust="spacingAndGlyphs">100</text>
<line x1="1405.7" y1="1558.7" x2="1416.6" y2="1558.7" stroke="#4b4947" stroke-width="1.6" />
<text x="1391.7" y="1566.2" font-size="24" text-anchor="end" textLength="28.4" lengthAdjust="spacingAndGlyphs">80</text>
<line x1="1405.7" y1="1612.7" x2="1416.6" y2="1612.7" stroke="#4b4947" stroke-width="1.6" />
<text x="1391.7" y="1620.2" font-size="24" text-anchor="end" textLength="28.4" lengthAdjust="spacingAndGlyphs">60</text>
<line x1="1405.7" y1="1666.7" x2="1416.6" y2="1666.7" stroke="#4b4947" stroke-width="1.6" />
<text x="1391.7" y="1674.2" font-size="24" text-anchor="end" textLength="28.4" lengthAdjust="spacingAndGlyphs">40</text>
<line x1="1405.7" y1="1721.4" x2="1416.6" y2="1721.4" stroke="#4b4947" stroke-width="1.6" />
<text x="1391.7" y="1728.9" font-size="24" text-anchor="end" textLength="28.4" lengthAdjust="spacingAndGlyphs">20</text>
<line x1="1405.7" y1="1775.6" x2="1416.6" y2="1775.6" stroke="#4b4947" stroke-width="1.6" />
<text x="1391.7" y="1783.1" font-size="24" text-anchor="end" textLength="14.1" lengthAdjust="spacingAndGlyphs">0</text>
<line x1="1442.3" y1="1775.6" x2="1442.3" y2="1786.6" stroke="#4b4947" stroke-width="1.6" />
<line x1="1480.9" y1="1775.6" x2="1480.9" y2="1786.6" stroke="#4b4947" stroke-width="1.6" />
<line x1="1519.7" y1="1775.6" x2="1519.7" y2="1786.6" stroke="#4b4947" stroke-width="1.6" />
<line x1="1584.0" y1="1775.6" x2="1584.0" y2="1786.6" stroke="#4b4947" stroke-width="1.6" />
<line x1="1622.8" y1="1775.6" x2="1622.8" y2="1786.6" stroke="#4b4947" stroke-width="1.6" />
<line x1="1661.6" y1="1775.6" x2="1661.6" y2="1786.6" stroke="#4b4947" stroke-width="1.6" />
<rect x="1429.5" y="1535.5" width="25.3" height="240.1" fill="#f89e82" stroke="#2e2a2b" stroke-width="1.5" />
<rect x="1468.4" y="1621.4" width="25.2" height="154.2" fill="#f89e82" stroke="#2e2a2b" stroke-width="1.5" />
<rect x="1507.2" y="1578.1" width="25.4" height="197.5" fill="#f89e82" stroke="#2e2a2b" stroke-width="1.5" />
<rect x="1571.5" y="1744.8" width="25.0" height="30.8" fill="#29a0dc" stroke="#2e2a2b" stroke-width="1.5" />
<rect x="1610.5" y="1659.3" width="25.2" height="116.3" fill="#29a0dc" stroke="#2e2a2b" stroke-width="1.5" />
<rect x="1649.4" y="1702.4" width="25.2" height="73.2" fill="#29a0dc" stroke="#2e2a2b" stroke-width="1.5" />
<line x1="1480.9" y1="1602.4" x2="1480.9" y2="1639.9" stroke="#231f20" stroke-width="1.5" />
<line x1="1475.1" y1="1602.4" x2="1486.7" y2="1602.4" stroke="#231f20" stroke-width="1.5" />
<line x1="1475.1" y1="1639.9" x2="1486.7" y2="1639.9" stroke="#231f20" stroke-width="1.5" />
<line x1="1519.7" y1="1563.4" x2="1519.7" y2="1592.4" stroke="#231f20" stroke-width="1.5" />
<line x1="1513.9" y1="1563.4" x2="1525.5" y2="1563.4" stroke="#231f20" stroke-width="1.5" />
<line x1="1513.9" y1="1592.4" x2="1525.5" y2="1592.4" stroke="#231f20" stroke-width="1.5" />
<line x1="1622.8" y1="1640.3" x2="1622.8" y2="1677.8" stroke="#231f20" stroke-width="1.5" />
<line x1="1617.0" y1="1640.3" x2="1628.6" y2="1640.3" stroke="#231f20" stroke-width="1.5" />
<line x1="1617.0" y1="1677.8" x2="1628.6" y2="1677.8" stroke="#231f20" stroke-width="1.5" />
<line x1="1661.6" y1="1687.9" x2="1661.6" y2="1717.0" stroke="#231f20" stroke-width="1.5" />
<line x1="1655.8" y1="1687.9" x2="1667.4" y2="1687.9" stroke="#231f20" stroke-width="1.5" />
<line x1="1655.8" y1="1717.0" x2="1667.4" y2="1717.0" stroke="#231f20" stroke-width="1.5" />
<line x1="1442.3" y1="1531.5" x2="1442.3" y2="1539.5" stroke="#231f20" stroke-width="1.5" />
<line x1="1436.5" y1="1531.5" x2="1448.1" y2="1531.5" stroke="#231f20" stroke-width="1.5" />
<line x1="1436.5" y1="1539.5" x2="1448.1" y2="1539.5" stroke="#231f20" stroke-width="1.5" />
<line x1="1584.0" y1="1739.0" x2="1584.0" y2="1750.0" stroke="#231f20" stroke-width="1.5" />
<line x1="1578.2" y1="1739.0" x2="1589.8" y2="1739.0" stroke="#231f20" stroke-width="1.5" />
<line x1="1578.2" y1="1750.0" x2="1589.8" y2="1750.0" stroke="#231f20" stroke-width="1.5" />
<circle cx="1439.8" cy="1513.8" r="5.2" fill="#ee2a25" stroke="#1a1a1a" stroke-width="1.5" />
<circle cx="1444.7" cy="1516.0" r="5.2" fill="#ee2a25" stroke="#1a1a1a" stroke-width="1.5" />
<circle cx="1447.0" cy="1521.2" r="5.2" fill="#ee2a25" stroke="#1a1a1a" stroke-width="1.5" />
<circle cx="1437.4" cy="1527.2" r="5.2" fill="#ee2a25" stroke="#1a1a1a" stroke-width="1.5" />
<circle cx="1447.0" cy="1533.9" r="5.2" fill="#ee2a25" stroke="#1a1a1a" stroke-width="1.5" />
<circle cx="1437.4" cy="1535.0" r="5.2" fill="#ee2a25" stroke="#1a1a1a" stroke-width="1.5" />
<circle cx="1442.0" cy="1532.1" r="5.2" fill="#ee2a25" stroke="#1a1a1a" stroke-width="1.5" />
<circle cx="1439.8" cy="1539.5" r="5.2" fill="#ee2a25" stroke="#1a1a1a" stroke-width="1.5" />
<circle cx="1447.0" cy="1539.5" r="5.2" fill="#ee2a25" stroke="#1a1a1a" stroke-width="1.5" />
<circle cx="1449.2" cy="1542.8" r="5.2" fill="#ee2a25" stroke="#1a1a1a" stroke-width="1.5" />
<circle cx="1434.7" cy="1547.3" r="5.2" fill="#ee2a25" stroke="#1a1a1a" stroke-width="1.5" />
<circle cx="1444.7" cy="1546.8" r="5.2" fill="#ee2a25" stroke="#1a1a1a" stroke-width="1.5" />
<circle cx="1442.0" cy="1564.0" r="5.2" fill="#ee2a25" stroke="#1a1a1a" stroke-width="1.5" />
<circle cx="1473.3" cy="1558.4" r="5.2" fill="#ee2a25" stroke="#1a1a1a" stroke-width="1.5" />
<circle cx="1480.9" cy="1557.6" r="5.2" fill="#ee2a25" stroke="#1a1a1a" stroke-width="1.5" />
<circle cx="1488.7" cy="1557.3" r="5.2" fill="#ee2a25" stroke="#1a1a1a" stroke-width="1.5" />
<circle cx="1473.3" cy="1573.4" r="5.2" fill="#ee2a25" stroke="#1a1a1a" stroke-width="1.5" />
<circle cx="1488.7" cy="1573.0" r="5.2" fill="#ee2a25" stroke="#1a1a1a" stroke-width="1.5" />
<circle cx="1480.9" cy="1582.5" r="5.2" fill="#ee2a25" stroke="#1a1a1a" stroke-width="1.5" />
<circle cx="1488.7" cy="1620.3" r="5.2" fill="#ee2a25" stroke="#1a1a1a" stroke-width="1.5" />
<circle cx="1480.9" cy="1628.1" r="5.2" fill="#ee2a25" stroke="#1a1a1a" stroke-width="1.5" />
<circle cx="1480.9" cy="1665.6" r="5.2" fill="#ee2a25" stroke="#1a1a1a" stroke-width="1.5" />
<circle cx="1480.9" cy="1681.2" r="5.2" fill="#ee2a25" stroke="#1a1a1a" stroke-width="1.5" />
<circle cx="1484.4" cy="1723.1" r="5.2" fill="#ee2a25" stroke="#1a1a1a" stroke-width="1.5" />
<circle cx="1476.6" cy="1733.9" r="5.2" fill="#ee2a25" stroke="#1a1a1a" stroke-width="1.5" />
<circle cx="1512.1" cy="1509.8" r="5.2" fill="#ee2a25" stroke="#1a1a1a" stroke-width="1.5" />
<circle cx="1527.5" cy="1511.4" r="5.2" fill="#ee2a25" stroke="#1a1a1a" stroke-width="1.5" />
<circle cx="1512.1" cy="1539.5" r="5.2" fill="#ee2a25" stroke="#1a1a1a" stroke-width="1.5" />
<circle cx="1527.5" cy="1543.9" r="5.2" fill="#ee2a25" stroke="#1a1a1a" stroke-width="1.5" />
<circle cx="1512.1" cy="1551.3" r="5.2" fill="#ee2a25" stroke="#1a1a1a" stroke-width="1.5" />
<circle cx="1519.7" cy="1567.1" r="5.2" fill="#ee2a25" stroke="#1a1a1a" stroke-width="1.5" />
<circle cx="1527.5" cy="1583.4" r="5.2" fill="#ee2a25" stroke="#1a1a1a" stroke-width="1.5" />
<circle cx="1512.1" cy="1590.1" r="5.2" fill="#ee2a25" stroke="#1a1a1a" stroke-width="1.5" />
<circle cx="1519.7" cy="1602.0" r="5.2" fill="#ee2a25" stroke="#1a1a1a" stroke-width="1.5" />
<circle cx="1512.1" cy="1634.8" r="5.2" fill="#ee2a25" stroke="#1a1a1a" stroke-width="1.5" />
<circle cx="1527.5" cy="1641.7" r="5.2" fill="#ee2a25" stroke="#1a1a1a" stroke-width="1.5" />
<circle cx="1519.7" cy="1662.2" r="5.2" fill="#ee2a25" stroke="#1a1a1a" stroke-width="1.5" />
<circle cx="1584.0" cy="1716.4" r="5.2" fill="#29a0dc" stroke="#1a1a1a" stroke-width="1.5" />
<circle cx="1580.8" cy="1732.5" r="5.2" fill="#29a0dc" stroke="#1a1a1a" stroke-width="1.5" />
<circle cx="1585.8" cy="1733.0" r="5.2" fill="#29a0dc" stroke="#1a1a1a" stroke-width="1.5" />
<circle cx="1576.4" cy="1745.5" r="5.2" fill="#29a0dc" stroke="#1a1a1a" stroke-width="1.5" />
<circle cx="1584.0" cy="1746.6" r="5.2" fill="#29a0dc" stroke="#1a1a1a" stroke-width="1.5" />
<circle cx="1591.6" cy="1747.7" r="5.2" fill="#29a0dc" stroke="#1a1a1a" stroke-width="1.5" />
<circle cx="1579.3" cy="1753.7" r="5.2" fill="#29a0dc" stroke="#1a1a1a" stroke-width="1.5" />
<circle cx="1587.5" cy="1751.5" r="5.2" fill="#29a0dc" stroke="#1a1a1a" stroke-width="1.5" />
<circle cx="1584.0" cy="1760.4" r="5.2" fill="#29a0dc" stroke="#1a1a1a" stroke-width="1.5" />
<circle cx="1580.2" cy="1767.1" r="5.2" fill="#29a0dc" stroke="#1a1a1a" stroke-width="1.5" />
<circle cx="1588.0" cy="1764.2" r="5.2" fill="#29a0dc" stroke="#1a1a1a" stroke-width="1.5" />
<circle cx="1615.9" cy="1546.4" r="5.2" fill="#29a0dc" stroke="#1a1a1a" stroke-width="1.5" />
<circle cx="1622.8" cy="1556.7" r="5.2" fill="#29a0dc" stroke="#1a1a1a" stroke-width="1.5" />
<circle cx="1622.8" cy="1599.1" r="5.2" fill="#29a0dc" stroke="#1a1a1a" stroke-width="1.5" />
<circle cx="1622.8" cy="1614.9" r="5.2" fill="#29a0dc" stroke="#1a1a1a" stroke-width="1.5" />
<circle cx="1630.4" cy="1652.8" r="5.2" fill="#29a0dc" stroke="#1a1a1a" stroke-width="1.5" />
<circle cx="1622.8" cy="1660.4" r="5.2" fill="#29a0dc" stroke="#1a1a1a" stroke-width="1.5" />
<circle cx="1615.4" cy="1697.9" r="5.2" fill="#29a0dc" stroke="#1a1a1a" stroke-width="1.5" />
<circle cx="1622.8" cy="1707.5" r="5.2" fill="#29a0dc" stroke="#1a1a1a" stroke-width="1.5" />
<circle cx="1630.4" cy="1706.9" r="5.2" fill="#29a0dc" stroke="#1a1a1a" stroke-width="1.5" />
<circle cx="1615.4" cy="1722.9" r="5.2" fill="#29a0dc" stroke="#1a1a1a" stroke-width="1.5" />
<circle cx="1622.8" cy="1722.5" r="5.2" fill="#29a0dc" stroke="#1a1a1a" stroke-width="1.5" />
<circle cx="1630.4" cy="1722.9" r="5.2" fill="#29a0dc" stroke="#1a1a1a" stroke-width="1.5" />
<circle cx="1661.6" cy="1617.6" r="5.2" fill="#29a0dc" stroke="#1a1a1a" stroke-width="1.5" />
<circle cx="1669.4" cy="1638.3" r="5.2" fill="#29a0dc" stroke="#1a1a1a" stroke-width="1.5" />
<circle cx="1654.0" cy="1646.2" r="5.2" fill="#29a0dc" stroke="#1a1a1a" stroke-width="1.5" />
<circle cx="1661.6" cy="1678.5" r="5.2" fill="#29a0dc" stroke="#1a1a1a" stroke-width="1.5" />
<circle cx="1654.0" cy="1690.8" r="5.2" fill="#29a0dc" stroke="#1a1a1a" stroke-width="1.5" />
<circle cx="1669.4" cy="1697.3" r="5.2" fill="#29a0dc" stroke="#1a1a1a" stroke-width="1.5" />
<circle cx="1661.6" cy="1712.4" r="5.2" fill="#29a0dc" stroke="#1a1a1a" stroke-width="1.5" />
<circle cx="1654.0" cy="1728.7" r="5.2" fill="#29a0dc" stroke="#1a1a1a" stroke-width="1.5" />
<circle cx="1669.4" cy="1736.3" r="5.2" fill="#29a0dc" stroke="#1a1a1a" stroke-width="1.5" />
<circle cx="1654.0" cy="1741.0" r="5.2" fill="#29a0dc" stroke="#1a1a1a" stroke-width="1.5" />
<circle cx="1654.0" cy="1770.9" r="5.2" fill="#29a0dc" stroke="#1a1a1a" stroke-width="1.5" />
<circle cx="1669.4" cy="1768.2" r="5.2" fill="#29a0dc" stroke="#1a1a1a" stroke-width="1.5" />
<text x="1452.6" y="1810.3" font-size="26" text-anchor="end" textLength="42.0" lengthAdjust="spacingAndGlyphs" transform="rotate(-45 1452.6 1810.3)">WT</text>
<text x="1490.9" y="1808.6" font-size="26" text-anchor="end" textLength="54.0" lengthAdjust="spacingAndGlyphs" transform="rotate(-45 1490.9 1808.6)">ABX</text>
<text x="1532.7" y="1808.1" font-size="26" text-anchor="end" textLength="121.5" lengthAdjust="spacingAndGlyphs" transform="rotate(-45 1532.7 1808.1)">ABX + IPA</text>
<text x="1594.3" y="1810.3" font-size="26" text-anchor="end" textLength="42.0" lengthAdjust="spacingAndGlyphs" transform="rotate(-45 1594.3 1810.3)">WT</text>
<text x="1632.8" y="1808.6" font-size="26" text-anchor="end" textLength="54.0" lengthAdjust="spacingAndGlyphs" transform="rotate(-45 1632.8 1808.6)">ABX</text>
<text x="1674.6" y="1808.1" font-size="26" text-anchor="end" textLength="121.5" lengthAdjust="spacingAndGlyphs" transform="rotate(-45 1674.6 1808.1)">ABX + IPA</text>
<text x="1331.8" y="1641.1" font-size="27" text-anchor="middle" textLength="190.2" lengthAdjust="spacingAndGlyphs" transform="rotate(-90 1331.8 1641.1)">Percentage (%)</text>
<path d="M1442.3 1493.3 L1442.3 1477.7 L1480.9 1477.7 L1480.9 1493.3" fill="none" stroke="#4b4947" stroke-width="1.5" />
<text x="1429.5" y="1468.1" font-size="18" textLength="71.5" lengthAdjust="spacingAndGlyphs"><tspan font-size="14.4" dy="-1">&lt;</tspan><tspan dy="1">0.0001</tspan></text>
<path d="M1584.0 1493.3 L1584.0 1477.7 L1622.8 1477.7 L1622.8 1493.3" fill="none" stroke="#4b4947" stroke-width="1.5" />
<text x="1568.6" y="1470.3" font-size="18" textLength="71.4" lengthAdjust="spacingAndGlyphs"><tspan font-size="14.4" dy="-1">&lt;</tspan><tspan dy="1">0.0001</tspan></text>
<line x1="1856.2" y1="1503.4" x2="1856.2" y2="1775.6" stroke="#4b4947" stroke-width="1.6" />
<line x1="1845.2" y1="1775.6" x2="2128.0" y2="1775.6" stroke="#4b4947" stroke-width="1.6" />
<line x1="1845.2" y1="1504.2" x2="1856.2" y2="1504.2" stroke="#4b4947" stroke-width="1.6" />
<text x="1831.7" y="1511.7" font-size="24" text-anchor="end" textLength="41.1" lengthAdjust="spacingAndGlyphs">100</text>
<line x1="1845.2" y1="1558.7" x2="1856.2" y2="1558.7" stroke="#4b4947" stroke-width="1.6" />
<text x="1831.7" y="1566.2" font-size="24" text-anchor="end" textLength="28.4" lengthAdjust="spacingAndGlyphs">80</text>
<line x1="1845.2" y1="1612.9" x2="1856.2" y2="1612.9" stroke="#4b4947" stroke-width="1.6" />
<text x="1831.7" y="1620.4" font-size="24" text-anchor="end" textLength="28.4" lengthAdjust="spacingAndGlyphs">60</text>
<line x1="1845.2" y1="1666.9" x2="1856.2" y2="1666.9" stroke="#4b4947" stroke-width="1.6" />
<text x="1831.7" y="1674.4" font-size="24" text-anchor="end" textLength="28.4" lengthAdjust="spacingAndGlyphs">40</text>
<line x1="1845.2" y1="1721.4" x2="1856.2" y2="1721.4" stroke="#4b4947" stroke-width="1.6" />
<text x="1831.7" y="1728.9" font-size="24" text-anchor="end" textLength="28.4" lengthAdjust="spacingAndGlyphs">20</text>
<line x1="1845.2" y1="1775.6" x2="1856.2" y2="1775.6" stroke="#4b4947" stroke-width="1.6" />
<text x="1831.7" y="1783.1" font-size="24" text-anchor="end" textLength="14.1" lengthAdjust="spacingAndGlyphs">0</text>
<line x1="1881.8" y1="1775.6" x2="1881.8" y2="1786.6" stroke="#4b4947" stroke-width="1.6" />
<line x1="1920.4" y1="1775.6" x2="1920.4" y2="1786.6" stroke="#4b4947" stroke-width="1.6" />
<line x1="1959.3" y1="1775.6" x2="1959.3" y2="1786.6" stroke="#4b4947" stroke-width="1.6" />
<line x1="2023.5" y1="1775.6" x2="2023.5" y2="1786.6" stroke="#4b4947" stroke-width="1.6" />
<line x1="2062.4" y1="1775.6" x2="2062.4" y2="1786.6" stroke="#4b4947" stroke-width="1.6" />
<line x1="2101.2" y1="1775.6" x2="2101.2" y2="1786.6" stroke="#4b4947" stroke-width="1.6" />
<rect x="1869.5" y="1591.9" width="24.8" height="183.7" fill="#b9d2a6" stroke="#2e2a2b" stroke-width="1.5" />
<rect x="1907.7" y="1557.6" width="25.4" height="218.0" fill="#b9d2a6" stroke="#2e2a2b" stroke-width="1.5" />
<rect x="1946.8" y="1599.7" width="25.2" height="175.9" fill="#b9d2a6" stroke="#2e2a2b" stroke-width="1.5" />
<rect x="2011.3" y="1692.3" width="24.9" height="83.3" fill="#fac596" stroke="#2e2a2b" stroke-width="1.5" />
<rect x="2049.9" y="1724.0" width="25.2" height="51.6" fill="#fac596" stroke="#2e2a2b" stroke-width="1.5" />
<rect x="2088.5" y="1681.9" width="25.2" height="93.7" fill="#fac596" stroke="#2e2a2b" stroke-width="1.5" />
<line x1="1959.3" y1="1584.3" x2="1959.3" y2="1614.7" stroke="#231f20" stroke-width="1.5" />
<line x1="1953.5" y1="1584.3" x2="1965.1" y2="1584.3" stroke="#231f20" stroke-width="1.5" />
<line x1="1953.5" y1="1614.7" x2="1965.1" y2="1614.7" stroke="#231f20" stroke-width="1.5" />
<line x1="2101.2" y1="1666.7" x2="2101.2" y2="1696.4" stroke="#231f20" stroke-width="1.5" />
<line x1="2095.4" y1="1666.7" x2="2107.0" y2="1666.7" stroke="#231f20" stroke-width="1.5" />
<line x1="2095.4" y1="1696.4" x2="2107.0" y2="1696.4" stroke="#231f20" stroke-width="1.5" />
<line x1="1920.4" y1="1551.5" x2="1920.4" y2="1563.0" stroke="#231f20" stroke-width="1.5" />
<line x1="1914.6" y1="1551.5" x2="1926.2" y2="1551.5" stroke="#231f20" stroke-width="1.5" />
<line x1="1914.6" y1="1563.0" x2="1926.2" y2="1563.0" stroke="#231f20" stroke-width="1.5" />
<line x1="1881.8" y1="1586.0" x2="1881.8" y2="1597.0" stroke="#231f20" stroke-width="1.5" />
<line x1="1876.0" y1="1586.0" x2="1887.6" y2="1586.0" stroke="#231f20" stroke-width="1.5" />
<line x1="1876.0" y1="1597.0" x2="1887.6" y2="1597.0" stroke="#231f20" stroke-width="1.5" />
<line x1="2023.5" y1="1688.0" x2="2023.5" y2="1697.0" stroke="#231f20" stroke-width="1.5" />
<line x1="2017.7" y1="1688.0" x2="2029.3" y2="1688.0" stroke="#231f20" stroke-width="1.5" />
<line x1="2017.7" y1="1697.0" x2="2029.3" y2="1697.0" stroke="#231f20" stroke-width="1.5" />
<line x1="2062.4" y1="1717.0" x2="2062.4" y2="1731.0" stroke="#231f20" stroke-width="1.5" />
<line x1="2056.6" y1="1717.0" x2="2068.2" y2="1717.0" stroke="#231f20" stroke-width="1.5" />
<line x1="2056.6" y1="1731.0" x2="2068.2" y2="1731.0" stroke="#231f20" stroke-width="1.5" />
<circle cx="1887.0" cy="1572.3" r="5.2" fill="#70ad58" stroke="#1a1a1a" stroke-width="1.5" />
<circle cx="1876.9" cy="1577.0" r="5.2" fill="#70ad58" stroke="#1a1a1a" stroke-width="1.5" />
<circle cx="1889.2" cy="1579.2" r="5.2" fill="#70ad58" stroke="#1a1a1a" stroke-width="1.5" />
<circle cx="1884.0" cy="1583.0" r="5.2" fill="#70ad58" stroke="#1a1a1a" stroke-width="1.5" />
<circle cx="1874.2" cy="1586.3" r="5.2" fill="#70ad58" stroke="#1a1a1a" stroke-width="1.5" />
<circle cx="1889.2" cy="1589.2" r="5.2" fill="#70ad58" stroke="#1a1a1a" stroke-width="1.5" />
<circle cx="1881.4" cy="1589.7" r="5.2" fill="#70ad58" stroke="#1a1a1a" stroke-width="1.5" />
<circle cx="1874.2" cy="1597.5" r="5.2" fill="#70ad58" stroke="#1a1a1a" stroke-width="1.5" />
<circle cx="1881.8" cy="1604.2" r="5.2" fill="#70ad58" stroke="#1a1a1a" stroke-width="1.5" />
<circle cx="1881.8" cy="1642.1" r="5.2" fill="#70ad58" stroke="#1a1a1a" stroke-width="1.5" />
<circle cx="1920.4" cy="1512.0" r="5.2" fill="#70ad58" stroke="#1a1a1a" stroke-width="1.5" />
<circle cx="1917.7" cy="1527.2" r="5.2" fill="#70ad58" stroke="#1a1a1a" stroke-width="1.5" />
<circle cx="1923.1" cy="1531.2" r="5.2" fill="#70ad58" stroke="#1a1a1a" stroke-width="1.5" />
<circle cx="1917.7" cy="1538.4" r="5.2" fill="#70ad58" stroke="#1a1a1a" stroke-width="1.5" />
<circle cx="1917.7" cy="1552.9" r="5.2" fill="#70ad58" stroke="#1a1a1a" stroke-width="1.5" />
<circle cx="1928.2" cy="1556.9" r="5.2" fill="#70ad58" stroke="#1a1a1a" stroke-width="1.5" />
<circle cx="1917.7" cy="1563.6" r="5.2" fill="#70ad58" stroke="#1a1a1a" stroke-width="1.5" />
<circle cx="1923.1" cy="1561.1" r="5.2" fill="#70ad58" stroke="#1a1a1a" stroke-width="1.5" />
<circle cx="1912.6" cy="1578.1" r="5.2" fill="#70ad58" stroke="#1a1a1a" stroke-width="1.5" />
<circle cx="1912.6" cy="1590.1" r="5.2" fill="#70ad58" stroke="#1a1a1a" stroke-width="1.5" />
<circle cx="1923.1" cy="1588.1" r="5.2" fill="#70ad58" stroke="#1a1a1a" stroke-width="1.5" />
<circle cx="1928.2" cy="1586.3" r="5.2" fill="#70ad58" stroke="#1a1a1a" stroke-width="1.5" />
<circle cx="1959.3" cy="1525.6" r="5.2" fill="#70ad58" stroke="#1a1a1a" stroke-width="1.5" />
<circle cx="1959.3" cy="1552.4" r="5.2" fill="#70ad58" stroke="#1a1a1a" stroke-width="1.5" />
<circle cx="1951.7" cy="1556.2" r="5.2" fill="#70ad58" stroke="#1a1a1a" stroke-width="1.5" />
<circle cx="1959.3" cy="1564.5" r="5.2" fill="#70ad58" stroke="#1a1a1a" stroke-width="1.5" />
<circle cx="1951.7" cy="1566.9" r="5.2" fill="#70ad58" stroke="#1a1a1a" stroke-width="1.5" />
<circle cx="1967.1" cy="1571.4" r="5.2" fill="#70ad58" stroke="#1a1a1a" stroke-width="1.5" />
<circle cx="1951.7" cy="1619.8" r="5.2" fill="#70ad58" stroke="#1a1a1a" stroke-width="1.5" />
<circle cx="1967.1" cy="1620.3" r="5.2" fill="#70ad58" stroke="#1a1a1a" stroke-width="1.5" />
<circle cx="1959.3" cy="1621.6" r="5.2" fill="#70ad58" stroke="#1a1a1a" stroke-width="1.5" />
<circle cx="1959.3" cy="1634.3" r="5.2" fill="#70ad58" stroke="#1a1a1a" stroke-width="1.5" />
<circle cx="1959.3" cy="1653.3" r="5.2" fill="#70ad58" stroke="#1a1a1a" stroke-width="1.5" />
<circle cx="1959.3" cy="1705.3" r="5.2" fill="#70ad58" stroke="#1a1a1a" stroke-width="1.5" />
<circle cx="2023.5" cy="1638.3" r="5.2" fill="#f39237" stroke="#1a1a1a" stroke-width="1.5" />
<circle cx="2022.0" cy="1676.1" r="5.2" fill="#f39237" stroke="#1a1a1a" stroke-width="1.5" />
<circle cx="2025.3" cy="1682.3" r="5.2" fill="#f39237" stroke="#1a1a1a" stroke-width="1.5" />
<circle cx="2015.9" cy="1690.1" r="5.2" fill="#f39237" stroke="#1a1a1a" stroke-width="1.5" />
<circle cx="2031.6" cy="1691.2" r="5.2" fill="#f39237" stroke="#1a1a1a" stroke-width="1.5" />
<circle cx="2023.5" cy="1690.1" r="5.2" fill="#f39237" stroke="#1a1a1a" stroke-width="1.5" />
<circle cx="2027.5" cy="1695.0" r="5.2" fill="#f39237" stroke="#1a1a1a" stroke-width="1.5" />
<circle cx="2019.7" cy="1694.6" r="5.2" fill="#f39237" stroke="#1a1a1a" stroke-width="1.5" />
<circle cx="2015.9" cy="1704.0" r="5.2" fill="#f39237" stroke="#1a1a1a" stroke-width="1.5" />
<circle cx="2023.5" cy="1704.0" r="5.2" fill="#f39237" stroke="#1a1a1a" stroke-width="1.5" />
<circle cx="2019.7" cy="1700.2" r="5.2" fill="#f39237" stroke="#1a1a1a" stroke-width="1.5" />
<circle cx="2031.6" cy="1708.4" r="5.2" fill="#f39237" stroke="#1a1a1a" stroke-width="1.5" />
<circle cx="2054.8" cy="1690.6" r="5.2" fill="#f39237" stroke="#1a1a1a" stroke-width="1.5" />
<circle cx="2070.4" cy="1691.9" r="5.2" fill="#f39237" stroke="#1a1a1a" stroke-width="1.5" />
<circle cx="2065.0" cy="1693.9" r="5.2" fill="#f39237" stroke="#1a1a1a" stroke-width="1.5" />
<circle cx="2059.9" cy="1702.8" r="5.2" fill="#f39237" stroke="#1a1a1a" stroke-width="1.5" />
<circle cx="2065.0" cy="1716.9" r="5.2" fill="#f39237" stroke="#1a1a1a" stroke-width="1.5" />
<circle cx="2054.8" cy="1718.7" r="5.2" fill="#f39237" stroke="#1a1a1a" stroke-width="1.5" />
<circle cx="2059.9" cy="1723.6" r="5.2" fill="#f39237" stroke="#1a1a1a" stroke-width="1.5" />
<circle cx="2065.0" cy="1728.0" r="5.2" fill="#f39237" stroke="#1a1a1a" stroke-width="1.5" />
<circle cx="2065.0" cy="1741.9" r="5.2" fill="#f39237" stroke="#1a1a1a" stroke-width="1.5" />
<circle cx="2059.9" cy="1749.3" r="5.2" fill="#f39237" stroke="#1a1a1a" stroke-width="1.5" />
<circle cx="2065.0" cy="1753.3" r="5.2" fill="#f39237" stroke="#1a1a1a" stroke-width="1.5" />
<circle cx="2062.4" cy="1768.2" r="5.2" fill="#f39237" stroke="#1a1a1a" stroke-width="1.5" />
<circle cx="2101.2" cy="1575.2" r="5.2" fill="#f39237" stroke="#1a1a1a" stroke-width="1.5" />
<circle cx="2101.2" cy="1627.2" r="5.2" fill="#f39237" stroke="#1a1a1a" stroke-width="1.5" />
<circle cx="2101.2" cy="1646.2" r="5.2" fill="#f39237" stroke="#1a1a1a" stroke-width="1.5" />
<circle cx="2093.4" cy="1659.3" r="5.2" fill="#f39237" stroke="#1a1a1a" stroke-width="1.5" />
<circle cx="2109.0" cy="1660.4" r="5.2" fill="#f39237" stroke="#1a1a1a" stroke-width="1.5" />
<circle cx="2101.6" cy="1661.1" r="5.2" fill="#f39237" stroke="#1a1a1a" stroke-width="1.5" />
<circle cx="2101.2" cy="1709.1" r="5.2" fill="#f39237" stroke="#1a1a1a" stroke-width="1.5" />
<circle cx="2109.0" cy="1713.5" r="5.2" fill="#f39237" stroke="#1a1a1a" stroke-width="1.5" />
<circle cx="2093.4" cy="1716.4" r="5.2" fill="#f39237" stroke="#1a1a1a" stroke-width="1.5" />
<circle cx="2109.0" cy="1724.0" r="5.2" fill="#f39237" stroke="#1a1a1a" stroke-width="1.5" />
<circle cx="2101.2" cy="1728.5" r="5.2" fill="#f39237" stroke="#1a1a1a" stroke-width="1.5" />
<circle cx="2101.2" cy="1754.8" r="5.2" fill="#f39237" stroke="#1a1a1a" stroke-width="1.5" />
<text x="1892.1" y="1810.3" font-size="26" text-anchor="end" textLength="42.0" lengthAdjust="spacingAndGlyphs" transform="rotate(-45 1892.1 1810.3)">WT</text>
<text x="1930.4" y="1808.6" font-size="26" text-anchor="end" textLength="54.0" lengthAdjust="spacingAndGlyphs" transform="rotate(-45 1930.4 1808.6)">ABX</text>
<text x="1972.3" y="1808.1" font-size="26" text-anchor="end" textLength="121.5" lengthAdjust="spacingAndGlyphs" transform="rotate(-45 1972.3 1808.1)">ABX + IPA</text>
<text x="2033.8" y="1810.3" font-size="26" text-anchor="end" textLength="42.0" lengthAdjust="spacingAndGlyphs" transform="rotate(-45 2033.8 1810.3)">WT</text>
<text x="2072.4" y="1808.6" font-size="26" text-anchor="end" textLength="54.0" lengthAdjust="spacingAndGlyphs" transform="rotate(-45 2072.4 1808.6)">ABX</text>
<text x="2114.2" y="1808.1" font-size="26" text-anchor="end" textLength="121.5" lengthAdjust="spacingAndGlyphs" transform="rotate(-45 2114.2 1808.1)">ABX + IPA</text>
<text x="1772.2" y="1641.1" font-size="27" text-anchor="middle" textLength="190.2" lengthAdjust="spacingAndGlyphs" transform="rotate(-90 1772.2 1641.1)">Percentage (%)</text>
<path d="M1920.4 1495.5 L1920.4 1479.9 L1959.3 1479.9 L1959.3 1495.5" fill="none" stroke="#4b4947" stroke-width="1.5" />
<text x="1908.8" y="1473.2" font-size="18" textLength="61.2" lengthAdjust="spacingAndGlyphs">0.0106</text>
<path d="M2062.4 1495.5 L2062.4 1479.9 L2101.2 1479.9 L2101.2 1495.5" fill="none" stroke="#4b4947" stroke-width="1.5" />
<text x="2050.5" y="1473.2" font-size="18" textLength="61.2" lengthAdjust="spacingAndGlyphs">0.0106</text>
</g></svg>
</body></html>
